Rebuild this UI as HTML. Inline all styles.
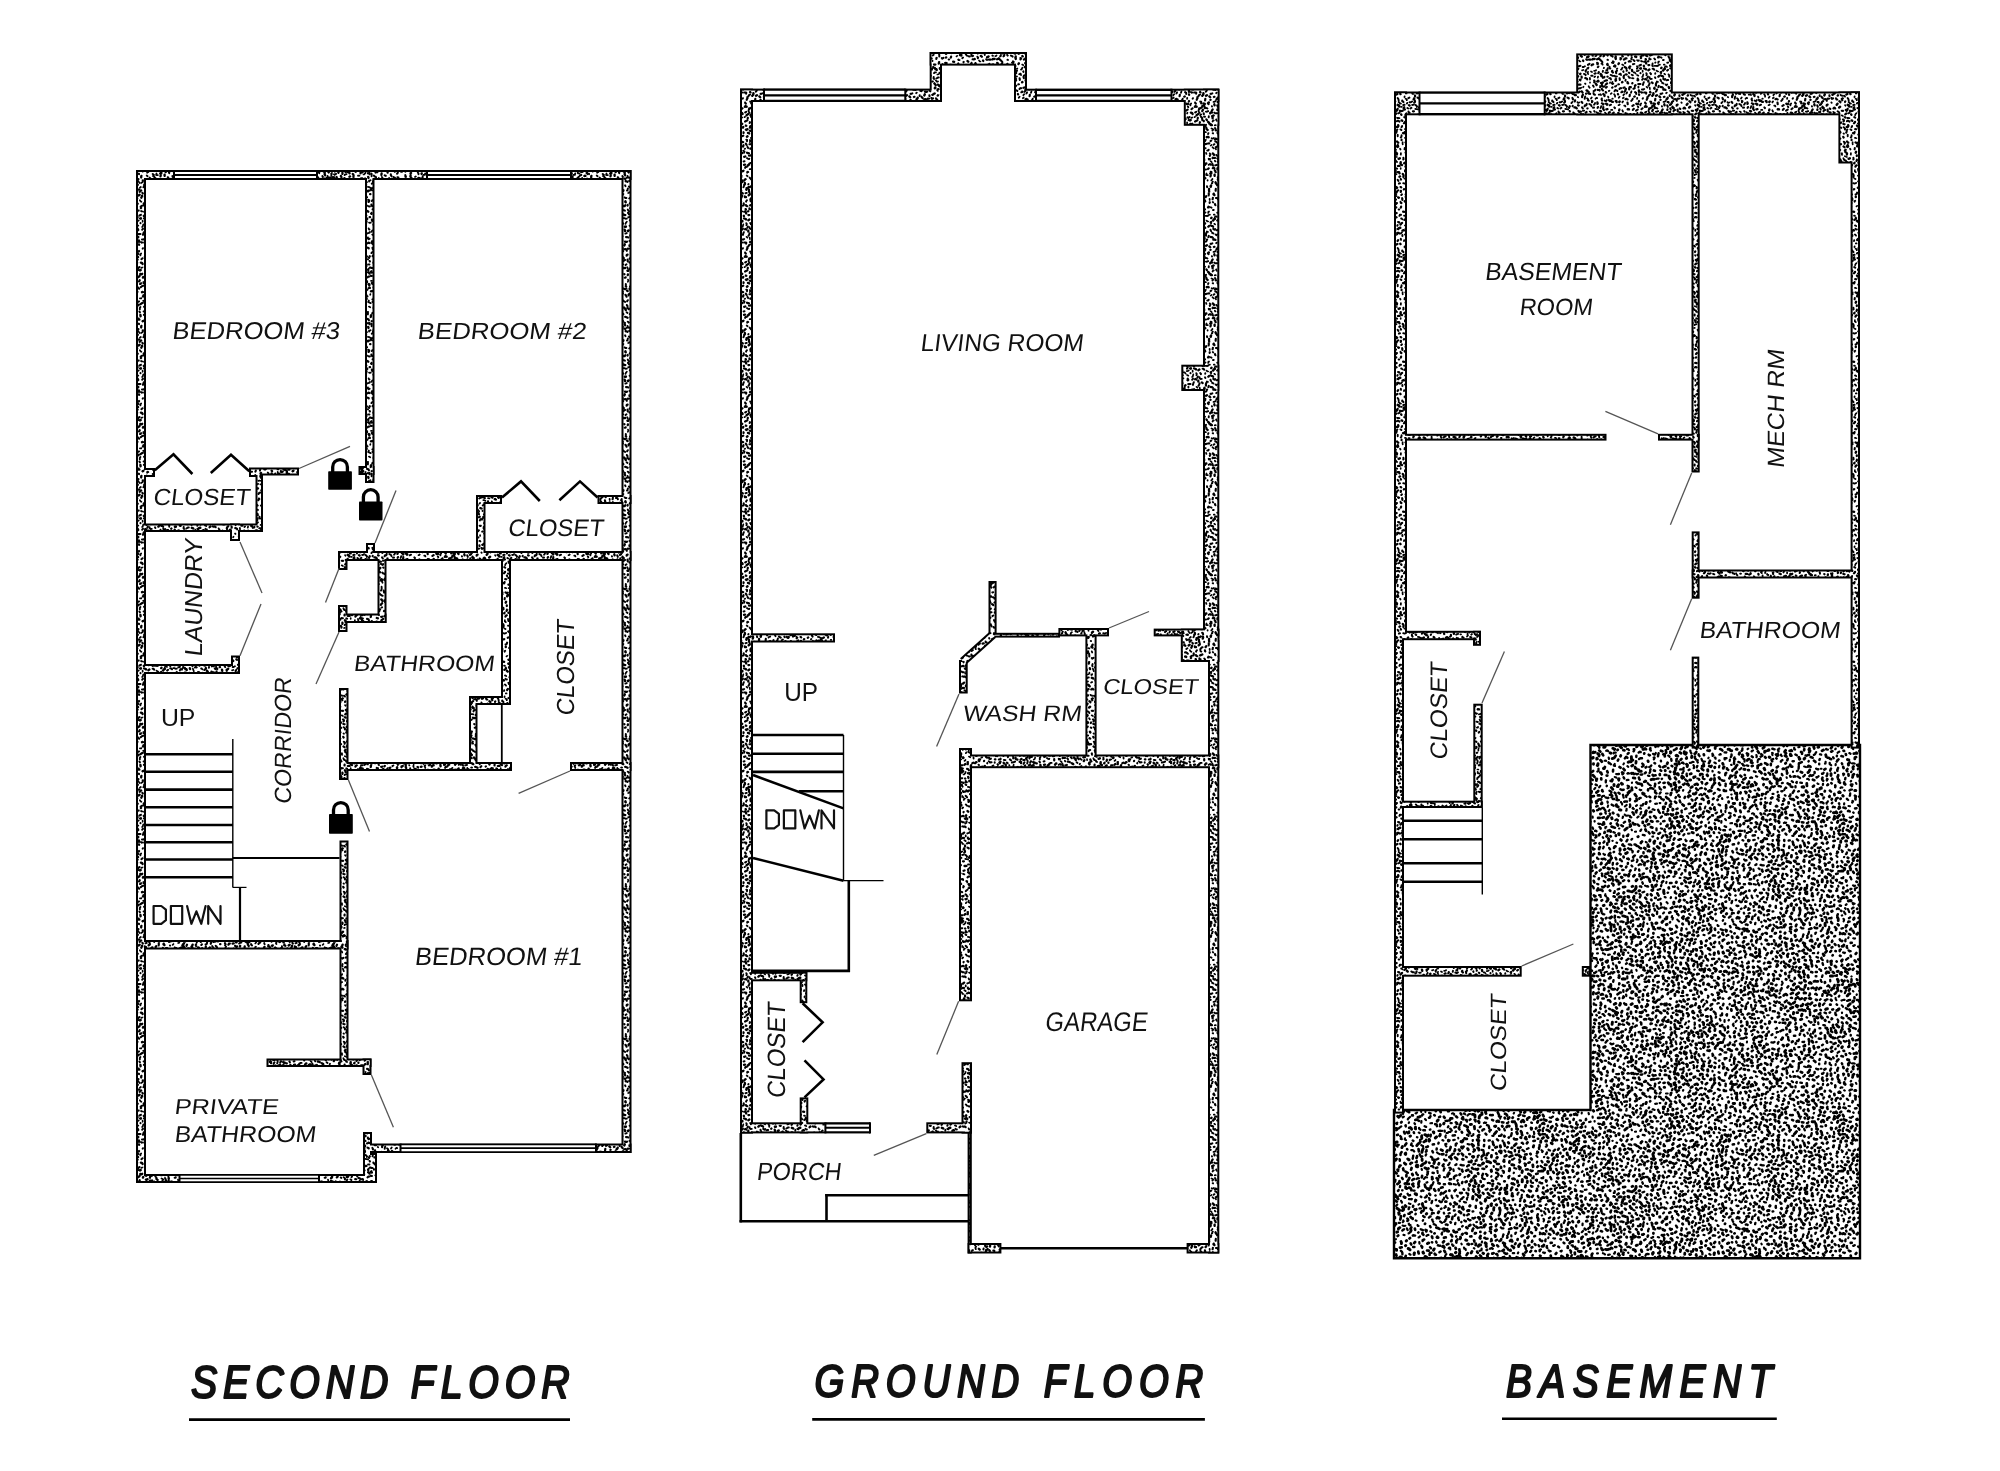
<!DOCTYPE html><html><head><meta charset="utf-8"><style>html,body{margin:0;padding:0;background:#fff;}svg{display:block;}text{font-family:"Liberation Sans",sans-serif;fill:#111;}svg{will-change:transform;}</style></head><body>
<svg width="2000" height="1471" viewBox="0 0 2000 1471">
<defs>
<pattern id="st" width="150" height="150" patternUnits="userSpaceOnUse"><rect width="150" height="150" fill="#fff"/><g stroke="#000" stroke-linecap="round" stroke-linejoin="round" fill="none"><path d="M95.3 56.1l0.8 -0.1l0.4 -0.5M119.8 104.6l-1.0 0.6l-0.3 -0.1M20.3 36.6l-1.2 0.3l-0.6 0.7M70.8 72.6l-1.1 0.4l-0.7 -0.4M77.7 53.0l-0.0 0.7M141.3 -2.0l-0.1 0.5l-1.3 -0.1M141.3 148.0l-0.1 0.5l-1.3 -0.1M87.9 135.5l-0.4 0.1l-0.3 0.1M137.0 74.9l0.4 0.3l0.9 0.4M109.9 83.0l0.2 -0.6M123.4 65.1l-0.9 -0.3l-0.3 -0.3M124.2 105.7l0.9 -0.1l0.3 0.8M112.8 98.8l-0.5 -0.2M110.4 30.8l-0.9 -0.3l-1.1 0.4M18.5 135.1l-0.3 -1.4l-1.1 -0.8M133.7 72.4l0.9 -0.0l1.0 1.1M-0.3 87.6l0.2 1.5M149.7 87.6l0.2 1.5M15.8 125.1l-1.1 0.3M77.4 102.1l0.3 0.1l0.4 0.8l1.2 -0.5M56.5 56.4l0.7 -0.6M52.7 -5.6l-0.1 -0.7l-0.1 -0.7l0.2 -0.8M52.7 144.4l-0.1 -0.7l-0.1 -0.7l0.2 -0.8M6.5 70.6l0.5 0.4l0.5 0.4l0.7 0.1M37.0 9.2l0.1 1.0M63.5 94.0l-1.1 -0.1l-0.1 -0.6l-0.7 -1.2M55.8 22.2l-0.5 -0.5l-0.5 -0.2l0.1 -1.4M90.0 82.7l-0.0 -0.4M77.0 6.0l-0.9 0.2M128.4 0.6l-0.1 -0.7l0.3 -1.4l0.1 -0.3M128.4 150.6l-0.1 -0.7l0.3 -1.4l0.1 -0.3M83.1 87.3l0.4 -0.6M79.0 60.4l0.6 1.0l0.9 0.1M45.0 105.1l0.5 0.7M34.9 21.9l0.2 -0.8l0.2 -1.1M74.1 74.7l-0.9 -0.0M141.2 117.8l0.5 0.0l0.5 -0.3M87.8 29.0l1.2 -0.5l0.1 -0.6M-5.4 -1.1l0.6 -0.3M-5.4 148.9l0.6 -0.3M144.6 -1.1l0.6 -0.3M144.6 148.9l0.6 -0.3M113.8 17.1l-0.5 -0.4l0.1 -1.0l0.3 -1.0M20.8 34.3l-0.1 -0.9l0.9 -1.1l0.3 -0.1M133.8 9.7l1.0 -0.8l0.3 -1.3M71.0 130.8l1.1 -0.0M142.1 76.9l0.5 0.0l0.4 -1.4l0.3 -1.1M125.5 116.7l-0.4 0.1l-0.2 -0.3l-0.1 -0.4M57.9 25.7l0.8 0.0l0.2 0.2l0.6 -0.3M16.9 120.9l-0.9 -1.2l0.2 -0.4M86.7 133.3l-0.4 -0.1l0.0 -0.7l0.8 -1.0M30.1 86.0l-0.0 -0.8M38.6 29.8l-0.2 0.7l0.1 0.3M34.4 137.3l-1.1 1.0l0.1 1.3l0.4 0.5M102.9 116.6l1.1 -0.0l0.6 -0.7M28.0 129.6l0.4 1.1l-0.6 1.1M44.8 6.2l1.0 0.3l0.4 0.2l0.7 0.3M127.4 19.5l1.0 -0.0M50.7 18.8l0.0 -0.7M42.9 68.6l0.1 0.6l0.6 1.4l0.2 0.5M108.0 140.2l-0.2 -1.0l-1.4 -0.2l-1.3 -0.2M138.8 60.2l0.1 0.4l-1.0 0.4l-0.8 -0.8M15.1 74.4l-0.8 -0.6M56.2 138.2l-0.9 -0.4l-0.3 0.1M63.5 24.5l0.6 -0.1l1.0 -1.0l0.6 -1.4M73.1 50.1l-0.9 0.0l-0.4 1.0M56.5 113.1l-0.8 0.8l-0.4 0.6l-0.2 0.7M42.2 95.9l-0.2 -0.5l-1.2 -0.0l-0.3 -0.6M97.2 98.2l-0.1 -0.3l-0.9 -0.0l-0.7 0.9M80.7 39.8l0.6 0.1M124.6 138.4l0.7 0.0l0.3 -0.5M41.7 115.4l0.8 0.1l0.4 0.6M70.2 7.3l-1.3 -0.7M77.7 97.0l0.5 0.3M25.5 73.9l0.5 -1.3l0.8 -0.9M33.5 -0.3l-0.8 -0.4M33.5 149.7l-0.8 -0.4M86.2 93.2l-0.4 0.2l0.2 0.7M4.2 -2.3l1.1 0.7l0.5 -0.3M4.2 147.7l1.1 0.7l0.5 -0.3M154.2 -2.3l1.1 0.7l0.5 -0.3M154.2 147.7l1.1 0.7l0.5 -0.3M128.5 35.1l-0.6 0.2l0.2 0.9l-1.1 0.8M88.1 71.8l-0.6 0.6l0.3 0.8l0.3 0.9M126.5 70.9l0.6 -0.2M71.7 81.8l-0.0 -0.6l0.6 -0.8l0.5 0.1M89.7 111.5l1.0 0.3l0.1 0.5M117.7 -3.8l0.7 -0.0l0.5 0.6l0.8 1.0M117.7 146.2l0.7 -0.0l0.5 0.6l0.8 1.0M55.8 93.4l0.8 -0.0M138.3 31.0l0.7 1.1l0.5 0.9M14.6 64.7l-0.8 -0.1M10.7 -4.4l0.9 -0.7M10.7 145.6l0.9 -0.7M23.5 44.0l-0.8 0.8M11.6 138.2l0.7 0.4l0.5 0.1l1.1 -0.8M38.0 81.4l-0.8 0.4l-0.9 -0.8l-0.6 -0.7M91.0 71.5l1.0 0.6M20.8 83.3l0.1 -1.3M76.7 74.1l1.0 -0.8l-0.1 -0.7M70.4 144.0l-0.2 0.8M-5.5 117.2l0.6 -0.4M144.5 117.2l0.6 -0.4M10.6 57.3l0.3 -0.2l0.8 0.7M17.3 17.8l-0.2 1.2l0.3 0.6l1.3 -0.6M37.4 74.5l1.2 -0.3l0.9 -0.8l-0.1 -0.7M55.5 29.1l-1.2 -0.6M12.7 52.0l0.6 0.5M38.0 48.2l1.5 0.2M51.9 106.8l-1.0 0.0M10.6 11.1l1.1 1.0M105.3 43.4l0.4 -0.4l0.6 -1.0M20.5 119.4l1.0 0.6l0.5 -0.7M14.7 67.7l0.6 -1.4l1.3 -0.0l0.4 0.7M122.3 140.8l-0.9 -0.3l-0.4 -0.7M13.5 101.9l0.6 0.0l0.8 -0.3l0.8 -0.6M142.7 71.8l-0.1 -1.2" stroke-width="1.7"/><path d="M65.4 10.0l-0.2 0.3l-0.6 0.6M22.1 17.6l-0.4 -0.1l-0.6 0.1M101.5 63.7l0.7 -0.2l0.4 1.1M89.6 87.7l-0.6 -0.7l-0.3 -0.7M126.6 142.0l-0.8 -0.7l-0.4 0.2M82.5 132.7l-0.2 -0.4M54.9 84.4l0.7 0.5l0.4 0.7M116.7 132.1l-0.0 -0.9l0.7 -0.9M131.4 91.4l-0.4 1.4M123.0 111.6l-0.6 -1.3M141.0 64.6l-0.3 0.8l-1.1 -0.3l-0.4 0.6M103.8 68.1l0.2 -0.4M32.8 -5.8l0.1 -1.4l0.7 -0.7l-0.5 -0.6M32.8 144.2l0.1 -1.4l0.7 -0.7l-0.5 -0.6M108.5 1.8l-0.9 1.0l0.5 1.2M108.5 151.8l-0.9 1.0l0.5 1.2M65.9 3.1l0.4 -0.7M65.9 153.1l0.4 -0.7M7.6 30.1l-0.0 0.4M6.1 2.9l0.3 1.0M6.1 152.9l0.3 1.0M-1.7 22.1l-0.3 -0.4l-0.8 0.2l-0.1 0.9M148.3 22.1l-0.3 -0.4l-0.8 0.2l-0.1 0.9M6.1 19.5l-1.2 0.2l-0.7 -0.1l-1.0 0.7M113.8 75.9l-1.4 0.0l-0.4 -0.6l-1.4 -0.4M-3.8 73.1l0.7 0.9l-0.5 1.1M146.2 73.1l0.7 0.9l-0.5 1.1M142.5 30.2l0.6 0.9l-0.8 1.2l-1.2 0.7M139.8 37.9l1.0 -0.9M108.1 96.6l0.2 0.4l0.1 0.5M117.0 36.5l0.9 -1.1l-0.4 -1.0l0.1 -1.1M90.7 2.8l-0.1 -0.3l-0.7 -1.2l-0.2 -1.0M90.7 152.8l-0.1 -0.3l-0.7 -1.2l-0.2 -1.0M103.3 30.0l-0.6 -0.7l-0.8 -0.3l-0.4 0.4M34.9 34.2l-0.0 -0.6l-0.5 -0.5l-0.0 -1.0M92.0 40.2l-0.2 -1.1l1.3 -0.4l-0.0 -0.3M12.4 29.0l-0.0 0.3l-1.1 1.0M87.6 139.5l-0.3 0.2M116.7 142.0l-0.0 -0.3M56.2 76.0l-1.2 -0.6M76.1 46.6l-0.6 0.8l-0.1 0.6l0.4 1.1M102.0 134.0l-0.2 0.6M16.0 -0.7l-0.5 -0.8M16.0 149.3l-0.5 -0.8M88.8 100.7l-1.0 -0.4l0.4 -1.1l-1.2 -0.9M30.4 91.4l-0.5 -0.7l-0.4 0.2M104.7 127.3l-0.5 -0.7l-0.3 -0.4M123.4 95.1l0.2 -0.4l0.6 -0.4M86.2 19.6l1.2 -0.7l0.2 -0.7M109.4 15.4l-0.2 -0.3M31.4 102.5l0.3 0.3M59.9 1.6l0.0 0.8M59.9 151.6l0.0 0.8M62.1 104.9l0.7 0.1l1.2 -0.3M94.2 70.8l1.4 -0.2l0.5 -0.5M137.1 98.9l0.1 -1.1M54.6 96.3l-0.1 0.8M43.4 8.2l0.4 0.7l-0.1 0.4l0.7 0.7M73.6 85.5l-0.5 -0.4l-0.8 -0.5M100.7 2.4l0.8 -0.9l1.2 -0.1M100.7 152.4l0.8 -0.9l1.2 -0.1M-0.5 77.1l0.4 1.3l0.6 0.7l1.3 -0.3M149.5 77.1l0.4 1.3l0.6 0.7l1.3 -0.3M37.5 121.9l0.8 0.4l-0.1 0.6l-0.5 0.3M22.6 86.3l-1.1 -0.7M120.3 137.6l0.7 0.1l0.7 -0.6l-0.6 -0.9M74.9 2.7l0.6 1.3l1.0 -0.3M74.9 152.7l0.6 1.3l1.0 -0.3M58.3 82.7l0.6 1.3M47.3 118.0l0.7 0.0l1.4 0.1M83.9 73.9l0.5 0.1l1.3 0.6l-0.1 0.7M29.2 42.2l0.1 0.4l-1.1 0.4M30.9 130.5l0.8 0.4l1.2 0.4M83.8 53.3l1.0 0.4l-0.0 1.4M31.6 9.7l-0.5 -0.3l-0.9 -0.9M44.1 28.0l0.6 -0.2M4.6 65.8l1.3 -0.0l1.4 0.2M154.6 65.8l1.3 -0.0l1.4 0.2M138.6 101.9l0.7 -0.8l-0.3 -0.4M122.5 102.4l-0.2 -0.3l0.7 -0.7M41.1 41.1l-0.4 -0.2M139.9 50.3l0.5 0.8l0.9 0.7M8.2 62.9l0.3 -0.6l-0.2 -0.4l0.7 -0.5M-3.1 8.1l1.1 0.7l1.1 0.3l0.2 -0.4M146.9 8.1l1.1 0.7l1.1 0.3l0.2 -0.4M137.4 24.3l0.5 -0.7l1.2 0.0l0.0 0.7M65.7 54.5l0.5 0.2l0.2 0.5l0.7 0.5M67.2 132.4l-0.0 -1.1l-0.2 -0.3l-0.8 0.1M121.0 75.1l-0.3 -1.3l-0.3 -0.2l-1.2 0.7M56.8 100.2l-0.0 -0.9l-1.2 -0.6M20.3 29.6l0.2 -0.8l0.8 -0.1l0.6 1.2M117.9 119.2l-0.7 -0.4M127.1 92.3l-0.3 0.3l-0.0 0.7l-0.4 0.2M17.4 102.0l1.2 -0.0l0.2 0.9M128.4 76.4l0.7 0.9l0.2 0.6l0.8 -0.1M90.1 123.7l0.5 0.1l0.4 -0.2M15.5 84.5l1.0 0.7l0.7 -0.7M121.0 69.6l0.7 -0.2l0.2 -0.8l0.5 -0.8M126.9 127.6l1.0 -0.1l0.1 -0.7M115.8 26.4l-0.8 0.5M68.1 109.5l-1.1 -0.4l-1.0 0.0l-0.7 -0.2M97.8 77.6l0.2 -0.9M111.6 93.3l-0.8 0.6M39.1 118.2l0.7 1.1M92.3 16.0l0.3 0.2l0.8 -0.8M13.6 -5.1l0.6 -0.7l0.3 -0.1M13.6 144.9l0.6 -0.7l0.3 -0.1M1.3 51.6l-0.9 -0.5l0.0 -0.6M151.3 51.6l-0.9 -0.5l0.0 -0.6M23.4 114.3l-1.0 -0.2l-1.1 -0.0M84.4 0.2l0.4 1.3l0.1 0.7l1.3 0.4M84.4 150.2l0.4 1.3l0.1 0.7l1.3 0.4M105.5 10.1l-0.8 -0.2l-0.9 0.1M35.3 50.8l-1.2 -0.6l-0.4 0.0l-0.3 -0.1M50.8 4.6l0.1 -1.4M50.8 154.6l0.1 -1.4M12.4 130.6l0.8 -1.0l-0.4 -0.6l-1.3 -0.5M9.6 48.8l0.1 1.2M80.5 80.5l-0.8 -0.4l-0.1 -0.4l1.2 -0.3M114.2 94.2l0.8 1.2l0.1 1.4M108.8 91.1l0.6 -0.4M42.2 52.5l-0.4 -1.1M13.5 -1.7l-0.9 -1.1M13.5 148.3l-0.9 -1.1M84.9 66.3l-1.2 0.7l-1.1 -0.0M33.5 3.8l-0.5 -0.5M33.5 153.8l-0.5 -0.5M132.9 75.4l-1.2 -0.7M111.1 104.6l-0.6 0.3l-0.9 0.5M9.9 64.7l-1.2 0.3l-0.4 0.3l-0.1 0.4M58.0 18.8l0.1 1.2l0.4 1.2M128.1 55.5l0.3 -0.3l0.2 -0.2M32.5 61.1l0.0 -0.4M86.3 32.5l1.0 -0.4l0.7 1.1M-0.3 19.2l1.2 -0.0l0.4 -0.3l1.1 -1.0M149.7 19.2l1.2 -0.0l0.4 -0.3l1.1 -1.0M137.4 112.8l-0.3 0.7M91.7 97.5l-0.7 1.0M50.4 -0.5l0.1 -0.3l-0.4 -0.5M50.4 149.5l0.1 -0.3l-0.4 -0.5M70.7 3.1l-1.2 -0.5l-1.2 -0.7l0.5 -1.4M70.7 153.1l-1.2 -0.5l-1.2 -0.7l0.5 -1.4M141.1 103.5l-0.5 0.7l-0.5 0.3l0.3 0.8M23.2 68.2l1.2 -0.1l1.2 0.7l1.3 -0.1M33.3 111.9l0.5 0.5l0.3 0.3l0.7 -0.1M101.0 95.0l-0.5 -0.8l-0.4 0.2l-1.3 0.3M131.8 54.7l-0.4 1.2M58.6 138.2l1.0 -0.1M137.1 122.4l0.0 0.9M99.8 53.0l-0.3 -0.3l-0.2 -1.0M23.6 21.9l-0.3 -0.6l-0.1 -0.3M78.7 28.3l0.1 -0.3M126.4 44.1l-0.4 -0.6l0.2 -1.1l0.6 -0.6M73.5 7.5l0.1 1.1M6.5 23.5l-0.4 1.4l0.8 0.3l0.9 -0.1M60.6 47.5l-1.0 -0.3l-0.6 0.9M130.6 113.9l-0.5 0.1l-1.2 0.3M15.3 11.4l-0.4 -0.6M65.8 86.5l-0.1 -1.2M125.3 18.0l-0.2 -0.8l-0.6 -1.2l0.8 -0.7M70.5 37.9l-1.3 -0.8l-1.3 -0.2M116.4 85.6l-0.5 0.7l-0.9 0.2M111.0 34.3l-0.6 0.1M87.4 125.3l-0.7 -0.6l-0.6 -1.4M-3.4 86.9l0.8 0.7M146.6 86.9l0.8 0.7M-2.4 26.2l-0.9 -0.7M147.6 26.2l-0.9 -0.7M82.8 110.8l1.4 -0.2M81.2 87.7l-1.2 0.8l-0.6 -0.3l-0.6 0.1M52.5 69.3l-0.4 -0.1l-0.3 -0.7l-0.7 -0.0M32.1 81.7l0.5 -0.4l0.4 -0.0M63.8 61.8l-0.5 0.2l0.2 0.5M90.0 79.5l-0.1 -1.5M132.3 28.8l-0.1 -0.9M112.3 109.9l-1.2 -0.0M30.0 13.8l-0.3 0.5M18.1 131.6l0.1 -0.6l0.8 -0.7l-0.3 -0.9M77.7 132.0l1.1 -1.0l-0.4 -0.6l0.3 -1.5M32.7 55.5l1.0 -0.7l-0.1 -0.5M64.9 48.6l-0.7 0.5l-0.4 0.8M105.9 46.8l-0.8 0.5M82.1 70.3l1.2 -0.3M4.1 131.3l0.9 0.9l0.9 -0.0M154.1 131.3l0.9 0.9l0.9 -0.0M129.5 23.6l-0.2 -0.3l-1.5 0.0l-0.1 -1.3M116.1 3.2l0.4 0.6l-1.1 1.0M116.1 153.2l0.4 0.6l-1.1 1.0M121.3 23.4l0.3 -0.3l0.4 0.2l-0.5 1.0M106.6 143.7l0.8 0.1l0.3 -1.0M119.3 127.8l1.1 -0.6l0.7 -1.0l-0.3 -0.7M106.2 113.9l-0.8 -0.8l-0.3 -0.5M-2.5 -3.5l-0.1 0.7l0.7 0.6l-0.0 0.5M-2.5 146.5l-0.1 0.7l0.7 0.6l-0.0 0.5M147.5 -3.5l-0.1 0.7l0.7 0.6l-0.0 0.5M147.5 146.5l-0.1 0.7l0.7 0.6l-0.0 0.5M61.8 -0.9l0.7 0.0l0.3 0.7M61.8 149.1l0.7 0.0l0.3 0.7M-3.0 50.2l-1.0 1.2l0.2 0.3M147.0 50.2l-1.0 1.2l0.2 0.3M5.2 62.8l0.3 -0.4M155.2 62.8l0.3 -0.4M29.0 22.5l-0.4 0.2l-0.4 -0.8l-0.5 -0.2M55.5 78.7l0.4 0.6l1.0 0.2M95.1 76.5l-0.7 0.5M131.4 38.6l-1.1 0.5M119.9 31.5l-0.5 1.0M115.5 121.8l-0.4 0.8l0.0 0.4M61.4 38.9l-0.5 0.3M-1.5 110.5l0.3 1.3l0.8 1.1M148.5 110.5l0.3 1.3l0.8 1.1M27.6 25.9l0.1 0.9l-0.8 1.2l-0.4 -0.2M20.8 109.7l-0.7 -1.3l0.2 -0.2M31.8 32.8l-0.5 0.2l-0.2 0.6M59.6 130.3l0.4 1.4l0.5 1.4l0.8 1.0M43.8 95.8l0.2 -0.2l0.7 0.4l0.3 0.6M44.6 25.1l0.1 -0.4l0.5 -0.1l1.3 -0.4" stroke-width="1.8"/><path d="M10.5 79.6l-0.1 0.4l0.8 1.2M63.1 123.8l1.2 0.5M122.0 28.0l0.7 -0.4l0.0 -1.4M99.9 115.7l-0.4 -0.4l0.4 -0.4l0.6 -1.3M131.9 46.1l0.1 1.3l-1.2 0.8M97.4 -0.9l-0.6 -0.2M97.4 149.1l-0.6 -0.2M18.0 9.3l-0.6 -1.1l-0.3 0.1M35.9 72.4l-1.4 0.1l-0.4 0.6M7.2 0.5l1.1 -0.0l0.3 -0.5l0.1 -0.4M7.2 150.5l1.1 -0.0l0.3 -0.5l0.1 -0.4M18.4 128.6l0.7 -0.4l-0.8 -1.3l0.2 -0.8M125.2 23.5l-0.4 1.4l-1.4 0.0M53.2 33.2l1.3 0.4l1.3 -0.4l0.3 -0.3M98.1 120.8l0.3 -0.3l-0.5 -0.9l-0.1 -0.3M98.9 135.3l0.1 0.8l0.3 1.4M116.9 76.4l-1.2 0.4l-0.5 -0.3l-0.5 -0.7M91.2 75.8l1.4 -0.0M39.1 21.7l-1.0 0.9l0.4 0.4M49.9 83.7l1.0 -0.3l1.0 -1.1M61.1 52.8l-0.7 -1.0l-0.1 -0.3M131.8 59.4l-0.5 -0.2l-0.0 -0.7l0.6 -1.1M71.4 103.1l0.9 -1.1M45.9 85.0l-0.5 0.4M-3.7 139.7l0.8 0.3l-0.1 1.2M146.3 139.7l0.8 0.3l-0.1 1.2M68.4 40.5l-0.4 1.1l-0.9 -0.2l-0.6 -1.2M0.9 74.3l0.1 -0.6l-0.8 -0.6M150.9 74.3l0.1 -0.6l-0.8 -0.6M112.6 126.2l-0.0 -0.7M111.9 62.7l1.3 0.4l0.5 -1.3l-0.8 -0.6M18.6 74.4l0.7 1.2l-0.1 1.1M-0.7 58.3l0.0 1.0l1.4 -0.1M149.3 58.3l0.0 1.0l1.4 -0.1M138.6 29.2l-0.5 -0.2l-1.0 -0.4M132.5 -1.1l-0.1 -1.5M132.5 148.9l-0.1 -1.5M8.8 116.3l-0.1 1.1M46.2 44.1l-0.6 0.8l0.3 1.2l0.6 -0.0M131.4 2.7l1.2 -0.9M131.4 152.7l1.2 -0.9M94.1 104.7l0.6 -0.7l0.1 -0.4l0.3 -0.6M137.6 141.8l-0.9 -0.4M126.4 121.6l1.4 0.4M29.2 48.5l0.7 -0.5l1.4 -0.5l1.1 -0.2M13.1 133.4l-0.4 -0.2M95.6 1.9l-1.2 0.7M95.6 151.9l-1.2 0.7M75.9 40.3l-0.6 0.9M7.4 108.5l-0.6 -0.4l-0.9 -0.2l-1.3 0.4M81.5 7.6l0.6 -0.4M-0.4 27.6l0.8 0.9l0.6 0.9l1.2 -0.1M149.6 27.6l0.8 0.9l0.6 0.9l1.2 -0.1M68.0 114.4l1.1 0.1l0.4 -0.0M139.8 9.4l-0.0 -1.4l0.6 -1.0M62.6 15.3l-1.3 -0.2l-0.3 0.2M101.0 21.8l1.1 -0.0M70.5 30.3l-0.8 0.5l-0.6 0.0l0.0 0.8M12.6 121.5l0.3 -0.7l0.8 -0.4M132.0 78.1l1.4 0.3M117.8 22.6l0.7 0.8l0.0 0.8M37.4 5.8l1.3 -0.1M37.4 155.8l1.3 -0.1M27.5 12.9l-0.9 -0.7M25.1 35.3l0.4 0.9M123.5 72.0l-0.3 -0.4l0.2 -0.3M47.7 136.2l-0.0 -1.4M81.6 136.7l0.1 1.5l-0.1 1.1l-0.6 1.3M38.8 77.5l-0.9 -0.1l-0.9 0.8l-0.7 0.3M1.1 114.4l-0.4 0.1l-0.2 0.3l-0.2 0.5M151.1 114.4l-0.4 0.1l-0.2 0.3l-0.2 0.5M75.2 67.1l-0.1 -0.3l-0.5 -0.6M-1.9 96.3l0.6 -0.3l0.6 -1.3l0.8 -0.1M148.1 96.3l0.6 -0.3l0.6 -1.3l0.8 -0.1M61.2 9.4l-1.2 0.2l-0.4 0.1l0.1 0.6M76.2 81.4l1.5 0.0M47.7 98.1l0.8 1.2l0.2 1.4M95.0 27.7l-1.3 -0.2l-0.2 -0.2l0.1 -0.4M117.1 124.1l0.3 0.7l0.9 0.2M76.0 87.8l0.5 0.0l0.6 0.8l0.8 0.2M86.8 -2.3l0.5 0.8M86.8 147.7l0.5 0.8M59.6 102.3l1.3 -0.0l1.2 -0.8M-1.7 34.4l0.2 -0.3M148.3 34.4l0.2 -0.3M94.7 111.8l-0.5 -0.7M92.4 55.6l0.5 0.2M-0.4 123.1l0.3 -0.4l0.2 -0.5l-0.3 -0.2M149.6 123.1l0.3 -0.4l0.2 -0.5l-0.3 -0.2M65.3 96.6l-0.5 -0.4l0.4 -0.7l-0.3 -0.2M137.4 48.2l-1.1 0.8M43.6 133.4l0.3 0.4M118.2 -0.0l0.8 0.6l0.4 -0.1l0.4 0.9M118.2 150.0l0.8 0.6l0.4 -0.1l0.4 0.9M114.6 44.3l-0.4 -1.2M100.1 86.1l0.3 0.6l-0.3 0.6M27.8 59.6l0.5 1.0l0.8 0.7M101.2 106.3l0.0 0.4l-0.6 1.2M139.5 39.8l-1.4 -0.3l-1.3 0.7l-0.7 -1.1M66.9 107.0l0.2 -0.5l-0.4 -0.5l-1.1 -1.0M40.4 138.7l-0.8 -0.7l-0.3 0.4M11.8 33.4l0.4 0.0l0.2 -1.3l0.4 -0.4M31.7 40.3l1.2 -0.8M26.5 114.3l-0.8 0.5l-0.1 0.4M51.5 127.2l0.5 -0.6l0.1 -0.6M51.4 140.3l0.4 -0.3l-0.2 -0.5M54.2 90.3l0.0 0.4l-0.2 0.3M107.5 0.4l-0.4 -0.5l-0.5 0.4M107.5 150.4l-0.4 -0.5l-0.5 0.4M87.5 120.2l0.4 -0.2l1.1 0.1M1.6 12.9l-1.3 0.1l-1.0 0.5l0.1 1.1M151.6 12.9l-1.3 0.1l-1.0 0.5l0.1 1.1M132.9 64.2l1.5 -0.3M89.1 38.0l0.3 0.6M138.7 70.5l-0.7 0.3l-1.2 0.3M5.9 111.6l1.1 0.1l1.1 -0.6M155.9 111.6l1.1 0.1l1.1 -0.6M142.2 61.4l-0.6 0.0l-0.5 -0.4M42.1 74.1l-0.1 0.5l-0.6 0.3M-0.6 -5.7l1.4 -0.1l0.1 -0.3M-0.6 144.3l1.4 -0.1l0.1 -0.3M149.4 -5.7l1.4 -0.1l0.1 -0.3M149.4 144.3l1.4 -0.1l0.1 -0.3M16.7 92.7l-0.5 0.5M20.2 45.6l-0.3 -0.1M121.9 34.1l-0.6 0.6M118.2 84.4l0.5 -0.2l0.4 0.1M121.6 41.9l0.2 -1.0l1.1 -0.2M69.5 79.5l-0.4 -0.0l-0.4 -1.0M104.6 54.9l-0.8 0.2l0.2 1.1l-0.6 0.2M2.9 66.1l-0.6 -0.4l0.1 -0.8l0.2 -1.4M152.9 66.1l-0.6 -0.4l0.1 -0.8l0.2 -1.4M24.9 60.7l-1.1 -0.6M50.5 51.7l0.2 1.2l0.7 0.4l0.2 -0.3M78.5 114.9l-0.9 0.4M106.2 34.6l1.0 -0.5l1.0 -0.2M50.8 137.4l0.6 -0.6l0.1 -1.0l0.1 -0.7M32.0 69.7l-1.1 -0.8l-0.5 0.4l-0.6 1.2M-3.7 111.8l-1.0 0.7l-0.2 -0.2M146.3 111.8l-1.0 0.7l-0.2 -0.2M14.2 112.6l0.3 0.3l1.3 0.4l1.4 -0.0M64.5 90.3l1.1 0.8M54.6 51.7l-0.1 -0.6l0.7 -0.3M87.2 116.6l-0.8 -0.6l-0.0 -0.7M60.6 114.7l0.4 0.5M85.1 83.6l0.3 0.3M82.8 32.4l-0.4 -0.1l-0.3 -0.4l0.2 -0.9M27.0 40.6l0.6 -0.3l-0.0 -0.7l0.3 -1.2M62.4 28.2l-0.6 -0.1l-0.5 -0.0l-0.5 0.4M5.0 77.3l0.4 0.7M155.0 77.3l0.4 0.7M54.4 39.2l-0.5 -0.2l-0.2 0.6M43.7 127.2l0.9 0.7l0.6 1.0l-0.3 0.5M42.0 82.1l-0.8 0.4M33.2 66.7l0.5 0.7l-1.1 0.9M57.2 102.9l-0.3 0.5M29.1 98.7l-1.3 -0.2l-0.4 0.4M54.9 65.9l-0.8 -0.2M5.7 139.9l-0.6 1.2M155.7 139.9l-0.6 1.2M50.5 129.4l0.9 0.7M29.6 53.5l0.4 -0.5M47.7 75.0l-0.3 0.2l-0.1 0.6M90.6 33.1l-0.6 0.1M45.6 10.4l0.8 1.2l0.1 0.3l0.6 0.0M109.2 78.2l1.4 0.1l0.4 1.2M42.6 64.1l-0.4 1.2l0.3 1.1M26.7 83.1l-1.3 0.5M120.1 37.0l1.4 0.5M84.7 98.8l0.2 -1.3l0.3 -1.0M138.4 86.6l-0.0 0.9M106.8 100.1l-0.8 1.0l-1.3 -0.5M16.3 4.9l0.9 1.0l1.2 0.2M16.3 154.9l0.9 1.0l1.2 0.2M9.8 3.4l0.7 1.3l-0.8 0.9l0.2 0.4M9.8 153.4l0.7 1.3l-0.8 0.9l0.2 0.4M20.3 65.1l-0.4 0.5l0.4 0.6M10.5 14.8l-0.1 -0.6l-0.4 -0.2l-1.3 0.8M112.4 82.1l-0.6 1.2l0.6 0.7l0.9 -0.3M42.8 119.5l0.9 0.0l0.4 1.3l-0.7 0.8M66.8 71.2l-0.5 0.5l0.2 1.0l-1.2 0.7M102.7 71.9l0.1 -0.4l0.2 -0.7M89.3 104.0l0.7 0.4l0.9 0.5l0.7 1.3M7.8 81.9l-0.9 -0.3M97.9 15.1l0.1 -0.7l-0.5 -0.1M71.0 63.6l0.3 0.5l0.5 -0.1l-0.2 -1.3M123.6 97.5l-0.6 0.7M112.9 134.1l0.3 -0.0l0.5 0.0l0.9 -1.1M63.2 47.4l-0.4 -0.5l-0.6 -0.8M93.7 86.8l-0.7 -1.2M129.7 119.6l0.2 0.4l0.3 1.0l0.9 0.1M34.0 24.3l0.7 0.6l1.0 -0.9l0.4 -0.2M143.3 0.7l1.2 0.8l-0.4 1.3M143.3 150.7l1.2 0.8l-0.4 1.3M45.3 79.8l0.0 1.0M133.5 122.4l0.2 -0.5l0.3 -1.0l0.7 -0.8M71.6 26.3l0.0 -0.9l0.1 -1.0l-0.1 -0.8M127.2 13.6l0.2 -1.0l0.3 -0.5l-0.1 -1.3M94.3 -1.3l0.2 -0.8l-1.1 -0.7l-0.7 0.0M94.3 148.7l0.2 -0.8l-1.1 -0.7l-0.7 0.0M125.4 80.7l0.2 -1.0M48.2 113.2l0.3 0.2l0.9 -0.4l0.3 -1.1M11.9 106.2l0.1 0.4M61.3 3.2l0.0 1.4l-0.5 1.0l0.6 1.2M61.3 153.2l0.0 1.4l-0.5 1.0l0.6 1.2M143.4 37.2l0.4 -0.6M107.6 68.3l-0.1 1.1l-0.2 0.8l-1.0 0.1M112.0 121.1l-0.8 0.7l-0.3 0.3l0.9 0.9M97.3 27.2l1.2 0.3M91.6 12.3l-1.5 0.2l-0.7 -0.8l-0.7 -0.5M2.4 2.1l0.3 0.2l-0.1 1.2M2.4 152.1l0.3 0.2l-0.1 1.2M152.4 2.1l0.3 0.2l-0.1 1.2M152.4 152.1l0.3 0.2l-0.1 1.2M112.8 0.7l-1.3 0.4l-0.4 0.6l0.2 0.2M112.8 150.7l-1.3 0.4l-0.4 0.6l0.2 0.2M27.6 118.2l-0.4 -0.9M48.7 102.1l0.8 0.6l0.5 0.7l0.9 0.2M140.9 92.1l0.8 0.6l0.6 -0.2M119.5 96.7l-0.2 0.3l-0.5 0.7M5.2 73.8l0.1 -0.7M155.2 73.8l0.1 -0.7M0.0 140.1l0.3 0.2l0.3 0.7l-0.7 1.0M150.0 140.1l0.3 0.2l0.3 0.7l-0.7 1.0M113.1 6.9l0.2 0.3l-0.1 0.5l-0.1 0.8M82.4 27.6l-0.5 -0.6M-4.5 43.2l1.3 -0.3M145.5 43.2l1.3 -0.3M98.7 113.1l-1.4 -0.1l-0.6 -0.7M80.7 35.0l0.4 -0.7M69.8 40.7l0.6 -0.9l0.7 -0.3l1.0 0.9M18.3 143.9l-1.0 -1.1l-0.9 -1.0l-1.2 -0.3M58.1 108.5l-0.4 -0.5l-0.4 0.1M0.2 91.5l-0.3 0.7l0.8 0.4M150.2 91.5l-0.3 0.7l0.8 0.4" stroke-width="1.9"/><path d="M9.3 75.7l-0.8 1.1l-0.3 -0.2M87.0 59.9l-0.5 -0.3l-0.3 -0.4M88.3 67.7l-0.4 0.7l-0.5 -0.2M18.1 62.6l-0.8 0.2M43.5 57.8l-1.3 0.8l-0.4 -0.6M2.6 68.7l1.0 0.0l0.6 1.0M152.6 68.7l1.0 0.0l0.6 1.0M131.3 11.5l-0.6 -0.2l-0.5 1.4M128.8 41.7l0.9 0.5l0.6 -0.3M22.4 26.0l0.5 0.9M39.1 53.5l0.0 0.5l0.2 1.1l-0.0 1.5M4.2 42.1l-0.0 -0.3M154.2 42.1l-0.0 -0.3M141.4 109.2l0.9 -0.8l0.3 -0.2M19.2 23.2l0.1 -0.6l-0.4 -0.3M27.2 1.1l0.6 -0.9M27.2 151.1l0.6 -0.9M83.4 49.5l0.2 -1.1M83.2 117.5l0.3 0.3M72.4 -0.6l1.0 -0.2l0.1 -0.3l0.4 -1.4M72.4 149.4l1.0 -0.2l0.1 -0.3l0.4 -1.4M36.0 16.3l-0.4 0.3M76.1 27.9l-0.3 -1.2l-1.1 -0.1l-0.8 -1.0M30.8 75.7l-0.1 0.3l-1.1 -0.3M103.1 104.7l-0.2 -0.3l0.1 -0.8l-1.2 -0.3M94.9 94.8l-0.5 -0.2l-0.7 -0.5l-0.2 -1.1M19.7 122.3l0.2 0.8l0.1 0.6M143.5 133.2l0.2 -0.8l-0.3 -0.3M93.6 137.4l0.9 -0.7l0.2 -0.3l0.9 0.2M109.5 66.8l-0.1 0.3l-0.1 1.1l1.0 0.3M97.9 44.3l-0.2 -1.0l-1.1 -0.9l-1.2 -0.8M-3.5 38.0l0.1 0.3l-0.5 1.2l0.2 0.5M146.5 38.0l0.1 0.3l-0.5 1.2l0.2 0.5M69.9 82.0l-0.3 0.5l-0.8 0.4l-1.4 0.5M20.8 7.3l0.4 0.3l0.6 0.6M133.7 4.5l0.8 -0.1l0.8 0.1M133.7 154.5l0.8 -0.1l0.8 0.1M120.9 113.9l-0.2 0.9l1.0 0.8l1.1 0.6M37.7 111.3l1.2 0.7l0.4 1.0M46.8 42.4l-0.1 -0.5l0.9 -1.2l0.7 -0.4M114.5 91.2l0.8 -1.2l1.2 0.4l0.8 0.5M49.2 59.4l-0.5 0.1M38.7 89.1l-1.1 0.1l-0.3 1.0l0.4 0.6M136.2 94.1l-0.0 -1.2l-1.1 -0.8M77.9 58.3l0.2 -0.7l-0.6 -0.5l-0.1 -0.4M6.0 124.8l-0.9 0.5l0.3 1.3M116.9 68.9l0.3 -0.3M9.6 53.0l0.0 -0.7l0.3 -0.1M1.6 4.5l-0.5 0.8l-1.2 0.4l-1.0 -0.1M1.6 154.5l-0.5 0.8l-1.2 0.4l-1.0 -0.1M151.6 4.5l-0.5 0.8l-1.2 0.4l-1.0 -0.1M151.6 154.5l-0.5 0.8l-1.2 0.4l-1.0 -0.1M65.8 141.2l0.6 -0.7l1.0 -0.7M111.1 10.4l-0.3 -0.3l-0.9 -0.7M107.1 54.9l0.6 0.7M113.8 112.6l-0.0 0.3l-1.2 0.3M53.3 9.4l0.3 -0.2l-0.2 -1.5M120.4 59.5l0.8 -0.9l-0.3 -0.7l-0.7 0.2M142.9 98.2l-0.2 0.4M116.1 31.1l-1.0 0.7l-0.1 0.3M62.3 58.2l0.7 -0.6M143.4 135.7l-1.2 0.3l-0.9 0.9l-0.5 0.3M59.0 66.9l-0.1 0.8M102.0 45.6l-0.0 -0.3l-0.8 -0.5l-0.2 -0.7M54.8 -2.0l-0.2 1.3M54.8 148.0l-0.2 1.3M51.0 64.8l-1.1 -0.1l-0.1 0.6l-0.3 0.5M87.3 13.0l-0.1 0.4M78.6 14.7l0.4 0.4M26.4 47.9l-1.0 0.0l-0.6 -0.5M95.3 89.7l-0.6 1.0l-1.1 0.5M16.9 14.9l-0.3 0.2l-1.1 0.2l-0.3 -0.1M8.1 134.0l0.3 -0.8M16.4 80.2l1.3 -0.2l0.5 -0.0M137.7 109.6l-0.5 0.3l-1.1 0.7M7.0 36.2l0.2 1.0M59.6 112.7l-0.5 0.2l-0.5 -0.9l-0.1 -0.5M17.9 49.2l-0.6 -1.1l-1.4 0.0M1.0 138.0l0.5 -0.1M151.0 138.0l0.5 -0.1M7.2 89.5l-0.3 -0.0l-0.2 1.1l-0.8 1.1M120.2 4.7l-0.1 1.0l-0.2 0.3M120.2 154.7l-0.1 1.0l-0.2 0.3M26.8 140.7l0.8 -0.1l0.2 0.6M73.3 133.5l-1.2 -0.9l-0.4 0.5l0.6 0.8M15.7 -2.8l1.2 -0.4l0.8 -1.0l0.1 -0.8M15.7 147.2l1.2 -0.4l0.8 -1.0l0.1 -0.8M103.4 5.4l0.1 0.6M103.4 155.4l0.1 0.6M107.9 59.9l-0.4 -0.1M4.3 58.5l0.7 0.9M154.3 58.5l0.7 0.9M68.5 138.2l0.3 -0.3l1.3 0.1M119.5 89.0l0.3 -0.6l0.9 -0.3l0.5 0.1M51.0 89.8l-0.2 -0.3l-0.0 -0.7M10.5 93.8l0.6 0.2l1.2 -0.7M23.5 111.4l0.3 -1.1l1.4 -0.3M5.0 116.7l-0.9 0.0M155.0 116.7l-0.9 0.0M82.2 122.6l1.0 0.9l0.5 -0.1l0.8 0.5M113.6 37.8l-1.3 -0.4l0.1 -0.7M79.8 127.4l-0.9 -0.1M63.9 72.3l-1.4 -0.1l-0.8 -0.6l-0.4 -0.1M140.5 84.0l-1.1 -0.0l-0.1 0.3l-1.1 -0.2M-3.7 17.1l-0.4 -0.1l-0.5 0.1l-0.3 0.8M146.3 17.1l-0.4 -0.1l-0.5 0.1l-0.3 0.8M110.0 20.7l0.2 -1.3l-0.0 -1.2M50.4 36.9l0.6 0.1l0.3 0.5M46.2 132.6l0.5 -0.8l-0.0 -1.5l0.6 -0.8M131.3 100.9l0.9 -1.0l0.5 -1.1M-0.6 65.0l-1.0 0.3l-0.1 -0.3M149.4 65.0l-1.0 0.3l-0.1 -0.3M19.7 95.2l-0.1 0.8M107.7 76.5l-0.3 0.2M94.3 117.6l-1.1 -0.8l-0.3 -0.5l0.2 -0.6M106.9 86.9l-0.9 0.9M19.7 59.0l-0.2 -1.4l-0.5 -0.0l-0.5 -1.1M100.1 56.2l0.5 0.1l0.3 -1.4M46.3 18.4l0.8 0.3M73.9 119.1l0.1 0.6M112.6 56.6l-0.2 -0.5l-0.4 -0.1l-1.1 -0.4M140.5 73.3l0.0 -0.4M72.9 99.4l0.2 -0.3l-0.4 -0.5l-0.3 -0.7M134.4 -4.8l0.5 0.1l1.2 -0.2l0.1 0.8M134.4 145.2l0.5 0.1l1.2 -0.2l0.1 0.8M37.1 28.0l-0.8 -0.7l0.3 -0.4M60.4 108.5l0.4 -0.3l0.6 -0.3M114.4 107.4l0.6 0.5l-0.1 0.3M141.9 142.6l-0.1 -0.5l0.5 -0.4l1.0 0.4M73.0 31.7l0.4 0.8l-0.4 0.5l-1.1 0.7M60.6 129.3l-0.2 -0.6l-1.2 -0.6l-0.9 -0.1M58.4 98.1l1.0 -0.5M46.5 36.9l0.8 0.8l-0.7 0.7M67.9 87.5l-0.1 0.8l0.7 1.0l1.1 -0.6M81.4 102.0l0.3 -0.2l0.7 1.2M97.8 22.0l0.0 0.7l-0.3 0.8l-0.4 0.2M92.8 120.8l0.3 0.3l0.5 0.2M128.9 26.7l-0.6 0.5l-0.9 0.8l-0.2 1.1M94.7 12.2l-0.0 0.5M125.4 113.1l0.7 0.4l0.5 0.2l0.3 -0.2M2.8 24.0l1.1 0.9l-0.8 1.1M152.8 24.0l1.1 0.9l-0.8 1.1M48.0 72.0l1.2 0.3l0.0 0.5M109.3 137.2l0.3 -0.2l0.4 -1.0l0.1 -1.0M107.8 6.3l0.3 0.2l-0.2 0.7M85.6 41.5l0.2 0.9l0.9 0.2M13.7 59.9l-0.6 0.1M-3.9 93.7l0.2 -0.9l-0.8 -0.3l-1.4 0.1M146.1 93.7l0.2 -0.9l-0.8 -0.3l-1.4 0.1M16.3 130.5l-0.8 -0.3l0.1 -1.2l-0.6 -1.0M91.3 134.5l-0.7 0.9l0.2 0.9l0.5 1.4M142.9 84.9l0.4 -1.4l0.5 -1.3M139.9 134.1l0.7 -0.0l0.5 -1.0M34.0 78.9l-0.4 -0.5l0.1 -1.3M34.8 41.6l0.4 0.1l0.2 -0.3l0.2 -0.3M37.3 99.4l-0.9 0.1l-0.4 -1.2M98.9 42.4l0.8 -0.6l0.7 -0.9M25.8 134.0l0.1 1.1l-0.2 1.3l0.6 0.3M137.1 66.3l0.6 0.8l-0.1 0.6l-0.6 0.9M78.3 66.3l0.8 -0.1l1.3 -0.5M54.3 117.1l0.9 0.6M12.2 82.8l0.8 0.4l0.4 0.3M97.2 139.1l0.5 0.6l0.6 0.9M34.5 121.0l0.4 -0.2l0.3 0.2M47.7 29.9l0.7 1.0M118.8 138.8l-0.8 -0.0l-0.5 0.3M92.3 142.4l0.9 -0.2M58.0 123.6l1.2 0.1l0.6 -0.0l0.8 -0.4M78.2 36.9l-0.2 0.8M69.9 56.5l-0.3 -0.1l-1.2 -0.2M72.7 105.7l-0.1 0.6M125.9 -1.7l0.8 -1.2l-0.5 -0.4M125.9 148.3l0.8 -1.2l-0.5 -0.4M-0.4 83.4l-0.5 1.3l-0.6 1.1M149.6 83.4l-0.5 1.3l-0.6 1.1M93.0 107.7l1.0 -0.1M49.5 121.7l-1.0 -0.9l-1.3 -0.1l-0.2 0.6M139.0 1.4l-1.0 0.6M139.0 151.4l-1.0 0.6M27.7 54.9l0.1 0.3l-0.2 0.5M19.9 52.7l0.4 0.6l-0.6 0.8M10.0 23.4l1.5 -0.0l0.0 -1.4l-0.9 -0.3M2.6 47.2l-1.0 0.3l-0.8 1.2l-0.5 0.5M152.6 47.2l-1.0 0.3l-0.8 1.2l-0.5 0.5M111.5 40.1l-0.3 0.2M17.8 106.9l-0.4 -1.3l-0.2 -0.3M85.8 71.7l-0.3 -0.9l0.8 -0.9M25.2 2.0l-1.1 -0.8l-0.8 -0.1l-0.4 -0.8M25.2 152.0l-1.1 -0.8l-0.8 -0.1l-0.4 -0.8M133.7 60.1l0.8 0.9M115.0 11.6l-1.1 0.6l-0.8 0.1l-1.2 0.2M126.8 74.6l-0.4 -0.3l-1.0 0.1M107.1 104.9l0.4 -0.5l-1.0 -0.8l-1.2 0.2M8.8 85.9l-0.5 1.2M72.0 126.0l-1.1 -0.1l-0.1 -0.3M124.6 33.6l0.5 0.7l1.0 0.8l1.0 -1.0M139.4 11.5l0.3 0.4l0.2 0.5M102.5 131.3l0.6 -0.2l0.5 0.2l1.2 -0.0M137.9 106.6l0.3 0.5M55.8 67.6l0.3 1.0l-1.2 0.8l-0.6 0.6M123.1 9.9l1.5 0.2M90.5 116.2l-0.4 0.1M125.1 63.1l0.3 -0.4M81.0 16.7l0.9 0.3l0.6 -0.5M36.0 2.0l-0.3 -0.3l-0.3 -0.3M36.0 152.0l-0.3 -0.3l-0.3 -0.3M137.5 117.3l0.9 0.7l1.1 -1.0M52.4 85.1l-0.0 0.3l-0.0 0.5M37.5 18.8l1.2 0.3l1.3 0.7l0.4 -0.1" stroke-width="2.0"/><path d="M10.0 9.1l-0.9 0.3l-0.3 -0.5M85.2 78.1l1.1 0.2l0.8 0.6l0.1 0.5M110.3 42.5l-1.1 0.4l-0.7 1.0M100.5 8.7l0.2 0.3l-0.7 0.5l-1.2 0.0M52.9 133.1l1.3 0.4l0.4 -1.4M40.2 0.0l-1.1 0.2l-0.5 0.9M40.2 150.0l-1.1 0.2l-0.5 0.9M31.4 23.6l0.3 0.2l-0.4 1.3M15.0 54.0l0.0 0.6l0.4 0.5M116.1 78.9l-0.7 0.4l0.7 1.2l-0.6 0.3M49.0 33.6l0.9 -0.3M29.2 30.9l0.5 -0.5M118.7 49.5l-0.7 0.7M-3.3 99.8l0.2 -0.6l0.7 -1.3l-0.3 -0.6M146.7 99.8l0.2 -0.6l0.7 -1.3l-0.3 -0.6M124.5 31.3l-1.2 0.7M137.8 53.7l-0.9 -0.8l-1.2 -0.7l-0.6 0.3M130.9 141.6l1.2 -0.0l-0.0 -0.5M84.2 142.6l-0.3 -0.9l-0.2 -1.2M15.8 38.9l-0.2 1.4l0.1 0.5M116.8 40.3l0.1 0.5M63.4 136.2l0.4 0.3l-0.5 0.8M86.7 103.9l-0.3 1.2l-1.4 0.3l-0.4 0.8M10.5 141.1l0.7 -0.6M103.7 -2.5l-0.4 -0.8l-0.5 0.1l-0.1 0.4M103.7 147.5l-0.4 -0.8l-0.5 0.1l-0.1 0.4M75.9 125.1l-0.4 0.3M123.4 87.8l1.2 -0.4M82.8 108.5l-0.7 -1.1M51.3 45.0l0.3 -0.3l0.3 -0.4M5.3 51.3l-0.3 -0.2l-0.1 -0.9M155.3 51.3l-0.3 -0.2l-0.1 -0.9M44.6 143.8l0.3 -1.0l-1.0 -1.0M123.3 122.4l-0.5 0.4l0.4 1.3M12.3 13.7l-0.2 1.0l0.5 0.7l0.4 -0.2M29.0 36.5l0.5 0.5l1.2 0.7M130.3 66.5l-0.5 -0.2l-0.7 1.1l0.6 1.0M61.8 129.3l1.0 -0.2l0.3 0.9M46.7 63.1l-1.3 -0.2l-0.3 0.1M117.4 17.0l0.4 -0.1l0.3 0.8M58.6 119.0l-0.6 0.6l0.3 0.9l1.4 -0.2M98.2 2.1l-0.8 0.7l0.0 0.7l0.3 1.1M98.2 152.1l-0.8 0.7l0.0 0.7l0.3 1.1M131.2 117.7l-1.1 -0.8M69.7 111.0l0.2 0.5M111.8 49.2l0.3 -0.2M31.3 16.2l-0.7 0.6l-0.1 0.5M104.4 81.1l1.0 -0.5l1.3 -0.2l0.3 -0.1M125.8 39.7l-0.4 -1.0l-0.3 -0.3l-1.3 0.1M52.4 50.0l-0.2 -0.8l0.2 -0.4l-0.3 -0.7M127.7 99.4l-1.0 -0.3l-0.3 -0.3l-1.0 0.4M133.2 36.1l-0.9 -0.9M29.4 95.2l0.1 0.9M66.9 93.4l1.4 -0.4l0.2 -0.5l1.2 0.6M20.1 116.9l-0.4 -0.2l-0.8 0.1l-0.1 -0.6M135.5 118.5l0.2 0.6M143.7 11.4l0.8 -0.2M93.3 50.6l0.8 0.0l0.3 0.3M43.3 123.9l1.3 0.4M26.9 5.1l0.3 0.8l0.4 0.2M26.9 155.1l0.3 0.8l0.4 0.2M128.9 72.7l0.4 0.4M41.3 127.8l-0.4 -0.3M40.9 18.5l0.6 -0.4l1.4 0.1M39.3 101.2l1.2 0.6l-0.1 0.6M123.9 78.1l-0.4 -1.2l0.5 -1.3M36.7 57.9l-0.3 0.1l-0.1 1.0M67.0 18.9l1.5 0.3l0.4 1.1M102.1 100.6l-0.5 -1.2l0.2 -0.9M108.1 38.4l-0.8 0.3l-0.5 -0.8M62.8 76.4l0.6 0.3l1.3 -0.3l1.0 0.7M82.6 -4.3l-0.4 0.0l-0.9 -0.6M82.6 145.7l-0.4 0.0l-0.9 -0.6M26.8 100.8l-0.3 -1.0l-0.9 -0.7l-1.5 0.1M67.4 -3.5l-0.4 -0.2l-0.6 -1.3l-0.8 -0.6M67.4 146.5l-0.4 -0.2l-0.6 -1.3l-0.8 -0.6M100.6 123.1l0.2 0.5l-1.0 0.8l-0.7 0.3M12.9 47.8l-0.3 1.5M78.6 84.7l0.6 -0.2l1.3 0.1M28.3 67.2l0.9 0.0l0.5 -0.2l0.1 -0.3M83.8 43.4l-1.3 0.2M71.4 54.5l0.1 0.8l0.8 0.9l0.7 -0.4M99.6 90.6l-0.0 -0.6l-0.9 0.0l-1.1 -0.1M103.0 90.4l-1.0 -1.0l-0.1 -0.5M97.1 81.6l1.1 -1.0l0.3 0.2l0.2 0.7M91.9 100.9l0.5 0.4l-0.2 0.3l-0.2 0.7M68.0 12.0l-0.5 0.2l0.4 1.2l-0.1 0.9M21.9 103.0l-0.3 -0.2l0.5 -1.0l1.0 -0.7M99.6 49.8l0.6 -0.2l-0.0 -0.5M107.8 72.3l-1.1 0.7l-1.3 -0.4M22.0 51.2l-0.9 -0.9l0.6 -1.1M17.2 70.6l0.4 -0.4l0.5 -0.4M109.9 112.1l-0.7 0.1l-0.3 0.4l-0.2 0.4M30.1 136.4l0.4 0.3l0.3 -0.2l0.3 -0.3M54.5 104.8l-1.1 0.3M94.8 21.7l-0.6 -1.3l-0.2 -0.3M120.2 -5.8l0.8 -0.1M120.2 144.2l0.8 -0.1M115.5 1.3l-0.3 -0.6M115.5 151.3l-0.3 -0.6M24.2 124.0l0.3 0.3M100.7 119.4l0.2 1.1M57.3 126.4l-0.4 -0.9M31.3 98.0l0.3 0.1l0.5 0.8l1.0 -0.5M87.3 108.5l0.3 -0.1M85.1 29.5l-0.4 -0.1M55.6 44.4l0.7 -0.3l0.4 -0.3l0.4 -1.1M35.2 117.4l-0.3 0.5M6.4 143.9l-0.7 -0.0l-1.1 0.6l-1.3 0.2M7.9 57.5l0.8 -0.0l0.3 -0.6l-0.6 -0.3M65.4 -1.0l0.5 0.5l0.9 -0.6M65.4 149.0l0.5 0.5l0.9 -0.6M55.2 129.1l1.1 0.1M26.6 -3.3l-0.6 -1.2l-0.6 -0.7M26.6 146.7l-0.6 -1.2l-0.6 -0.7M72.6 59.3l1.2 0.2l0.7 -0.6l0.4 0.3M41.7 110.8l1.3 0.1M21.7 -0.6l-1.4 0.4l-0.9 -0.7M21.7 149.4l-1.4 0.4l-0.9 -0.7M73.4 112.6l0.2 0.7l0.8 0.0l0.4 1.1M32.4 123.3l-0.2 0.9l-0.6 0.2l-0.5 -0.9M88.0 64.8l0.8 -0.4l0.6 -0.6M56.4 11.0l0.5 -0.4l0.0 -1.1M66.2 35.0l-0.6 -0.6M-5.9 89.0l-0.7 0.5l-1.4 -0.0M144.1 89.0l-0.7 0.5l-1.4 -0.0M26.0 87.1l1.4 -0.0l1.0 0.4M124.5 91.8l1.0 -1.0l-0.3 -0.7l0.8 -1.2M105.3 25.1l0.2 0.4l-0.1 1.3l0.5 0.1M71.6 21.2l0.3 -0.1M129.2 131.9l-0.4 0.7M133.8 42.3l-0.5 0.1M67.5 127.3l0.9 -0.7l1.1 -0.1M67.0 47.4l-0.5 -1.0l-0.5 -0.2l-0.3 -0.4M45.3 101.3l-0.3 0.2l0.0 0.6M89.0 7.6l0.4 1.2l0.5 0.2l1.0 -0.3M116.9 70.8l-1.0 0.9l0.2 0.7l0.1 0.8M62.5 36.6l-0.6 -1.1l-0.0 -0.8M105.8 20.7l-0.4 0.9M130.8 136.4l0.4 -0.4M126.7 2.9l0.5 -0.2M126.7 152.9l0.5 -0.2M35.0 132.1l0.8 -0.7l0.7 0.8M24.7 127.7l0.9 0.0l0.1 -0.4M8.6 45.4l0.2 -0.9l0.1 -0.4l-0.2 -0.8M20.3 68.3l0.9 0.2l0.8 0.7M106.8 12.6l0.8 0.6M120.2 53.1l-0.6 -0.0l-0.7 0.7l-0.8 -0.5M119.8 80.0l0.0 -0.5l-0.2 -1.3M41.8 3.4l0.2 0.9l0.1 0.4M41.8 153.4l0.2 0.9l0.1 0.4M13.3 78.8l1.1 0.8l0.3 0.1l0.5 -0.7M3.8 114.3l-0.1 -1.0M153.8 114.3l-0.1 -1.0M131.1 129.8l-0.4 -1.4M137.9 34.8l-0.2 -0.3l-1.3 0.2M29.7 139.5l-0.2 -0.9l0.4 -0.4l1.0 1.0M134.4 131.0l-0.7 -0.6M90.8 24.4l0.0 0.5l0.2 0.3l0.6 1.2M123.6 13.9l0.3 -0.7l0.1 -0.3l0.4 -0.5M118.4 134.6l-0.0 -0.8l0.7 -0.4l1.1 -0.1M80.9 113.8l0.8 0.5l1.0 0.6l0.5 -0.7M75.1 45.2l0.5 -1.0l-0.7 -1.1M133.1 31.6l-1.0 0.4l0.4 1.2l1.1 -0.1M30.3 109.0l-0.6 -0.6M2.4 120.2l-0.2 -1.1l-0.2 -1.4l-1.0 -0.9M152.4 120.2l-0.2 -1.1l-0.2 -1.4l-1.0 -0.9M10.3 99.9l0.4 -0.1M97.8 67.1l0.4 -0.3l0.2 -0.2M31.1 27.1l-0.8 0.8l-1.0 -0.3l-0.7 -0.0M89.2 43.5l1.0 -0.8l1.1 -0.2l-0.1 -1.4M123.4 5.6l0.7 -0.6l0.9 0.7M123.4 155.6l0.7 -0.6l0.9 0.7M100.0 59.7l1.1 0.9l0.9 1.1l0.3 0.4M122.2 50.1l-1.0 -0.9M37.4 116.0l0.4 -0.7l-0.6 -0.3M32.2 21.6l-0.7 -0.3M64.6 120.4l-1.1 0.4M87.5 22.5l0.2 0.2M19.9 12.2l-1.0 -0.5l-0.6 -0.2l-0.6 0.1M28.8 9.2l-0.5 -1.0l-1.1 -0.1M97.4 123.9l-0.4 -0.1l-0.5 0.1l-0.9 0.0M34.4 36.7l0.3 0.4M2.1 134.7l0.7 0.6l0.4 -0.2l0.3 0.1M152.1 134.7l0.7 0.6l0.4 -0.2l0.3 0.1M129.5 8.4l0.0 -1.3l1.1 -0.3l1.3 0.1M95.7 83.9l0.4 0.0l0.7 1.0l-0.3 0.2M84.7 25.4l1.0 0.4M-3.6 125.8l-0.4 0.1l-0.2 -0.5M146.4 125.8l-0.4 0.1l-0.2 -0.5M61.9 66.3l1.4 -0.5l0.5 0.5M11.0 73.1l-0.4 -0.7l0.7 -0.6M134.9 86.3l-0.0 -0.8l0.7 -0.3M97.6 107.9l0.4 -0.9M28.0 62.9l0.6 0.2l0.4 1.2M133.6 114.3l0.6 -0.3M40.8 123.1l0.3 -0.7M5.4 28.3l-0.5 -0.2l-0.3 -0.8l-0.4 -0.5M155.4 28.3l-0.5 -0.2l-0.3 -0.8l-0.4 -0.5M68.8 118.6l-0.8 1.1l0.2 0.3l0.1 0.8M-3.6 79.6l-0.6 -0.7l-0.8 0.4M146.4 79.6l-0.6 -0.7l-0.8 0.4" stroke-width="2.1"/><path d="M7.7 130.0l-1.2 -0.8l-0.1 -0.7l-0.1 -1.0M23.1 73.5l-0.5 -0.3M102.8 77.8l1.3 -0.4l0.3 -0.5M58.4 59.7l0.4 0.3l0.6 -0.0M142.3 79.6l0.6 -0.7M81.3 20.4l1.0 -0.8l0.5 -0.4l0.6 -0.4M83.6 37.0l0.5 0.3l0.3 0.3M72.5 141.1l-0.4 -0.1l-1.2 0.4M23.0 64.4l0.6 0.0l0.7 0.7l1.1 -0.0M51.0 29.6l-0.2 -0.5M-2.3 118.5l0.1 -0.6M147.7 118.5l0.1 -0.6M121.0 13.2l0.2 -1.2l-1.1 -0.3l-0.5 0.2M45.2 114.3l1.1 -0.8M123.9 59.5l1.2 -0.6l0.2 -0.5l1.2 0.0M126.3 130.9l-0.3 -0.5M67.9 23.2l0.4 0.2l1.2 -0.4l0.3 1.1M46.9 53.0l-0.9 1.0M68.1 122.3l0.8 0.5l0.7 0.9M133.6 105.1l-1.2 0.8M62.8 41.1l0.8 0.9l0.8 -0.2l1.3 -0.4M24.9 23.0l-0.4 1.2l0.6 0.8l0.1 0.4M136.7 -0.1l-0.3 -0.1l-1.3 -0.7M136.7 149.9l-0.3 -0.1l-1.3 -0.7M130.9 33.0l-1.1 -0.3l-0.7 -0.6l-1.0 -0.4M45.3 2.0l0.9 0.5l0.9 1.0l-0.2 1.1M45.3 152.0l0.9 0.5l0.9 1.0l-0.2 1.1M-5.2 46.3l0.1 0.8l1.2 0.1M144.8 46.3l0.1 0.8l1.2 0.1M58.3 31.4l0.4 0.3l0.9 0.8M58.4 134.6l1.2 0.3M90.1 93.8l-1.0 -0.1l-0.9 -0.4l0.5 -1.2M1.8 82.4l0.9 0.7M151.8 82.4l0.9 0.7M136.2 13.4l0.6 -0.1M6.0 85.6l-0.1 -1.3l0.4 -1.3M12.7 109.4l-0.8 1.2M57.8 142.7l-0.9 0.4l-1.4 -0.6M93.2 64.4l-1.4 0.4l-0.2 0.5M36.6 135.5l1.4 -0.0M95.4 -5.0l0.5 -0.4l1.2 -0.1M95.4 145.0l0.5 -0.4l1.2 -0.1M136.6 22.9l0.4 -0.2l-0.2 -1.2l-0.1 -1.1M93.3 5.0l-1.2 -0.8M93.3 155.0l-1.2 -0.8M117.9 94.0l0.2 0.4M22.2 90.3l-1.1 0.8l-0.7 -0.3M101.1 139.4l0.4 0.3M-1.0 109.3l0.2 -0.9l1.4 -0.2l1.2 -0.9M149.0 109.3l0.2 -0.9l1.4 -0.2l1.2 -0.9M36.5 45.9l0.5 -1.2M15.7 22.2l-0.3 -0.4l-0.2 -1.1l-0.4 -0.2M78.4 110.8l0.8 1.2l1.0 -0.4l0.7 0.2M62.6 83.7l0.7 -0.1l0.9 -1.0M1.2 103.4l-0.1 -1.5l-0.8 -0.2M151.2 103.4l-0.1 -1.5l-0.8 -0.2M90.0 46.7l-0.1 -0.7l0.4 -0.1M62.7 88.0l0.3 0.1l1.0 -0.2M90.4 59.7l-1.4 -0.1M23.5 40.2l-0.3 1.0M44.5 -2.7l-1.0 -0.9M44.5 147.3l-1.0 -0.9M127.7 6.8l-0.7 0.7l-1.0 0.9l0.6 0.9M142.8 43.5l-0.4 -0.7M61.1 42.8l-0.3 0.3l0.0 0.7M82.6 92.6l-0.7 -1.0l-0.1 -0.3M52.3 100.6l0.1 0.6l1.0 0.8M70.0 117.5l0.4 -0.0l1.1 0.5l1.0 -0.0M78.2 76.2l-1.0 1.1l-0.4 0.9l0.2 0.9M-0.8 133.6l-0.3 -0.7l-1.0 -0.1M149.2 133.6l-0.3 -0.7l-1.0 -0.1M121.5 8.8l-1.0 1.0M122.9 51.9l0.3 0.1l1.0 0.8l0.7 0.5M5.1 100.3l0.2 -1.4M155.1 100.3l0.2 -1.4M37.7 126.6l-0.9 0.8M54.2 61.9l-1.1 -0.2M100.1 36.6l0.8 -0.5l0.0 -1.3M65.1 28.3l0.2 0.3M38.8 37.0l-0.7 1.0l-0.5 -0.2l-0.9 -1.0M42.8 98.3l-1.1 0.6l0.6 1.3M-3.5 -5.2l-0.6 -1.1M-3.5 144.8l-0.6 -1.1M146.5 -5.2l-0.6 -1.1M146.5 144.8l-0.6 -1.1M130.0 25.5l1.2 -0.5M51.0 114.3l0.3 0.0l0.1 0.5M109.7 142.5l1.5 -0.1l0.2 -0.5M133.5 88.7l1.0 -0.5l0.2 -0.2M131.5 51.5l-0.3 -0.6M28.8 80.3l-0.8 0.8l-0.3 -0.3M108.3 50.1l0.8 -1.2l-0.1 -0.3M50.8 57.7l0.2 -0.5l0.1 -0.5M114.6 115.1l1.0 -0.2l0.3 0.8l0.2 0.2M63.1 8.2l0.5 -0.5l-0.5 -0.5M64.2 102.7l0.6 -0.6l0.2 -0.5l-0.1 -0.7M143.7 53.4l0.0 1.3l-0.2 0.7M87.1 7.6l-0.2 -0.2l-0.8 -0.4l-0.1 -0.7M137.7 78.7l0.6 1.2l-0.5 0.4l-0.3 -0.2M75.4 63.1l-0.2 0.5l0.0 0.3l0.7 0.2M97.8 30.0l-0.7 0.3l-0.3 0.6l0.4 1.3M-4.2 103.7l-0.5 -0.7l-0.1 -0.4M145.8 103.7l-0.5 -0.7l-0.1 -0.4M112.2 87.7l0.3 -0.4M99.7 129.4l-0.3 -0.1l-0.6 -0.6M10.5 86.9l0.4 0.2l1.3 0.0l0.7 0.8M41.4 11.4l-0.6 -0.7l-0.5 -1.2M-1.0 3.3l-0.7 -0.1l-0.9 -0.0l-0.4 -0.6M-1.0 153.3l-0.7 -0.1l-0.9 -0.0l-0.4 -0.6M149.0 3.3l-0.7 -0.1l-0.9 -0.0l-0.4 -0.6M149.0 153.3l-0.7 -0.1l-0.9 -0.0l-0.4 -0.6M50.4 74.6l0.6 -0.5l0.4 -0.9l0.7 -0.3M118.4 45.0l-0.2 1.5l1.4 0.1l0.4 1.3M73.9 37.5l-1.0 0.5l-1.0 0.4l-0.6 -0.1M8.7 18.3l-0.7 0.7M83.0 60.5l0.3 0.2l-0.0 0.4M97.4 64.2l0.5 -0.3l-0.2 -0.9l-0.6 -0.1M129.6 96.1l0.2 -1.2M107.5 109.1l-1.2 0.2M17.3 110.0l0.1 -0.6M69.8 106.1l-0.6 1.1l-0.1 0.4l0.0 0.3M51.5 120.3l0.8 0.5M129.5 123.6l1.1 0.2l0.2 0.4M99.2 58.5l-0.3 -0.3l-0.7 0.7l-1.1 0.4M62.1 142.2l-0.3 -0.4M34.9 68.0l0.5 1.3l1.1 -0.1l0.3 0.8M36.5 -1.9l0.3 -0.2l-0.1 -0.7l-0.6 -0.9M36.5 148.1l0.3 -0.2l-0.1 -0.7l-0.6 -0.9M44.5 15.5l0.1 -0.8M127.5 102.7l0.2 1.4M29.9 143.8l-0.6 0.2l-0.8 0.6l0.1 0.9M78.5 143.6l0.9 -0.3l0.8 1.1M33.3 7.2l0.3 0.3l1.4 -0.4M89.4 17.8l0.5 0.1l0.5 -0.2M82.0 53.2l-0.5 -0.3l-0.6 -0.1M12.8 18.2l0.7 -0.8l0.7 0.6l0.2 0.4M14.5 96.8l-0.6 0.2M76.9 32.5l0.6 -1.1l0.5 0.1M97.7 116.2l-0.4 0.4l-0.5 0.3M-2.7 120.4l-0.7 0.4l-0.5 0.2l-1.0 0.5M147.3 120.4l-0.7 0.4l-0.5 0.2l-1.0 0.5M79.8 43.6l-0.4 -0.1l-0.5 0.1l-0.5 1.1M98.8 72.0l-0.0 0.5l-0.5 0.6M105.8 84.5l0.7 -0.6l0.6 -0.5M4.2 10.5l-0.0 -1.5M154.2 10.5l-0.0 -1.5M3.8 120.8l0.0 0.5M153.8 120.8l0.0 0.5M41.0 35.0l-0.5 0.2M12.0 125.2l-0.8 -0.0l-0.8 -0.5l0.3 -0.6M41.4 27.6l0.1 -0.5l-0.4 -1.0l-0.3 -0.1M129.4 -3.6l0.3 -0.3l-0.9 -1.1l-0.5 -1.4M129.4 146.4l0.3 -0.3l-0.9 -1.1l-0.5 -1.4M70.1 67.2l-0.5 -0.0M57.9 88.9l-0.8 1.1M134.3 26.0l0.6 -0.4l0.7 0.3M134.4 44.4l-0.2 1.1l1.2 0.3M42.3 23.9l0.3 -0.6l-0.2 -0.8M38.1 142.9l-0.6 -1.0l-0.6 -1.0l0.2 -1.0M26.3 138.6l-1.2 0.6l-1.2 -0.5l-1.1 -0.2M118.4 115.0l-0.3 -0.3l0.8 -1.2l-0.7 -0.5M77.4 135.4l0.1 -0.9l1.2 -0.3M95.9 130.6l1.3 0.4l-0.4 1.3l0.6 0.4M68.7 98.3l-1.1 -0.7M115.7 101.1l0.8 -0.1l0.2 1.2M81.6 76.7l0.1 0.9M50.0 110.7l1.1 0.4l0.9 -0.1l0.8 -0.3M78.7 92.3l1.0 -0.7M111.0 115.7l-0.4 -0.5M129.2 89.4l0.0 -1.1l0.4 -1.3l1.2 0.2M58.2 63.4l0.3 0.7M22.6 98.1l-0.3 -0.4l-0.9 -1.1M139.1 138.6l-0.3 -0.2l-0.5 -0.8M139.7 125.5l-0.4 1.1l-1.0 0.5l-0.6 0.3M20.0 59.8l-0.1 0.9l0.5 0.4l0.6 0.4M22.7 141.7l-0.5 1.2l0.7 0.6M-4.0 55.1l0.4 0.8l0.9 0.3M146.0 55.1l0.4 0.8l0.9 0.3M49.0 47.6l-0.3 0.2l-0.6 -0.5M69.3 135.7l0.2 -1.2l-0.5 -0.5l-0.5 0.3M115.6 53.2l-0.4 0.5l-0.7 -0.2M133.8 108.8l-0.9 1.1M141.2 40.4l-1.0 0.9l-0.6 0.5M130.8 61.5l-0.5 0.0l-0.3 -0.4l-1.2 0.4M84.5 16.3l0.4 -0.5M108.0 128.6l1.3 0.3l0.3 -0.0l0.3 -0.0M27.4 31.9l-0.4 -0.5l-1.0 0.0l-0.4 -0.4M143.5 20.7l-0.6 0.7l-0.4 -0.2M101.9 84.7l0.1 1.5l1.3 0.5l1.3 -0.3M140.9 58.1l0.3 -0.3l-0.5 -1.2l1.1 -0.7M122.2 91.6l0.1 0.4l-0.9 0.2M46.6 67.4l-0.5 -0.4l-0.6 0.1l-0.5 0.3M65.8 31.1l0.1 1.1l0.9 -0.0M12.6 8.2l0.2 -0.5l0.9 0.3l1.3 -0.1M48.3 142.7l-0.5 -0.1l-0.8 -1.2M-3.9 69.5l-0.2 -0.5l-1.4 -0.4l-0.4 -0.2M146.1 69.5l-0.2 -0.5l-1.4 -0.4l-0.4 -0.2M134.2 96.7l0.6 -0.3M2.3 32.8l0.5 0.4l0.3 1.0M152.3 32.8l0.5 0.4l0.3 1.0M64.4 14.9l0.8 -1.0l0.5 0.3M114.4 129.0l1.3 0.2l0.4 -0.6M-2.2 76.6l-0.1 0.8l-0.3 0.3M147.8 76.6l-0.1 0.8l-0.3 0.3M27.1 91.6l-0.5 0.3l-0.7 -0.0l-1.0 -0.3M72.3 13.2l1.0 -0.5M126.5 68.9l-0.3 -1.0l-0.3 -0.1l-1.2 -0.8M27.6 17.8l-1.1 -0.5l-1.4 -0.5M44.9 117.1l0.6 0.5M61.2 32.2l1.4 0.4l0.5 0.1l0.6 0.2M20.2 111.9l-1.1 0.2M6.9 120.1l-0.5 -0.8M-3.8 63.5l-0.3 -0.7l-0.4 -1.4l-1.3 0.3M146.2 63.5l-0.3 -0.7l-0.4 -1.4l-1.3 0.3M134.6 12.4l-0.3 0.4l-0.3 0.2l-0.9 -1.0M113.9 47.4l0.7 -0.5M123.9 2.9l-0.7 -0.6l0.7 -0.8l-0.2 -0.4M123.9 152.9l-0.7 -0.6l0.7 -0.8l-0.2 -0.4M97.2 6.0l-1.0 -0.5l-0.3 0.5M84.1 10.9l-0.1 0.3M140.8 120.0l-0.9 0.6l-1.2 -0.5M143.1 -3.3l-0.2 -0.3l0.4 -0.4l0.2 -0.8M143.1 146.7l-0.2 -0.3l0.4 -0.4l0.2 -0.8M98.7 46.3l0.0 -0.7l-0.9 -0.8M20.3 -5.4l-1.1 -0.2M20.3 144.6l-1.1 -0.2M114.0 139.9l-0.8 1.2M60.5 23.5l0.1 -1.4l0.8 -0.1l0.8 0.4M95.6 73.3l-1.0 0.4M130.9 21.2l0.1 0.7l1.0 0.1l0.7 -0.4M49.6 16.0l-0.8 -0.1l-1.0 0.1M72.7 1.8l0.5 -0.1l0.3 -0.2M72.7 151.8l0.5 -0.1l0.3 -0.2M103.9 110.0l-0.8 -1.2l0.2 -1.4l-0.0 -0.3M-2.0 61.4l0.3 -0.2M148.0 61.4l0.3 -0.2M10.7 75.4l1.0 0.6l1.0 0.1l0.4 0.7M9.2 143.3l-1.2 0.2M58.4 13.0l0.0 -0.4M27.8 111.4l-0.2 -1.4l-0.0 -0.4M46.3 57.4l-0.3 0.0l-0.1 0.3M-4.9 14.6l-1.1 0.3M145.1 14.6l-1.1 0.3M112.6 29.8l0.4 0.4M4.7 107.4l-0.4 -1.4l-1.0 -0.5l-1.0 0.5M154.7 107.4l-0.4 -1.4l-1.0 -0.5l-1.0 0.5M91.2 133.1l-1.3 0.0l-0.5 -0.5" stroke-width="2.2"/><path d="M32.3 94.8l0.5 0.0l0.7 -0.7l1.2 -0.7M94.9 9.3l0.4 0.1M37.5 52.8l0.4 -0.1l0.0 -0.7l0.1 -0.7M80.8 4.8l0.4 -0.6l0.9 -1.0M80.8 154.8l0.4 -0.6l0.9 -1.0M104.0 142.8l0.0 0.4l0.2 0.8l-0.3 0.1M134.1 126.3l0.5 0.1l0.6 -0.4l0.8 -0.1M112.2 70.9l-0.2 0.6l0.9 1.0M38.8 63.6l0.3 -1.5M11.1 35.4l-0.1 0.6l-0.4 0.1l0.2 0.7M23.8 108.1l-0.9 -0.1l-0.6 -0.6l0.3 -0.7M21.8 131.7l-0.7 -0.2l-0.2 0.2l0.3 1.4M37.9 -5.6l1.1 -0.3l0.7 0.4l1.3 -0.3M37.9 144.4l1.1 -0.3l0.7 0.4l1.3 -0.3M121.6 20.7l0.5 0.4M9.2 41.7l-0.2 -1.4l0.1 -1.4M78.2 68.8l-0.9 0.7l-0.6 0.1l-0.0 1.2M21.4 78.5l-0.2 0.2M45.7 22.1l-0.3 -0.4l0.2 -1.2l-0.7 -0.3M46.7 127.0l1.3 -0.1l0.4 -1.0l-0.2 -0.8M143.3 127.0l-0.3 0.2l-0.1 0.5M37.9 95.3l-0.2 0.3M140.6 4.2l0.8 -0.7l0.9 -0.5M140.6 154.2l0.8 -0.7l0.9 -0.5M57.8 37.7l0.4 -0.2M74.9 34.0l1.2 0.8l0.2 0.4l1.0 0.2M17.9 29.7l0.7 -1.2l-0.5 -0.4l-0.2 -0.8M29.6 118.6l1.0 1.0l0.6 0.1l0.1 0.3M82.9 94.8l-0.6 1.1l-0.2 1.1M-5.5 30.2l0.3 -0.5l0.8 -0.6M144.5 30.2l0.3 -0.5l0.8 -0.6M25.2 118.0l-1.5 0.1l-0.8 -0.4M63.6 99.4l0.5 -0.1l0.3 -0.4l-0.3 -0.6M71.1 15.1l-0.3 0.8l0.1 0.8l-0.1 0.3M114.1 66.2l0.7 -0.8l0.5 0.3l-0.1 0.8M20.6 140.0l-0.1 0.5l-0.7 0.4M-0.1 127.7l0.4 -1.4l0.7 -0.4l1.0 -0.3M149.9 127.7l0.4 -1.4l0.7 -0.4l1.0 -0.3M16.8 139.1l-1.4 -0.4l-0.3 0.9M21.7 5.3l0.2 -0.5l-0.8 -0.3l-0.3 -1.1M21.7 155.3l0.2 -0.5l-0.8 -0.3l-0.3 -1.1M55.0 121.9l-0.1 0.4l-0.4 0.4l-0.5 0.5M66.5 115.9l-1.1 0.1l-0.9 0.0M115.3 -3.3l-1.1 -0.0l-0.2 0.3l-0.6 -0.2M115.3 146.7l-1.1 -0.0l-0.2 0.3l-0.6 -0.2M119.1 110.5l0.3 -1.0M30.3 58.1l1.3 0.4M75.9 95.2l-0.9 0.0l-0.7 -0.7M85.7 112.8l0.8 -0.8M33.5 108.3l0.8 -0.6l0.8 0.7M81.6 23.4l-0.2 1.4M70.4 44.2l-0.3 -0.0M132.3 83.4l0.1 -0.3M129.0 109.4l-1.2 -0.3l-0.1 0.3M47.6 108.9l-0.4 1.4l-0.5 0.5l-0.9 -0.8M90.8 -3.7l0.2 0.5M90.8 146.3l0.2 0.5M122.3 129.0l-0.6 0.9l0.2 1.0l-0.8 0.3M112.4 119.4l0.6 -1.3M26.7 105.6l0.1 -0.6l0.3 -0.3l0.5 0.0M55.5 16.6l0.4 -0.8l0.5 -0.5l0.4 -0.0M27.9 124.3l-0.1 0.8M23.7 56.0l0.9 0.1l0.8 -0.8M76.8 18.0l1.1 0.3M14.6 105.3l-0.3 -1.0M78.1 105.3l0.6 0.2M79.2 11.1l-0.5 -0.8l0.3 -0.8l1.1 0.0M97.1 18.8l-0.2 -1.4l0.3 -0.1M17.2 35.2l-0.5 -0.9l-0.7 -0.8l-0.5 -1.2M110.5 23.3l0.6 -0.3M74.5 -5.4l0.4 -0.4M74.5 144.6l0.4 -0.4M52.8 24.0l0.5 0.6l0.3 1.0l-0.2 1.3M-6.0 66.2l-0.2 -0.5M144.0 66.2l-0.2 -0.5M5.6 47.0l0.6 -0.8M155.6 47.0l0.6 -0.8M2.9 -0.9l-1.5 -0.1l-0.5 -0.5l-0.6 0.1M2.9 149.1l-1.5 -0.1l-0.5 -0.5l-0.6 0.1M152.9 -0.9l-1.5 -0.1l-0.5 -0.5l-0.6 0.1M152.9 149.1l-1.5 -0.1l-0.5 -0.5l-0.6 0.1M117.4 9.6l-1.3 -0.4l-0.8 -0.9l0.2 -0.7M90.7 130.4l-0.4 -1.1l-0.3 -0.5M10.2 97.2l-0.8 -0.8M94.2 34.0l-0.2 -0.7M14.6 24.7l-0.1 0.5l0.2 0.7M108.1 132.1l-1.0 -0.3l-0.4 0.6M35.4 64.6l-0.4 0.0l-0.5 0.1l-0.4 -0.2M63.5 -4.1l-0.9 0.6l-0.4 -0.4M63.5 145.9l-0.9 0.6l-0.4 -0.4M80.0 122.4l-0.1 -0.3l-1.1 -0.5l-0.6 -0.0M100.0 110.9l1.1 0.4M140.3 123.9l1.3 0.4l0.6 -0.5M121.6 16.6l-0.8 0.3M60.5 76.5l-0.9 0.7M21.2 137.4l-0.7 -0.9l0.9 -1.1M5.0 14.7l0.9 -1.2l0.5 -0.0M155.0 14.7l0.9 -1.2l0.5 -0.0M54.8 109.5l-1.1 -0.9l0.0 -0.5l0.5 -0.8M6.7 137.2l1.3 -0.4l0.7 0.4M68.5 51.8l0.4 -0.1l0.3 -1.2l-0.9 -0.6M33.8 11.1l0.6 -0.9M107.4 63.8l-0.2 0.8l0.6 0.4M44.7 49.1l0.3 -0.2l0.6 0.6l0.3 0.1M123.1 -2.5l-0.1 0.4l0.7 0.6l-0.4 1.1M123.1 147.5l-0.1 0.4l0.7 0.6l-0.4 1.1M-1.7 80.6l-0.0 1.1M148.3 80.6l-0.0 1.1M17.7 97.6l-0.1 0.3l-0.1 0.5l-1.0 1.0M72.8 93.8l-0.8 -0.7l-0.3 -0.6l0.5 -1.2M77.3 22.1l-0.8 -0.5l-0.9 0.9M89.9 50.9l-0.7 -0.8M74.5 107.4l0.5 -0.1l0.9 0.3l0.8 0.8M97.4 103.8l0.3 -0.1l-0.3 -1.3M-0.6 69.5l-1.1 0.7M149.4 69.5l-1.1 0.7M80.8 55.9l1.0 0.8M124.0 133.8l-0.3 1.0M10.2 113.3l0.1 -0.5l1.3 -0.7l0.3 0.5M100.5 11.8l-1.1 0.6l0.4 0.9M110.8 100.5l-0.9 0.6l-0.9 -1.1M76.4 -2.5l0.0 0.7l1.1 1.0M76.4 147.5l0.0 0.7l1.1 1.0M25.4 28.9l-1.1 -0.2M111.1 -1.4l-0.4 -0.3l-0.5 -0.5l0.0 -1.0M111.1 148.6l-0.4 -0.3l-0.5 -0.5l0.0 -1.0M94.7 46.5l-0.1 0.8M10.7 25.2l-0.2 1.2M102.8 15.9l-0.4 0.3l-0.9 0.2l-0.0 0.9M122.5 118.8l0.2 0.8l-1.1 0.5M41.3 89.4l1.1 -0.6l1.0 0.6M111.7 28.3l-0.7 -0.7l-0.6 -1.2l0.2 -1.2M44.9 0.6l0.2 -0.5l0.3 -0.0l0.3 -0.3M44.9 150.6l0.2 -0.5l0.3 -0.0l0.3 -0.3M75.0 13.2l0.5 -0.6l1.0 -0.5M56.8 6.0l0.0 -0.5M108.4 124.0l0.1 0.5M139.1 94.8l-0.1 -0.4M85.2 45.9l0.1 0.3l1.0 0.6l0.8 -0.3M141.2 27.5l-0.0 -0.9l0.2 -0.7M118.9 63.3l-0.3 0.3l-0.1 0.5M139.1 131.4l0.6 -1.2M141.0 68.3l-0.2 0.4l-0.7 -0.3M94.7 58.9l-0.8 0.2l-0.9 -0.3l-0.8 0.7M40.1 69.0l-0.3 -0.4l0.0 -0.4M0.2 55.4l0.6 -0.3l0.7 -0.3l0.8 -0.3M150.2 55.4l0.6 -0.3l0.7 -0.3l0.8 -0.3M112.1 101.8l0.5 -0.1l0.3 0.2M108.8 118.4l0.6 0.4l-0.3 1.3M57.1 -3.6l0.4 -1.4l1.1 -0.0l0.7 0.6M57.1 146.4l0.4 -1.4l1.1 -0.0l0.7 0.6M62.7 18.4l-1.1 0.9l0.6 1.2l1.1 0.8M49.4 26.7l0.7 -0.3M-5.8 35.0l0.8 -1.0l-0.1 -0.8l-0.1 -0.4M144.2 35.0l0.8 -1.0l-0.1 -0.8l-0.1 -0.4M20.9 104.3l-0.9 0.6M107.4 -4.4l-1.0 0.5l-1.1 0.8M107.4 145.6l-1.0 0.5l-1.1 0.8M43.6 137.5l-0.3 -0.6M74.8 29.4l-1.3 0.6l0.2 0.7M142.1 45.7l-0.5 1.3l-0.3 0.7M122.7 56.4l-0.4 -0.4M98.9 38.8l-0.9 -1.0l-1.2 -0.7l-0.9 0.6M18.7 87.0l0.5 0.6l-0.1 0.5M78.8 48.7l0.9 0.9M94.9 131.8l-1.4 0.3l-0.3 0.5l-1.2 0.5M81.2 129.2l-0.1 1.5l0.9 0.2l0.6 -1.3M93.9 128.1l1.3 -0.5l-0.3 -1.0M48.1 90.2l-0.5 0.7M63.0 111.3l0.9 -0.0M71.9 122.6l-0.7 -0.3l-0.4 -0.5l0.6 -0.5M105.5 137.3l-1.1 -0.2l-0.3 -0.3l-0.6 0.3M50.9 40.8l-0.1 1.0M124.3 126.3l-0.3 1.4M54.6 12.8l-0.4 0.5M-1.6 114.0l-1.0 0.5l-0.9 0.9M148.4 114.0l-1.0 0.5l-0.9 0.9M-1.1 39.7l-0.0 1.2l0.5 1.4M148.9 39.7l-0.0 1.2l0.5 1.4M80.4 117.9l-0.8 0.3l-0.5 0.8l0.2 0.4M35.7 85.2l-0.7 -1.0l-0.7 -0.9M24.7 79.7l0.1 0.3l0.3 1.1M106.0 30.3l0.3 -0.3M106.2 18.0l-0.4 -0.5l-0.1 -1.4l0.1 -1.4M-2.6 16.4l0.4 -1.0l1.0 -0.8M147.4 16.4l0.4 -1.0l1.0 -0.8M55.8 46.3l0.0 0.9M4.7 88.7l-0.5 -0.2l0.3 -0.7M154.7 88.7l-0.5 -0.2l0.3 -0.7M60.7 17.3l-0.3 0.8l-0.4 -0.0l-0.0 0.5M59.0 105.1l0.6 0.4M61.4 88.4l-1.0 0.5l-0.7 0.4M2.3 111.1l0.6 -1.3M152.3 111.1l0.6 -1.3M106.1 92.6l-0.3 -0.5M-5.8 6.8l1.1 -0.3M144.2 6.8l1.1 -0.3M33.9 113.7l-0.5 1.2l-0.8 0.4l-0.7 0.9" stroke-width="2.3"/><path d="M47.7 22.1l1.4 0.1l0.4 1.1M-2.5 129.3l-0.8 0.1l-0.2 0.5l-0.6 -0.2M147.5 129.3l-0.8 0.1l-0.2 0.5l-0.6 -0.2M-4.3 59.1l0.1 0.5M145.7 59.1l0.1 0.5M44.8 35.7l-0.7 -0.4l-1.2 0.5l0.2 0.6M114.3 136.2l-0.5 0.7l-0.2 0.3l0.1 0.3M8.8 102.4l-0.8 0.7l0.5 0.9M2.8 38.6l0.3 -1.3l-0.3 -0.8M152.8 38.6l0.3 -1.3l-0.3 -0.8M57.7 71.6l-0.9 -0.9M39.5 14.5l-0.5 -1.0l0.4 -0.9l0.4 -0.1M35.2 87.5l0.2 0.3l-0.1 0.3l-0.5 0.1M138.6 18.6l-0.1 0.9l0.5 0.1l0.4 0.0M51.9 15.1l-1.1 -0.7l-0.3 -0.9l0.2 -1.2M37.7 84.7l0.9 0.2l0.4 0.8l0.7 0.5M99.7 143.5l0.5 -1.2l-0.3 -1.2M111.0 4.6l1.3 0.0l0.6 0.3M111.0 154.6l1.3 0.0l0.6 0.3M42.4 47.5l-0.9 -0.6l0.6 -1.1l0.5 -1.1M43.3 78.5l-0.7 -0.4l-0.8 -0.3M133.6 19.6l1.0 -0.0l0.5 0.4M104.5 96.0l-0.1 -1.1l-1.0 -0.8M42.0 32.8l0.1 -0.4l0.9 -0.7M50.3 77.8l-1.2 0.1l-0.8 1.1l-0.7 -0.1M47.4 94.0l-1.0 0.5M29.6 112.4l0.9 0.2M135.7 136.8l0.1 -1.2l-0.7 -0.9M32.9 27.3l1.3 0.2M122.7 45.4l-0.2 0.4l-0.5 -0.1M115.8 58.9l-0.4 -1.3l0.3 -0.3l-0.0 -0.8M19.1 41.8l0.9 -0.7l0.6 0.2M102.6 51.6l0.2 0.8l-0.4 0.6l0.3 0.2M105.6 120.6l-0.3 0.5M122.4 82.1l-0.3 0.2M56.1 1.8l-0.4 0.9M56.1 151.8l-0.4 0.9M0.0 130.7l1.4 0.3l0.7 -0.4M150.0 130.7l1.4 0.3l0.7 -0.4M14.1 4.9l-0.5 -0.6l-0.7 -0.8M14.1 154.9l-0.5 -0.6l-0.7 -0.8M-0.2 44.1l-0.4 0.7l-0.7 0.5M149.8 44.1l-0.4 0.7l-0.7 0.5M75.2 138.3l-0.6 -0.5l-0.3 0.1l-0.5 -0.5M46.9 -3.8l0.5 0.7l0.7 -0.3l-0.3 -1.4M46.9 146.2l0.5 0.7l0.7 -0.3l-0.3 -1.4M94.3 80.7l0.3 1.2l-0.2 0.4M-5.1 106.8l0.4 -0.6l1.3 0.5M144.9 106.8l0.4 -0.6l1.3 0.5M14.9 68.9l-1.0 0.5l-0.8 1.0M126.3 49.8l0.4 -1.0l-0.5 -0.3l-1.0 -0.9M24.8 94.3l-0.5 1.1M88.5 56.4l-0.5 0.5l-0.6 0.4l-0.3 -0.0M4.9 103.9l-0.3 -0.2l-1.0 0.0l-0.2 -0.3M154.9 103.9l-0.3 -0.2l-1.0 0.0l-0.2 -0.3M68.2 61.7l-0.7 -0.7M114.4 19.3l1.0 -0.1l0.3 -0.2M-2.5 136.3l-0.3 0.2l-0.3 0.2M147.5 136.3l-0.3 0.2l-0.3 0.2M119.7 101.4l-0.4 0.6M40.3 132.4l-0.4 -0.7M76.8 140.3l0.1 0.3M25.9 76.5l-0.2 0.3l-0.3 -0.1l-0.5 0.1M36.7 104.8l0.8 -1.0M66.0 65.9l0.2 -0.6M129.0 15.3l1.0 -0.5M11.5 67.7l-0.3 0.4M84.8 130.1l-0.2 -0.3l0.6 -1.2M140.6 16.2l-0.2 -1.2M72.0 69.7l0.2 1.1M138.6 45.4l1.0 -0.7M6.0 95.7l0.9 -0.5M156.0 95.7l0.9 -0.5M138.9 90.5l0.1 0.3l-0.0 1.0M13.4 89.6l0.6 -0.2l1.4 0.4M13.7 43.7l-0.2 0.5l0.3 0.4l0.6 0.4M112.1 131.0l0.3 -0.3M50.5 94.1l-0.2 -0.3M32.5 30.8l0.3 -0.1l0.7 -0.1M23.2 14.2l-0.3 -0.3l-1.1 -0.6M80.4 73.7l-0.2 0.3M103.2 38.6l0.4 0.6M128.1 83.3l-0.4 -0.1l-0.2 -1.1M49.3 106.5l-0.4 -1.2l-0.6 0.1l-0.6 -0.6M40.1 106.8l-0.9 0.7M133.6 15.3l-1.1 0.1l-0.7 1.2M68.5 27.9l-0.3 -1.0M54.0 80.4l-0.3 -0.3l-1.2 0.5M28.2 120.9l-0.1 -0.6l-0.4 0.1l-0.2 0.3M87.5 90.9l-0.9 -0.5M9.4 123.7l-0.2 -0.7l-0.5 -0.6l-0.5 -0.5M132.2 71.1l-0.2 -1.1M81.3 -0.6l0.7 0.8l0.6 0.9M81.3 149.4l0.7 0.8l0.6 0.9M118.0 29.1l0.4 -1.1l1.3 0.1M49.8 8.3l-1.2 0.5M32.0 125.3l0.1 1.4l-0.2 0.8l-0.8 0.7M142.6 114.0l-0.4 -0.8l-1.3 -0.5M2.9 6.1l1.2 -0.1M152.9 6.1l1.2 -0.1M24.0 7.5l0.5 0.7l0.7 0.5l0.6 1.3M25.7 52.3l-0.4 -0.5l0.2 -0.5M136.4 103.7l0.9 0.5l0.9 -0.3M88.2 143.6l0.2 -0.5l0.1 -0.3M101.1 82.9l0.6 0.4l1.1 -0.7M60.8 86.7l-0.3 -0.2l0.5 -1.4l-0.2 -0.9M12.6 118.3l-0.0 -1.0l-0.4 -1.2l1.4 -0.6M3.4 93.2l0.1 0.3l-0.3 1.2l-0.9 1.1M153.4 93.2l0.1 0.3l-0.3 1.2l-0.9 1.1M136.2 56.9l-0.5 -0.3l-0.5 -0.1M32.4 45.7l0.5 -1.2l0.8 -0.7l0.3 -0.6M103.9 33.8l-0.0 -0.3l-0.1 -0.8M48.7 82.9l-1.4 0.1l-0.0 1.0M60.0 55.1l0.5 -0.6l0.9 0.6l-0.1 0.4M137.7 5.4l1.1 -0.7M137.7 155.4l1.1 -0.7M129.0 51.1l-0.8 0.7l-0.9 0.2M67.2 68.8l-0.8 -0.8l-1.0 0.9l-0.4 -0.4M0.7 36.4l-0.9 0.7l-1.4 0.1l-0.7 1.3M150.7 36.4l-0.9 0.7l-1.4 0.1l-0.7 1.3M85.9 51.1l0.3 -1.1l0.6 -0.2l0.8 -0.7M100.6 74.1l0.9 0.6l-0.2 1.3l0.7 0.2M74.8 101.3l0.2 -0.8M100.4 -3.6l-0.1 -0.5l-0.7 -0.1M100.4 146.4l-0.1 -0.5l-0.7 -0.1M34.7 48.1l-0.6 -0.6l-0.4 -1.2M104.2 13.6l-0.5 -0.8" stroke-width="2.4"/></g></pattern>
<pattern id="sd" width="300" height="300" patternUnits="userSpaceOnUse"><rect width="300" height="300" fill="#fff"/><g stroke="#000" stroke-linecap="round" stroke-linejoin="round" fill="none"><path d="M-0.9 -0.7l-0.5 -0.7l0.2 -0.2l0.6 -0.3M-0.9 299.3l-0.5 -0.7l0.2 -0.2l0.6 -0.3M299.1 -0.7l-0.5 -0.7l0.2 -0.2l0.6 -0.3M299.1 299.3l-0.5 -0.7l0.2 -0.2l0.6 -0.3M63.6 80.7l0.4 0.4M221.2 212.0l-0.1 -0.9l-0.0 -0.9M147.6 183.0l1.1 1.3l0.6 0.5l1.5 0.8M106.6 186.3l0.4 -0.5l-0.3 -0.3M272.1 95.4l-1.4 0.4l-1.2 -0.9l-0.0 -0.8M157.8 37.1l1.3 0.4M108.1 205.4l-0.4 1.5M208.6 157.6l-0.3 0.6M85.5 227.2l0.0 -1.0M83.7 164.1l-0.0 0.6M166.0 193.5l1.7 0.0M51.4 76.6l0.2 -0.2M266.1 138.4l-0.3 0.8M215.3 80.8l-1.6 -0.4M30.5 211.6l0.3 -0.2M136.0 231.6l-1.0 0.1M36.4 100.2l-0.9 -1.4l0.1 -0.4l0.0 -0.6M119.7 17.4l-1.1 -0.3l-0.7 0.0M56.2 108.1l-1.8 -0.2l-0.6 -1.6M44.2 190.3l0.6 0.3M106.1 160.9l-0.2 -0.3l-1.3 0.1M202.6 25.6l1.3 0.4l1.5 -0.3M245.8 235.4l-0.5 1.2l0.4 1.0M9.2 130.4l0.4 -1.7M292.3 249.9l0.7 0.2M136.3 69.8l0.3 1.0M53.0 216.5l-1.1 0.7l-0.6 0.7l-1.7 -0.4M192.8 290.4l-0.9 1.3M127.4 166.2l0.9 0.7M205.0 238.2l-0.3 1.1l1.3 0.9M103.2 237.9l-0.5 -0.7M257.6 162.1l0.2 -1.8l0.7 -1.3l1.3 0.1M14.1 212.8l-0.4 0.7M66.3 260.4l0.6 -0.5l-0.6 -0.8M105.4 228.3l-0.1 -1.0l1.0 -0.4M105.4 -5.8l-0.4 1.3l1.1 0.7l0.2 0.5M105.4 294.2l-0.4 1.3l1.1 0.7l0.2 0.5M205.4 206.6l-0.5 1.4l-0.1 0.4M257.7 -3.4l0.1 -0.7l-0.7 -0.2l-0.4 -0.1M257.7 296.6l0.1 -0.7l-0.7 -0.2l-0.4 -0.1M254.8 239.8l-1.6 0.3M29.1 26.9l0.3 1.8M137.7 139.9l-1.5 0.2l0.1 0.7M137.0 205.1l-1.0 0.9M123.4 164.4l0.5 -1.0M266.0 2.5l-0.3 -0.3l-0.9 0.2l-0.9 -0.6M266.0 302.5l-0.3 -0.3l-0.9 0.2l-0.9 -0.6M286.1 222.6l-0.5 0.4l-1.0 -0.6l-0.7 0.7M69.7 184.8l1.2 0.7l0.4 -0.0M53.4 91.4l-0.5 -0.5M116.4 276.1l-0.2 0.4l-0.2 0.3M252.0 135.2l0.5 -0.7l0.2 -0.4M170.6 127.3l0.3 1.1l0.3 0.9l-0.8 0.3M105.0 54.4l-0.5 -0.5l-1.6 -0.7M265.8 50.1l-0.3 -1.3l-1.1 0.0l-0.4 -1.2M231.6 194.6l-0.4 -0.1M224.5 138.2l-0.1 0.3l-0.6 1.1l-0.7 1.7M160.9 4.8l0.3 -0.8l-0.5 -0.9M160.9 304.8l0.3 -0.8l-0.5 -0.9M293.7 204.6l0.9 1.2M98.5 25.4l-0.4 0.7l0.8 0.5M194.3 69.7l0.4 -0.2M55.9 182.9l0.5 1.0M287.7 283.1l0.6 -0.2l1.2 0.1l0.9 0.5M189.8 162.9l1.6 -0.2l1.2 -0.9l1.0 0.2M245.4 57.4l-0.5 -0.8l0.5 -1.3l1.0 -1.3M131.9 182.9l0.1 -0.4M273.0 240.0l-0.4 0.2l0.1 0.7M233.7 190.2l0.7 1.1M282.0 81.6l0.7 1.4l-0.1 0.5l-0.9 1.4M58.3 135.5l-1.1 -0.2M112.9 63.2l0.5 1.2M200.0 119.3l0.3 0.2l-0.6 1.2l-0.9 -0.4M211.9 -1.1l-0.2 0.5l-1.7 -0.4l-1.1 0.1M211.9 298.9l-0.2 0.5l-1.7 -0.4l-1.1 0.1M39.1 9.2l-1.3 -1.0l-1.1 0.9M249.2 267.8l1.3 0.1l0.7 1.1l-1.3 1.2M217.3 103.7l0.8 -0.7l0.8 0.2M121.0 201.9l-0.1 0.4l1.2 1.1l-0.0 1.2M8.8 121.2l0.6 0.2l1.2 1.3l1.0 -0.5M136.8 262.1l0.8 -1.6l-0.4 -1.0M277.7 257.5l-0.0 -1.6l1.1 -0.6M7.4 13.2l0.6 -0.8l1.6 0.3l0.2 0.9M246.9 142.4l0.1 -0.8M240.7 85.9l0.7 -0.4M103.4 253.8l1.0 1.1l0.6 -0.2M67.7 84.2l0.6 0.4l1.3 -0.3l0.7 -0.7M258.2 237.9l0.1 0.5M261.4 43.6l0.3 0.7M6.0 167.1l-0.9 -0.4l-1.0 -0.2M188.6 126.7l-0.5 1.6l-1.4 -0.4M142.8 75.5l-1.5 -0.4l-0.2 0.5l0.8 0.4M232.1 223.1l-1.7 0.2M186.9 216.0l1.1 0.7l0.4 1.3M163.2 266.6l0.4 0.6M286.4 187.9l-0.7 -0.5l-0.8 1.1l-0.7 1.6M5.0 236.1l-0.5 0.8l-0.7 -0.3l0.3 -1.1M305.0 236.1l-0.5 0.8l-0.7 -0.3l0.3 -1.1M289.6 31.3l1.4 0.3l0.1 1.7M219.4 4.0l-0.9 0.6M219.4 304.0l-0.9 0.6M222.5 66.9l-0.3 -0.1l0.0 -0.5l-1.0 -0.7M43.6 21.4l0.4 -1.1l0.1 -1.0l-0.7 -0.5M221.5 239.3l-1.5 0.5l-0.1 1.5l0.8 0.4M167.6 3.3l-0.2 -0.4l-0.4 -0.4l-0.4 -0.3M167.6 303.3l-0.2 -0.4l-0.4 -0.4l-0.4 -0.3M172.1 16.0l-0.4 1.4l1.2 0.6l-0.4 1.5M19.3 250.7l-0.4 0.2l-0.0 1.5M116.4 177.6l-0.3 -0.2l-1.4 -0.4M119.4 228.5l-0.4 -0.0M36.4 255.7l0.2 0.4l0.9 0.9M86.6 51.2l-0.5 -0.2l-0.5 1.3M140.3 214.5l0.5 -1.2l-0.1 -0.5l0.6 -0.9M107.9 120.3l-0.8 -0.0M147.4 23.9l-0.2 -0.3M180.5 278.0l-0.9 -0.1M77.7 206.6l-1.7 -0.3l-0.2 -0.5M40.5 187.9l0.6 -0.6l1.3 0.3M286.8 177.9l-0.2 -0.6M21.3 -1.9l0.6 -0.6l-0.4 -1.3l0.4 -1.5M21.3 298.1l0.6 -0.6l-0.4 -1.3l0.4 -1.5M267.5 244.0l0.9 0.3l0.3 0.1l1.0 0.1M-1.7 147.2l0.3 0.1l1.0 -0.3M298.3 147.2l0.3 0.1l1.0 -0.3M253.7 284.1l0.9 0.1l1.3 0.5M43.0 106.8l-0.2 -0.6l-0.8 -0.7l-0.2 -0.2M131.6 229.6l0.3 0.6M244.0 277.0l1.3 0.4M58.8 168.5l-0.6 -0.2l-0.4 0.3l-0.0 0.9M239.6 254.1l-1.4 -0.8l-1.2 -0.9M83.0 105.1l1.2 -1.0l-0.3 -0.5M185.3 143.1l-0.0 -1.1l-1.3 -0.3M95.0 124.1l-0.1 -0.8l-0.6 -0.4l-0.3 0.2M176.1 134.8l0.6 1.3l-0.3 1.1M267.1 115.2l1.6 -0.0M19.8 99.9l0.2 -0.2l0.2 -0.2l0.5 -0.4M72.1 16.4l-0.2 0.3M0.2 218.7l0.1 -1.4l0.8 -0.7M300.2 218.7l0.1 -1.4l0.8 -0.7M81.8 212.5l-0.1 0.9M108.0 74.2l1.1 -0.7l1.5 0.1l0.6 -1.5M132.8 116.7l0.4 1.4l-0.3 0.3M135.0 270.1l0.8 -1.4l-0.4 -0.3M215.5 262.2l1.1 0.2l0.3 -0.2l-0.1 -1.4M267.6 -2.6l-0.7 0.9l0.1 1.3M267.6 297.4l-0.7 0.9l0.1 1.3M157.3 271.6l-0.1 0.5l0.3 0.3l1.6 -0.4M272.5 155.1l-0.3 -0.8l0.6 -1.1l-0.7 -0.4M48.5 37.3l-0.3 0.9M293.0 171.6l0.0 0.4M126.9 149.1l0.4 0.2l0.8 -0.3l0.9 1.2M44.0 257.1l0.2 -0.3M173.4 276.8l1.2 -0.6M210.5 3.9l-1.6 -0.5M210.5 303.9l-1.6 -0.5M252.0 213.6l0.8 -0.4l1.3 0.7l0.1 0.9M225.4 212.1l0.0 -1.3M73.5 180.9l1.7 0.0M82.2 200.9l0.3 0.8M48.5 206.0l1.5 0.2M18.6 292.7l-0.6 0.2l-0.6 1.2l0.2 0.6M282.0 27.6l-0.7 -0.5l-1.5 0.5M235.6 121.9l1.1 -1.3M200.3 148.4l0.6 0.4M160.9 228.3l1.0 0.6l0.4 -0.1M240.5 130.8l0.3 -0.2l-0.4 -1.1M78.9 13.2l1.0 0.7l0.2 0.5M223.9 279.0l0.9 -1.0l0.6 -0.9l1.7 0.4M203.2 20.4l0.5 0.8l-1.0 1.0M112.5 277.2l-1.4 -0.8l-1.1 -0.4l-1.0 -0.4M267.5 215.6l1.2 -1.3l1.4 -0.3M182.2 173.4l0.7 -0.4l-0.1 -0.5l1.0 -1.5M223.2 247.0l-0.1 -0.9l-0.7 -0.2l-1.1 -0.8M180.9 265.5l0.1 -0.5M134.7 10.5l-1.4 -0.4M86.6 289.6l-0.6 0.1l-1.2 0.2M166.2 283.1l0.3 -1.2M203.0 106.6l0.7 -1.5l0.4 -0.1l0.8 -1.4M45.6 9.1l-0.0 -0.5l-0.6 -0.5M97.1 283.8l1.0 0.7l0.3 -0.3M44.1 11.6l0.3 1.3l0.8 0.3l0.2 1.1M199.1 179.8l0.3 -0.2l-0.5 -0.9l-1.6 -0.2M253.3 5.9l0.6 0.2l-0.3 1.0M253.3 305.9l0.6 0.2l-0.3 1.0M97.7 28.8l-0.3 1.5l-0.8 0.9l-0.7 0.4M248.0 9.9l1.5 -0.4l0.2 -0.7l-1.3 -0.7M146.8 196.8l-0.8 -0.6l-0.9 -0.4M292.5 66.3l1.0 0.6l-0.6 1.2l-1.2 1.0M138.3 97.6l1.4 -0.3M180.2 75.4l0.3 0.4l1.3 1.2l-0.1 0.6M124.8 214.5l0.4 0.7l1.3 0.6l1.7 -0.3M21.5 168.8l-0.7 -0.1M52.0 163.3l0.5 0.2l1.3 -0.3l0.9 0.4" stroke-width="2.1"/><path d="M189.5 233.5l-1.4 0.1M31.6 17.7l-0.0 0.6l-1.8 -0.1l-0.8 0.1M215.7 20.5l0.8 0.3M17.9 53.3l0.4 -0.9M11.2 5.7l-0.4 -0.2l-1.1 -0.5M11.2 305.7l-0.4 -0.2l-1.1 -0.5M115.3 220.1l1.2 -0.8l1.4 0.6l-0.1 1.0M132.5 252.5l0.3 -1.1l-0.9 -0.9M237.8 272.9l-0.1 -0.4l-0.3 -1.7M136.5 187.9l-0.9 -0.5M253.4 269.4l0.3 1.6M241.3 168.1l-1.1 1.1l-0.7 0.3M128.8 244.3l0.8 0.4l1.1 -0.3l0.7 0.8M219.9 36.3l-0.8 1.2l-0.5 -0.1M37.5 119.3l0.8 1.2l-0.2 1.8M-2.3 276.6l-1.0 0.4l-1.0 1.4l0.8 1.0M297.7 276.6l-1.0 0.4l-1.0 1.4l0.8 1.0M87.5 3.8l0.7 1.2l1.1 0.7l0.7 -1.1M87.5 303.8l0.7 1.2l1.1 0.7l0.7 -1.1M157.2 281.5l-0.3 -0.7M160.6 -1.3l-0.2 0.5l-0.9 0.2l-1.6 0.5M160.6 298.7l-0.2 0.5l-0.9 0.2l-1.6 0.5M11.1 19.5l0.6 -1.0l0.1 -0.8l0.8 -0.6M275.6 128.8l1.3 -0.4l-0.1 -0.6M74.8 66.3l-0.5 -0.6l-1.8 0.3M4.2 141.7l-0.3 0.5l-1.5 -0.3M304.2 141.7l-0.3 0.5l-1.5 -0.3M47.0 46.0l-0.4 0.3l0.0 1.2l0.8 0.7M162.5 89.2l-0.5 0.0l-0.6 0.5M43.0 28.1l-1.6 0.5M252.1 177.8l-1.1 -0.5l-0.9 0.6M4.8 100.2l-0.7 -1.4l1.2 -0.8l1.1 0.4M304.8 100.2l-0.7 -1.4l1.2 -0.8l1.1 0.4M152.4 236.6l0.4 0.1l0.3 -0.2M197.4 94.0l-0.4 -1.6l0.4 -0.2l0.2 -1.6M192.3 11.3l0.4 0.0M251.1 104.9l0.1 1.5l0.3 1.2M51.0 264.8l1.4 -1.1l-0.2 -0.6M61.1 190.0l-0.4 0.1l-0.5 -0.6M71.4 200.0l-0.8 -0.1l-0.7 -1.1M54.8 45.2l-0.3 0.2l-1.3 0.5M186.7 157.1l0.3 1.4l-0.7 0.4l-0.4 -0.7M64.1 140.0l0.5 0.7M148.0 175.6l0.7 0.3l0.7 0.1M122.4 124.4l1.7 0.5M248.1 265.1l0.8 -0.7l0.8 -1.6M160.3 70.8l-0.1 0.6M97.1 53.3l0.8 0.1M238.7 116.9l0.6 1.5M51.9 8.6l0.5 -0.3l0.2 -0.4l1.0 -0.3M106.1 130.2l-0.9 -0.6l-0.8 -0.7l-0.3 -0.7M195.5 279.9l-0.3 1.8l-1.3 1.0M231.1 164.8l0.4 0.1M55.0 38.4l-0.5 0.2l-1.2 -0.3M85.9 255.5l0.8 0.7l-0.7 0.9M75.9 126.1l-0.9 0.1M246.4 254.9l-0.5 0.4M218.8 232.6l0.8 0.4M46.5 244.4l0.6 1.2l-0.9 1.1l-0.4 -0.0M169.2 276.1l-0.4 0.0l-1.1 0.5l-0.8 0.8M18.3 200.2l0.3 -0.5M150.2 58.4l0.1 0.6l-1.1 1.2M228.6 120.4l0.3 -0.4M293.5 235.7l-0.5 0.3l-0.7 -0.2M-2.2 170.6l-0.5 -0.1l-0.4 0.6M297.8 170.6l-0.5 -0.1l-0.4 0.6M63.1 211.3l0.1 -0.6l0.4 0.1M-3.5 66.6l-0.8 0.8M296.5 66.6l-0.8 0.8M74.4 87.6l0.5 0.0M289.5 72.6l0.5 -1.0l0.3 0.0l1.2 -0.4M48.0 9.1l0.6 1.5l0.6 1.5M207.8 219.4l0.1 -0.4l1.2 -1.2l0.9 -0.8M248.2 148.7l-0.6 0.4M291.7 181.1l1.3 1.1M280.8 63.2l0.7 -1.3M106.9 71.8l-0.8 0.2l-1.1 0.3l-0.4 0.5M9.5 22.6l0.1 0.7l0.4 1.7M217.4 237.3l-0.5 -0.1M56.6 94.9l0.2 -0.5M8.9 144.5l-0.0 -0.7M158.8 8.8l-1.2 -0.9l-0.1 -0.9l-1.0 -1.3M82.5 25.1l0.1 -1.6M73.6 236.7l-0.8 0.1l-0.6 -1.3l-0.3 -0.2M268.6 88.3l0.1 -1.6M252.5 -2.0l-0.6 -0.9l-0.3 -1.6M252.5 298.0l-0.6 -0.9l-0.3 -1.6M115.6 21.9l-0.3 -1.7M183.5 96.0l-1.3 0.1l-1.4 -0.1M214.7 157.6l0.7 -0.0l0.2 1.1M160.3 17.4l-0.8 0.0l-0.2 -0.9l0.9 -0.2M209.3 125.4l-1.1 -0.6l-0.6 -0.4l-0.5 0.3M35.7 280.0l1.0 -0.4l0.3 0.3l-0.2 1.2M264.6 117.6l-0.5 -1.3M264.6 277.4l0.4 -0.5M25.0 125.4l-0.3 0.2l-0.4 -0.5l-1.1 0.0M224.5 82.9l-1.1 0.5l0.3 0.8l0.0 0.9M26.6 203.6l-0.1 -0.7l1.1 -0.9l0.2 -0.6M145.2 86.8l1.0 0.6l1.1 -1.3M33.7 276.3l-0.1 0.7l-0.0 1.1l-1.4 0.1M81.9 175.6l0.2 1.3M25.6 161.8l-0.1 1.7l-0.5 0.1M44.1 204.4l0.1 -1.1M156.0 179.0l1.3 -0.4l1.4 -0.0M156.8 221.3l0.7 -0.1l0.3 0.3l0.5 -0.2M101.9 197.1l0.5 -1.1l1.7 -0.2M61.6 177.8l-0.7 1.1M16.1 32.7l-0.7 0.1l-0.1 1.0M291.1 24.2l-0.2 -0.3l-1.0 0.1M278.4 186.1l1.2 -0.0l1.3 0.5M160.8 62.8l-0.1 0.4l0.0 1.6l1.3 0.1M95.8 44.8l0.8 -0.5l1.2 -0.0M142.4 174.3l-0.5 0.5l-0.9 -0.4l-0.5 0.3M123.0 216.6l-0.4 1.4M94.2 99.6l0.7 -0.1M133.2 123.7l-0.2 -0.2M245.5 6.1l0.3 0.9l-0.3 0.1l-1.1 0.7M109.0 158.9l-0.3 -1.3M115.0 165.9l-1.2 -0.3l0.1 -0.5l0.9 -1.1M227.4 197.4l0.6 -0.2M221.3 222.7l0.1 -1.7M210.6 264.2l-0.5 -0.3l0.9 -1.4l1.2 0.3M87.0 115.4l0.3 -0.3l0.9 -1.6M244.5 161.7l0.1 -1.6l-0.1 -0.6l-1.2 -0.9M215.6 213.3l0.4 0.1l1.0 -0.9M274.4 48.5l-0.5 -0.4M204.5 35.1l-0.7 -0.1l-0.3 -0.1M281.6 48.5l-0.0 1.4l-1.0 0.5l-1.0 0.4M62.4 202.1l-0.3 -1.5M235.5 90.2l0.8 -0.4l0.7 -0.9M198.7 228.5l0.9 -0.9l0.7 -0.6l1.0 -0.7M80.0 91.3l-1.0 0.7l-1.3 0.2M163.9 133.1l-0.9 -0.0M201.1 0.8l0.2 0.8l0.5 0.2l0.1 0.9M201.1 300.8l0.2 0.8l0.5 0.2l0.1 0.9M249.8 13.1l-1.2 0.5M214.2 251.5l-0.8 -1.0l-0.7 -0.4l-1.4 0.1M181.2 133.7l0.3 -0.4l0.4 -0.3M64.2 166.7l0.7 -0.1l1.2 -0.6M277.8 230.3l0.5 0.7l0.8 0.9M265.2 214.4l-0.8 -1.0l-0.6 0.2M225.0 219.1l0.9 1.0M120.3 265.8l1.1 0.7l0.5 -0.5M17.5 183.5l0.6 0.5l0.4 0.0M37.0 75.1l-0.2 0.8l-1.7 -0.4l-0.1 0.3M2.8 36.8l0.3 -1.5l0.5 -0.6l-0.2 -0.4M302.8 36.8l0.3 -1.5l0.5 -0.6l-0.2 -0.4M18.1 57.6l-1.6 -0.6M259.0 95.6l0.6 1.0l0.7 1.6M42.2 15.4l-0.4 0.1M105.3 282.0l-0.3 -0.2l-1.3 -0.9M44.2 174.1l-0.6 -0.5l-0.5 0.2l0.4 1.5M127.3 109.4l1.2 -0.1l0.2 -1.8M92.7 33.5l0.5 -1.0M257.2 176.7l-1.2 -0.5M224.6 120.2l-0.1 1.3l0.1 0.3M43.0 84.0l-0.9 0.5l0.1 0.4l0.5 -0.1M10.8 134.0l-0.7 1.3l1.1 1.4l1.1 0.8M283.1 209.4l-0.5 -0.4l-0.8 -1.0l-0.5 -0.2M65.0 186.2l-1.2 -1.0M23.9 291.5l-0.9 -1.0l-1.7 -0.4M106.2 150.8l1.1 -0.5l0.8 0.8M138.5 216.6l-0.4 0.2l-0.8 0.7M269.8 271.7l0.4 -0.0l0.9 -0.3l0.5 1.6M265.4 197.7l-0.2 0.8M246.8 165.4l1.5 0.5M185.9 261.5l-1.4 -0.7l-0.8 -0.2l-1.3 0.4M59.0 211.9l-0.3 1.0l0.8 0.7M242.3 32.4l-0.5 1.1l-0.3 0.4l0.4 0.6M102.2 276.2l-0.3 -0.6l0.4 -1.7l-0.6 -0.5M291.2 276.7l0.3 -0.5M163.1 13.3l0.3 -0.2l0.6 -0.6M7.2 179.0l0.8 -0.2l1.0 0.9M276.3 22.2l0.6 -0.2M152.6 209.4l0.4 -0.2l1.6 0.7M269.9 190.2l-0.2 -1.3l0.8 -0.2l0.4 -1.4M133.1 98.7l-1.4 0.0l-0.3 -0.2l-1.4 -0.8M242.3 230.8l-1.5 0.0l-0.6 -0.1l-1.8 0.1M41.5 100.5l1.5 -0.5l1.1 -0.3l0.5 0.2M197.6 67.3l0.1 -1.6l0.1 -1.1l-0.2 -0.7M150.4 76.6l-1.6 -0.1M78.8 80.7l1.5 -0.8l0.1 -0.9l0.5 -0.0M129.8 200.7l0.5 -1.4l-0.1 -0.4l-0.4 -0.1M94.3 189.2l1.0 -1.3M5.4 251.8l-0.0 -0.6l-0.9 -0.8M305.4 251.8l-0.0 -0.6l-0.9 -0.8M262.8 25.9l-0.8 0.7M155.8 153.0l-0.7 1.5l-0.6 0.2l-1.5 -0.9M92.7 217.7l-0.1 -1.1M293.8 266.9l-0.1 -0.7M158.7 183.1l1.3 -1.0M91.8 202.4l-0.3 -1.6l-0.7 -0.6M173.7 112.7l-0.9 0.2M6.9 223.2l0.5 -0.4l0.7 0.0l0.3 -0.7M109.8 54.5l-1.6 0.4M189.3 213.6l0.9 -0.3l0.7 -0.4M232.4 284.7l0.7 -1.5l0.1 -0.6l0.3 -0.5M259.9 1.3l-0.1 -0.4l-0.3 -0.0M259.9 301.3l-0.1 -0.4l-0.3 -0.0M100.3 185.9l-1.1 1.4M17.0 23.5l-0.2 1.0l-0.4 0.2M93.5 28.2l0.2 -0.4M209.0 222.4l-0.2 0.6M16.3 268.7l-0.6 -0.2l-1.4 -0.5M77.2 116.1l1.5 0.0l0.6 -0.0l0.5 0.5M20.3 -1.3l0.1 0.3l0.1 1.6l-0.5 0.5M20.3 298.7l0.1 0.3l0.1 1.6l-0.5 0.5M43.8 227.6l-1.0 1.5l-0.1 1.8l0.2 0.4M117.2 90.0l0.6 -0.8l0.8 -1.2M80.6 291.2l1.1 0.4l1.0 -0.0M219.5 43.6l-0.2 -1.5M263.8 131.9l-0.2 0.3l-1.2 0.1M74.3 258.0l-0.1 0.4M248.7 48.3l0.8 -0.8l0.6 0.3l0.2 1.5M165.1 272.7l-0.4 -1.1M112.4 240.8l0.3 -0.0M18.7 276.0l0.9 -0.1l0.1 -0.3M281.8 173.9l0.1 1.0l0.7 0.4M11.7 228.8l-0.0 0.8l-0.0 0.4M23.2 243.9l-0.7 -1.2l-0.8 0.2M35.7 164.2l-0.1 0.9M39.9 34.2l0.6 -1.2l-0.6 -0.5M219.4 165.8l-0.2 1.0l-0.2 0.3l0.0 0.3M256.2 199.9l-1.3 0.5l-0.3 1.2l-0.3 0.5M203.8 140.8l-0.2 -1.3M101.3 73.1l-0.5 -1.5l-0.4 -1.5l-1.6 0.4M163.5 56.7l1.0 0.5l0.3 0.9M50.3 289.5l0.1 -0.7l1.1 0.1M160.6 224.0l0.2 -0.5M214.6 290.6l-1.4 0.1M246.3 246.4l-0.8 -1.1l-0.2 -1.2l1.1 -0.2M53.7 212.8l-0.5 -0.4M188.4 251.2l0.4 0.9l0.6 1.3l0.4 -0.2M226.5 282.6l0.4 -0.1l0.5 -0.3M207.0 136.8l0.2 -0.5l0.8 -0.7l-0.3 -0.4M51.1 172.1l0.4 -0.6M148.7 54.1l-1.3 -0.2l-1.4 0.4l-0.6 1.5M13.7 273.2l0.2 -0.5M22.9 105.1l0.2 -0.4l0.8 -0.8l0.6 -0.6M50.7 181.3l0.4 -0.3M207.0 58.9l0.2 0.9l0.9 -0.1l0.1 1.0M233.2 21.9l-0.8 -1.4l0.1 -0.9l-0.5 -0.1M194.6 127.3l0.4 0.8l-0.5 0.4M97.0 20.7l-0.3 -0.3M220.7 154.5l-0.1 -0.3l-0.5 -0.0l-0.7 0.4M89.6 32.1l-1.0 -0.3M59.9 172.2l0.9 1.4M276.7 132.8l0.0 -0.6l1.6 -0.2M234.8 141.9l1.5 -1.0M219.0 278.3l-1.2 -0.1l-0.6 0.2l-0.5 0.6M148.1 286.7l-0.4 -0.6l-1.1 0.3l-1.5 -0.8M94.1 137.7l0.8 -0.4l0.9 -1.1l-0.3 -1.3M43.3 277.0l-0.1 1.1l-1.1 -0.0l-0.7 0.1M78.7 278.7l-0.8 1.1l0.2 0.6l-0.9 0.8M258.0 118.2l0.9 -0.0M196.9 167.3l0.2 -1.2l0.4 -0.2M118.8 133.2l-1.1 -0.2l-0.6 0.7M214.9 192.8l-1.3 0.8l0.0 0.5M273.4 234.0l-0.1 1.0l-1.3 0.7l-0.5 0.2M207.0 102.6l0.2 -0.4l-0.8 -1.3M170.7 -2.0l0.3 -0.8M170.7 298.0l0.3 -0.8M66.2 286.4l-1.3 0.2M130.1 13.3l-1.2 -0.1M202.0 195.3l-1.1 -1.2l-1.5 0.8M20.8 31.2l0.8 -1.0l0.9 -1.3l0.4 -1.4M198.8 244.8l-1.6 -0.2l-0.3 1.5l0.7 0.5M41.6 250.2l1.2 1.1l-0.6 0.7M-5.4 20.5l1.4 -1.0M294.6 20.5l1.4 -1.0M273.0 173.8l0.4 1.7l1.1 0.7M72.7 194.4l0.3 0.2M4.5 266.7l-0.0 -0.4l-0.2 -0.3M304.5 266.7l-0.0 -0.4l-0.2 -0.3M37.4 138.4l0.9 -1.4l1.8 -0.3M131.4 43.8l0.3 -0.9l0.4 -1.4M88.6 213.0l0.3 1.2M125.9 69.1l0.5 -0.2l1.2 0.5M185.0 209.3l0.7 -0.7l0.4 -0.4l0.4 0.4M138.2 173.7l-1.5 0.7l-1.0 -0.7M235.4 68.9l-1.0 -0.8l-1.2 0.0l-0.4 0.4M168.1 43.0l0.3 -0.7l1.2 -0.4l0.4 0.7M139.2 84.6l0.1 -0.3M233.5 84.6l0.0 -1.0l0.2 -1.7M186.4 74.2l-0.5 -0.5l-0.6 -0.9M247.6 -1.8l-0.7 -0.8l-1.0 -0.9l0.3 -0.9M247.6 298.2l-0.7 -0.8l-1.0 -0.9l0.3 -0.9M207.9 95.7l0.6 0.8l-0.6 1.2M275.3 137.6l0.6 -0.3M57.8 292.6l1.4 0.0l1.4 0.3l0.3 0.1M256.4 155.0l0.4 1.7l-0.3 0.4M277.0 101.3l-0.7 1.6l-0.9 -0.3l-1.2 -1.2M98.3 223.6l0.6 0.3l1.2 0.0M122.2 68.1l-0.3 -0.5M193.4 165.1l0.8 1.5l-0.1 1.4l-0.5 0.2M105.8 213.7l-0.5 -1.2l0.5 -0.9M121.4 32.8l-0.4 -1.2l0.7 -1.0M242.0 163.8l1.0 0.5l0.0 1.0l1.6 0.3M186.6 240.9l-0.6 0.2l-0.6 -1.4M169.6 156.9l-0.2 -0.7l-1.2 -0.6M126.2 210.7l0.3 -0.2l0.1 -1.7M210.5 54.7l-1.2 -0.7M286.0 168.1l0.9 -0.6l1.4 -0.1l0.1 -0.5M4.0 76.5l0.2 0.8M304.0 76.5l0.2 0.8M258.6 268.3l1.0 0.7M146.7 242.4l-0.9 -0.4M132.0 72.4l-0.7 -0.4l-0.1 -0.4l0.3 -1.2M246.5 233.0l1.2 -0.1l1.0 -0.9l1.7 -0.2M73.2 207.8l0.0 0.4M195.9 39.2l-0.8 0.3M86.6 207.9l-0.7 -0.8l-0.9 -0.4M27.2 86.3l1.1 -1.1l0.9 0.9l0.5 1.3M16.4 177.2l0.4 0.5l1.4 -1.0l0.4 -0.6M147.1 100.1l0.4 1.0l1.3 -0.3M135.6 56.2l0.4 0.5l-0.2 0.4M177.9 37.7l-0.9 -0.4M202.9 176.6l-0.2 0.5l0.2 1.6l1.7 0.4M132.2 238.8l-0.8 0.8M175.8 63.1l-0.7 -0.8l0.2 -0.3l0.7 -0.7M90.2 267.5l1.1 1.2l1.0 -1.0l0.1 -1.7M129.3 132.5l0.6 -0.6l0.0 -1.5l1.1 -0.5M272.5 193.9l1.0 -0.0M56.9 287.6l-0.5 0.3l-1.5 0.7l0.1 1.7M241.5 114.5l0.6 -0.5l0.9 0.5l0.1 0.3M195.3 200.0l0.4 -0.6l0.5 -0.6l0.9 -0.9M257.6 136.6l-0.7 1.0l-1.6 0.5l-0.4 -1.2M30.8 280.4l0.0 1.4l0.9 0.9l1.3 0.2M186.0 122.6l-0.7 1.5l-0.3 0.2M186.9 229.3l-0.1 0.5M255.4 190.5l-0.8 -0.2M188.5 290.4l-0.6 1.3M263.5 73.8l-0.1 -0.6M141.3 190.0l-0.9 0.2l-0.7 -0.5M12.8 53.1l1.4 0.1M141.4 264.5l-0.4 0.1l-1.1 -0.5l-1.3 1.1M267.1 202.6l-1.0 0.7l-0.8 -0.4l-0.1 -0.7M137.2 14.8l-1.2 -0.9l-0.4 -0.3l0.2 -0.8M236.0 128.4l-0.1 -0.3M273.5 24.6l1.0 1.2M47.0 285.7l0.2 -0.3M229.7 160.9l0.2 -1.3M236.0 25.4l-1.4 -1.0l-1.0 -0.3M98.8 138.2l0.4 -0.5l1.0 -1.4l1.1 -0.6M73.9 277.2l0.9 -0.9M107.1 8.8l-0.6 -0.1M220.5 120.5l-0.7 -1.5M234.2 175.3l1.4 0.4l0.4 1.4l-0.7 0.6M109.6 215.5l0.7 -1.7l-0.6 -0.4M201.5 158.9l0.6 1.6l1.1 1.3l1.7 -0.3M283.3 105.9l-0.5 -1.0l-1.7 -0.4M167.4 265.2l0.6 0.3M254.6 99.5l-0.2 1.4l0.7 1.3l1.2 0.3M176.5 110.1l-0.7 0.5l0.5 0.8l0.9 -0.1M33.9 231.9l0.4 1.6l-0.2 0.5M289.9 240.4l-1.0 -0.1l-0.3 0.3M83.0 31.0l-1.2 1.2M133.8 208.8l-0.7 -0.1l-0.5 -0.3l0.3 -0.6M34.2 0.1l0.5 -0.3M34.2 300.1l0.5 -0.3M73.3 203.0l-0.2 0.9l-1.0 0.2M195.0 25.6l0.8 -1.3l0.5 -0.2l-0.3 -1.1M74.8 291.0l1.4 0.1l0.0 -1.0l-1.4 -0.9M165.4 117.0l-1.1 0.8M160.2 288.9l-1.3 0.6l-1.2 0.4M26.0 93.2l1.6 0.1l0.4 1.2l-1.0 1.3M240.8 9.0l0.8 -0.5M38.2 285.7l0.2 0.9M73.0 46.7l-0.2 -1.3l-1.2 -0.0M135.3 132.8l-0.2 1.0l-0.2 1.6M89.9 271.7l1.7 -0.3l0.9 -0.5l0.3 -0.3M120.2 124.4l-0.4 -0.5l-0.8 -0.2l-0.4 1.5M177.3 19.6l1.1 1.3l0.6 0.4M115.7 122.0l0.7 -0.1M124.9 206.4l0.8 -0.6l0.9 -0.8M242.8 -0.2l1.0 -0.8l0.3 -1.3M242.8 299.8l1.0 -0.8l0.3 -1.3M35.7 148.5l-0.1 0.6l-0.4 0.1M281.8 156.0l-0.9 -0.7l0.1 -0.8M172.9 286.7l1.6 0.3l0.4 -0.6M89.7 64.5l-1.2 -0.1l0.1 -0.7l1.6 -0.6M85.2 122.5l-0.7 -1.3l-0.3 -0.1M196.1 5.8l0.3 -0.2l0.9 -1.1M196.1 305.8l0.3 -0.2l0.9 -1.1M7.8 133.7l-0.4 -1.0M163.9 199.5l-0.4 0.9M142.4 16.1l-1.0 0.3l-1.3 -0.9M229.5 0.0l-0.0 -1.4l-0.6 -0.8M229.5 300.0l-0.0 -1.4l-0.6 -0.8M176.3 144.1l-0.2 -1.2l-0.4 -0.5l-0.1 -1.1M103.0 248.4l0.8 -1.5l-0.2 -0.3M277.5 -4.9l-1.4 -0.4l-0.7 -0.4l0.1 -0.4M277.5 295.1l-1.4 -0.4l-0.7 -0.4l0.1 -0.4M254.6 15.9l1.0 -1.4M191.3 263.5l1.1 -0.7l0.6 -0.9l0.9 -0.5M279.8 93.1l-0.3 0.4M271.4 44.1l0.7 -0.2l0.4 0.1M140.9 208.7l-0.5 -0.5l-0.4 0.2M209.9 32.4l-0.9 0.9l-0.4 0.1M282.0 41.5l-0.2 1.0M-3.3 183.0l-0.5 -0.5l0.6 -0.6M296.7 183.0l-0.5 -0.5l0.6 -0.6M197.5 115.1l-0.0 0.6l0.8 0.9M109.5 210.0l-0.6 1.0l-0.3 -0.0M89.4 258.2l0.5 -1.2l0.6 -0.3M171.4 236.0l-1.1 0.5l0.0 0.5l0.0 0.9M133.2 139.3l-0.9 0.4M153.3 40.3l0.6 -0.0l1.2 0.8l-0.3 1.0M248.4 186.7l-0.7 1.1l-0.8 -0.3" stroke-width="2.2"/><path d="M24.8 100.2l0.6 0.5l1.2 -1.3l0.9 -0.0M228.3 35.0l-0.9 0.2l-0.9 0.7M98.8 89.3l-0.2 -0.8M27.3 173.3l0.1 1.3l-0.9 1.3l0.2 0.4M84.1 275.8l-0.0 -1.1M268.0 -4.6l0.2 -1.7l-1.5 -0.4l-0.2 -0.4M268.0 295.4l0.2 -1.7l-1.5 -0.4l-0.2 -0.4M273.8 105.2l0.4 0.2l0.5 -0.0l0.5 0.5M226.2 8.0l-0.9 -0.1l-1.4 0.4l-0.0 1.6M268.3 98.7l-0.6 -0.4l-0.9 -0.9M212.6 171.4l-0.1 -0.4M136.1 7.4l0.8 0.1M52.7 2.9l0.3 1.1l0.3 0.3l1.2 -0.7M52.7 302.9l0.3 1.1l0.3 0.3l1.2 -0.7M292.5 161.1l0.4 0.3l1.0 -0.3M165.3 231.7l-1.1 -1.2l0.4 -1.1l0.2 -0.2M186.2 277.8l-1.7 -0.4M190.2 190.5l-0.6 1.4l-1.0 0.7M217.9 78.6l0.9 0.3l0.6 -0.8l-1.4 -1.1M155.4 128.9l-1.7 0.3M153.5 6.0l-0.2 -1.8l0.8 -0.9M153.5 306.0l-0.2 -1.8l0.8 -0.9M-1.1 191.2l-0.8 0.3M298.9 191.2l-0.8 0.3M144.2 291.7l-1.3 0.6l-0.5 -0.0M268.5 235.7l-0.8 -1.1l-0.6 0.3M227.4 57.4l-1.0 -0.7l-1.4 -0.5l-0.3 0.2M127.6 188.3l0.9 -0.4l0.4 -1.6l-1.3 -0.6M110.4 143.4l0.8 0.7l0.9 0.2l1.3 -0.6M127.3 76.5l0.0 1.2l-0.0 0.7M239.9 162.5l-1.6 -0.6M256.1 91.6l1.5 0.1l0.2 -0.2l0.5 -0.9M118.9 200.1l-1.1 -0.2l-0.5 0.4l-0.9 -0.4M270.6 219.3l-1.1 0.7M224.7 90.9l0.5 0.3l1.3 0.7M278.7 200.8l-0.2 -0.8l-0.6 -0.4l-0.6 -0.3M18.2 122.4l0.2 1.6M64.1 291.3l0.2 -0.3l0.6 0.1l0.8 -0.1M65.4 104.5l-0.3 -0.2l-0.8 0.1l-0.5 -0.5M257.9 61.5l0.3 0.3l0.5 -0.2l1.0 -0.3M188.6 170.1l1.0 -0.6M129.1 116.4l-1.0 0.6l-0.2 0.8l-0.5 1.3M115.1 98.1l-0.3 0.7M6.6 117.3l0.6 0.3M4.9 174.9l-0.7 1.0l-0.9 0.6M304.9 174.9l-0.7 1.0l-0.9 0.6M163.6 144.3l-0.3 0.6l-1.0 0.9l-0.4 -0.2M91.6 239.7l0.8 0.8l1.6 0.2M43.2 52.5l1.2 0.5l0.5 -0.4M281.8 259.5l-0.2 -0.3M161.0 286.2l0.3 -1.0M265.8 256.7l1.0 0.5M199.7 126.6l0.2 -0.7l-0.2 -0.6l-0.2 -0.2M182.7 291.0l-0.8 0.8l-1.2 -0.5M49.8 195.8l0.2 -0.5l0.2 -1.8M282.3 268.7l1.3 0.3l0.2 -0.3l0.6 0.1M151.4 37.8l0.9 -0.2l0.8 -0.6M150.4 271.9l-0.2 -1.4M89.2 222.0l0.9 -0.2l0.4 -0.2M177.7 287.5l0.6 1.4M36.9 262.6l0.2 -1.0M168.0 292.6l-0.4 0.2M137.2 145.2l0.4 0.6l-0.4 1.1l-0.9 0.1M215.9 86.3l-0.7 0.3l0.0 1.7M158.8 196.7l1.8 0.4l0.4 1.2l1.0 0.9M257.7 280.2l-0.3 0.5M144.7 235.4l-0.7 -0.3l-1.2 -0.2M154.8 77.2l0.9 -1.3l1.4 -0.3l1.7 0.2M123.8 -2.7l1.0 -0.6M123.8 297.3l1.0 -0.6M93.1 228.9l-0.3 -0.7l-0.3 -0.7M256.4 264.1l0.0 0.5l-1.1 0.4M129.8 207.0l0.5 -0.9l-0.3 -1.8M230.6 16.6l-0.4 -0.2l-1.3 1.2M20.8 79.8l-0.0 1.0l0.9 1.1M16.6 142.0l-0.4 0.1M68.3 231.5l-1.0 -0.7M272.4 18.0l1.2 0.7l0.9 -0.8l0.8 -0.2M180.6 137.8l1.0 1.4l1.3 -0.7M89.8 207.8l0.6 -0.5M93.0 262.2l0.3 -0.5l0.4 -0.4M97.4 140.7l-0.6 0.3l-0.7 -1.1M280.3 12.6l0.6 1.1M199.9 188.5l1.4 -0.5l0.5 0.1M9.7 56.0l0.2 0.4l0.5 1.3M84.7 88.3l0.6 0.3l0.3 -0.5l0.3 -0.7M126.3 96.1l0.0 -1.0l-0.2 -0.5M202.5 290.4l-0.3 -0.1M86.4 136.1l0.4 0.0l0.9 1.2M145.6 39.2l-1.5 1.0M41.8 163.3l0.4 0.2l0.0 0.9M190.1 266.2l1.5 0.0l0.8 1.1l0.5 1.7M237.5 180.6l0.3 0.6M274.5 142.0l-1.3 0.6l-1.8 -0.2M97.4 171.5l1.1 -0.5l-0.0 -1.0l0.0 -1.4M115.0 52.1l-0.5 1.5l-0.5 0.0M4.8 230.4l-0.6 -1.6M304.8 230.4l-0.6 -1.6M68.1 19.2l0.2 -0.5M201.3 101.7l0.2 -0.7l0.7 -0.7l1.0 -0.5M253.8 253.6l-1.4 0.2l-0.1 0.9l-1.4 0.9M170.2 22.0l-0.4 0.6M18.1 219.5l-0.1 -0.3l0.6 -0.2M109.5 190.7l1.5 0.9l0.5 0.6l-0.3 0.7M207.6 30.0l-0.7 -1.6M187.6 287.3l-0.4 -0.7l-1.6 -0.6M46.5 4.3l-0.7 0.6M46.5 304.3l-0.7 0.6M131.5 265.5l0.8 0.9M25.2 68.6l0.9 -0.5M-5.0 149.5l-0.8 -0.4l0.1 -0.5l-0.1 -0.8M295.0 149.5l-0.8 -0.4l0.1 -0.5l-0.1 -0.8M49.4 153.1l1.1 0.6M71.9 292.2l-0.4 -0.1l-1.1 1.3l-0.0 0.5M16.9 94.8l-0.2 -0.3l-0.9 -0.8l-0.6 0.5M39.3 151.7l-0.4 0.1l-1.2 0.9M231.5 3.0l0.4 -0.6l-0.0 -0.8l0.3 -0.6M231.5 303.0l0.4 -0.6l-0.0 -0.8l0.3 -0.6M180.7 142.4l0.2 0.3l-0.6 1.1l-0.1 0.3M24.1 197.4l-0.5 0.2l-0.2 0.9M55.0 285.7l-0.8 0.4l-1.1 -0.7M12.8 193.6l-1.0 0.2M75.3 285.4l0.3 0.1M114.8 232.7l-1.4 -0.6M27.2 232.9l0.3 0.5M130.1 88.5l0.2 -1.5l-1.0 -0.4l0.0 -1.7M26.1 17.4l-1.5 -0.3M53.6 251.0l1.3 -1.1l0.1 -0.3M222.3 198.9l-0.3 -0.6M265.4 58.3l-0.5 -0.1M130.7 47.6l-0.4 -0.0l-1.5 -1.0l-1.5 0.4M190.6 196.0l-1.4 -0.8l-1.3 1.1l0.6 1.0M279.8 227.3l0.9 -0.9M156.9 203.7l-1.7 0.1M212.8 246.1l-0.9 -0.8l-0.9 -0.3l0.6 -1.6M270.8 202.4l-0.5 0.7l-0.4 0.4l0.4 0.4M266.4 143.7l-0.2 0.7l0.3 0.4l1.4 -0.3M68.0 40.1l-1.1 -0.5l-0.5 -1.6M2.6 270.7l1.2 0.5l0.1 1.4l-0.4 0.2M302.6 270.7l1.2 0.5l0.1 1.4l-0.4 0.2M167.2 34.1l1.0 1.2M279.3 122.8l0.6 -0.2M110.1 249.3l-1.0 -1.3M238.6 58.7l1.2 -0.7l0.8 -0.1l0.8 -0.2M251.1 131.3l1.1 -0.6l1.1 -0.7l1.2 0.0M163.8 40.7l0.3 -1.2l0.4 -1.1l-0.6 -0.6M7.2 204.4l1.5 0.6l1.1 -0.3M193.1 216.1l0.5 -0.1l0.4 -0.8M71.4 56.7l-0.2 -0.5l0.6 -1.1M39.2 46.4l-0.7 -1.3M244.1 13.5l-0.3 -0.7M22.3 226.6l-1.5 -0.2M153.5 274.2l0.1 0.4l0.6 1.5l1.0 -0.3M78.5 40.9l0.1 1.2M137.9 251.8l0.6 -0.9M210.5 105.6l0.7 -1.3l0.6 0.3l0.6 -0.6M102.5 114.2l0.9 0.0l0.6 1.0l0.7 0.6M197.7 160.1l-0.3 0.2l-0.1 1.2l0.5 1.0M60.5 51.2l0.8 0.2l0.4 -0.6M244.3 137.9l-1.3 0.8l-1.3 -0.3l-1.2 0.2M121.7 5.9l-0.3 -1.2M121.7 305.9l-0.3 -1.2M230.3 137.3l-0.7 -1.3M62.8 246.8l-0.7 -1.4l-0.3 -0.7M61.3 24.5l-0.0 1.3l0.4 1.3M30.2 80.0l0.1 1.3M181.8 210.5l-0.4 0.2l0.4 1.7M235.7 -4.6l-0.4 0.2M235.7 295.4l-0.4 0.2M253.0 79.0l-0.9 0.9l-1.0 -0.8M42.6 125.9l-0.2 1.1l-0.4 1.2l0.7 1.2M198.7 22.9l1.3 -0.1M13.8 154.9l1.2 -0.7l0.8 -1.5l0.4 -0.6M229.6 104.4l0.2 -0.4M269.6 210.9l0.7 -0.8M46.1 90.3l-0.7 1.4l-0.5 1.4M210.7 86.8l1.7 -0.0M128.3 52.9l-0.1 -0.3M195.3 147.6l0.4 0.1l1.0 1.3M117.4 214.6l0.9 -0.0l0.4 1.4M34.8 207.2l-0.7 -0.2l-1.0 -0.4l-0.3 0.7M253.9 86.1l-0.2 -0.3l-1.4 -0.3l-0.0 -0.6M123.7 222.7l1.4 -0.9M23.0 144.6l-1.0 0.6M125.9 129.3l-0.5 0.6M-0.1 284.2l-1.2 -0.7l-0.8 -0.1M299.9 284.2l-1.2 -0.7l-0.8 -0.1M197.0 224.1l-0.8 -0.7l0.2 -0.3l0.9 -0.4M59.3 17.3l-0.9 0.7M54.5 123.1l1.3 -0.2l0.4 0.8M48.3 58.0l-0.3 0.3l-1.1 0.7l-0.8 0.7M-2.2 176.5l1.3 0.9l1.0 0.6M297.8 176.5l1.3 0.9l1.0 0.6M11.4 36.4l-0.1 -0.9M284.9 195.2l0.6 0.4M107.7 202.8l0.0 -0.5l-0.2 -0.7M12.1 259.6l1.0 -0.3l1.2 -0.9M155.7 124.7l0.6 0.4l0.1 0.4M116.2 174.1l1.1 0.0l1.7 -0.1M16.9 67.1l-0.9 -1.5M28.5 248.3l-1.6 0.7M155.5 43.8l-0.8 1.5l0.5 1.3l0.5 0.2M33.7 158.2l-0.6 -0.9M291.3 -4.1l0.8 0.4l1.0 -0.0M291.3 295.9l0.8 0.4l1.0 -0.0M127.3 82.7l1.3 -0.6M248.4 226.2l-0.5 1.1M119.1 83.1l0.5 0.4l-0.5 0.9M87.3 159.1l-1.0 -0.8l0.5 -0.7l0.2 -0.4M212.4 204.8l0.3 -0.5M30.4 2.9l0.6 -0.9M30.4 302.9l0.6 -0.9M290.9 230.0l-1.1 0.2l-0.5 0.7l0.3 0.8M216.1 272.5l0.6 1.6l1.2 0.9M45.6 39.4l-0.4 1.4l0.2 0.5M172.4 77.2l1.2 0.5l1.1 -0.7l-0.3 -0.6M50.1 17.3l-0.9 0.8l-0.3 0.1M83.7 185.4l-1.3 -0.2M76.2 26.7l-0.2 -0.6l0.2 -0.7M9.5 275.9l-1.2 1.0l0.6 0.7l-0.3 0.5M223.0 30.2l-1.4 -0.5l-0.8 -0.5M153.1 85.2l0.6 0.2l0.8 -0.3l0.6 0.2M277.7 191.9l-0.1 0.3M222.1 215.5l0.3 -1.1l0.9 -0.0M104.7 136.3l-1.2 -1.3M96.8 49.1l0.8 -0.3M30.5 142.0l1.1 0.4M149.1 207.5l-0.4 0.6M142.3 282.2l0.6 1.5M272.4 134.1l-0.1 0.6l-0.9 0.4M27.5 61.9l-0.1 -1.2M284.7 279.1l-1.4 -0.2l-1.2 -1.2M148.1 31.4l-0.0 -1.1l0.7 -1.6M80.8 61.9l-0.5 0.1l-1.6 -0.4l-0.1 -1.6M102.1 64.9l0.5 -0.9l-0.4 -0.6l0.3 -0.4M135.1 126.7l0.3 -0.5l0.4 -0.5l1.0 -0.2M175.0 56.6l0.0 1.2l1.2 0.2l0.7 -0.3M203.3 128.2l1.2 -0.7l1.1 -0.3M49.5 190.5l1.1 -0.9l1.4 -0.0M215.0 224.0l-0.5 -0.7M237.6 65.7l-0.2 -1.5l-1.6 -0.8l-0.2 0.4M193.1 117.2l0.2 0.5l0.6 1.0l1.1 -0.3M233.4 123.8l-0.5 0.9l0.7 0.9l-0.0 0.4M209.7 142.9l-1.6 0.7l-0.3 -0.4M221.9 269.8l-0.2 -0.7M80.9 220.6l-1.1 -0.3M95.3 66.8l1.0 -0.9l0.2 -0.5M38.8 96.6l0.5 -0.8M22.0 76.9l0.2 -0.4l0.3 -1.2M190.3 150.7l0.3 1.0l0.2 0.5l0.6 1.3M3.4 28.4l-1.4 0.0l-1.2 -1.0M303.4 28.4l-1.4 0.0l-1.2 -1.0M251.7 230.6l-0.7 -1.2l-0.8 -0.8M108.3 44.8l-0.5 0.7l-0.4 0.1M19.9 154.3l0.9 0.0l0.4 0.4M27.9 117.3l-0.7 -0.5M52.3 236.4l0.3 -0.3l0.6 -0.3l-0.7 -1.4M96.4 267.7l-0.9 -0.2l-0.2 -1.4l0.2 -1.1M69.7 281.2l0.7 0.4l0.5 0.8l-0.2 0.3M18.9 61.6l-0.4 -0.7l-1.3 0.4l-0.1 0.5M160.5 40.9l1.3 0.9l-0.9 1.5l-0.6 0.4M181.2 274.6l0.9 -1.3M144.0 131.8l-0.6 -0.6l-0.4 -0.0l-0.4 0.4M122.9 194.8l0.4 1.0l0.1 0.7l0.2 1.0M132.6 77.7l0.4 -1.5l-0.8 -0.3M120.1 259.1l-0.2 0.7l1.6 0.8l0.4 0.7M275.6 260.9l1.0 -0.2l0.0 -1.0M116.0 29.0l-0.9 1.4l-0.8 0.7M103.7 85.4l-0.8 -1.1M-0.5 206.9l1.1 0.3l-0.1 1.2M299.5 206.9l1.1 0.3l-0.1 1.2M73.4 74.4l0.7 -0.8l-0.2 -1.7l0.9 -0.4M76.4 222.2l-0.3 1.7l1.1 0.9l0.7 -0.1M143.3 203.9l-0.8 1.5l-1.7 0.2M164.8 -3.1l0.8 0.5M164.8 296.9l0.8 0.5M146.1 111.2l-0.9 -1.4l-0.8 0.3M240.2 21.5l0.5 0.2l0.7 0.8l0.6 0.3M183.2 190.1l-0.1 0.5M198.6 97.2l0.4 -0.9M24.4 251.4l-1.2 -0.9l-0.8 -0.5M149.5 173.0l0.7 -1.2l0.0 -1.8l0.4 -0.8M46.7 141.0l-1.6 0.7l-1.3 -0.7M91.8 184.1l-0.9 -0.1l-0.0 -0.4M51.2 28.4l-1.2 1.3M182.6 81.9l-0.7 -0.4M99.1 -4.8l1.4 -0.1l0.0 1.6l0.3 0.3M99.1 295.2l1.4 -0.1l0.0 1.6l0.3 0.3M96.5 159.4l0.1 -1.3l0.5 -0.1l0.6 1.0M260.9 -0.8l1.2 -0.6l0.1 -0.4l1.3 -1.1M260.9 299.2l1.2 -0.6l0.1 -0.4l1.3 -1.1M218.4 25.9l-0.5 -0.1l-0.3 -0.7M194.7 122.6l0.2 1.5l-0.3 0.7M8.4 66.5l-0.2 1.0l0.2 1.7l0.6 0.4M235.3 158.9l-0.4 0.3l-1.0 -0.6l0.6 -1.2M270.6 20.2l-0.8 0.2l-1.0 -0.8l-0.8 -0.6M191.6 199.5l1.0 0.7l-0.1 0.5M123.6 269.8l-1.3 0.2M186.9 176.2l0.1 -0.7l-0.5 -0.6l0.2 -1.3M261.6 198.9l-0.9 0.4M177.5 6.4l-0.6 0.2l-0.3 0.2l-1.5 -0.2M269.3 102.9l0.4 0.7l0.6 0.0M183.4 235.3l0.9 -1.1M140.4 230.9l0.8 -1.3M235.7 96.5l0.2 -0.9l1.5 -0.1l1.1 0.4M16.1 168.7l1.6 0.6l0.5 0.1l0.2 -0.3M255.1 24.1l0.3 -1.2M78.6 253.6l0.8 0.5l0.9 -1.0M102.6 20.5l0.3 -1.4l-1.3 -0.4l-0.4 -0.6M9.2 155.0l-1.5 0.0l-0.8 0.8l-1.4 -0.4M158.9 129.1l0.9 0.7l0.4 0.9M215.8 163.3l-0.7 -0.3l-0.2 -0.4l-0.5 0.0M243.7 270.5l0.4 -1.7l0.4 -0.4M88.9 154.6l-0.0 -0.4M195.3 79.9l-0.8 -0.8l-1.3 -0.8M242.3 62.6l-0.3 -0.7M94.6 221.5l-0.0 -0.4M29.7 162.8l0.1 1.3l1.3 1.1M50.2 100.0l-1.8 0.1l-0.0 0.6l-1.3 0.1M287.5 288.8l-0.9 0.8l-1.0 -0.0M42.9 123.7l-0.6 -1.3l-0.5 0.1M99.9 243.0l-0.6 0.5l0.3 0.4M290.3 80.3l0.9 0.7l1.1 0.1M101.9 13.2l1.0 0.5l-0.0 0.5l1.4 0.2M206.5 65.5l0.8 0.2M219.1 228.0l-0.0 0.7l1.3 1.0M279.3 97.6l1.3 -0.4M194.4 94.6l-1.4 0.3M2.7 241.1l-0.1 -0.5M302.7 241.1l-0.1 -0.5M70.9 166.3l-0.9 1.0l0.8 0.9M69.6 140.3l-1.4 -0.8M224.6 226.2l1.5 0.7M159.4 187.2l0.4 1.6l1.3 0.8M108.4 197.8l-0.7 0.4l-0.6 -0.3l-1.6 -0.5M244.1 22.0l1.3 -1.2l-0.1 -0.8l1.1 -1.2M-1.1 139.3l-0.2 0.8l-0.4 0.9l-1.4 0.0M298.9 139.3l-0.2 0.8l-0.4 0.9l-1.4 0.0M153.7 157.6l0.8 -0.1l0.1 0.3l-0.7 1.6M171.1 227.1l-0.5 1.1l-0.7 0.2l-0.9 -0.1M222.8 20.7l0.3 -0.6M154.9 57.0l0.2 0.9l-0.5 0.6l-1.4 0.1M160.7 217.7l0.6 -0.5l0.2 -0.7l0.4 -0.1M170.0 48.2l-0.4 -0.8l0.2 -0.5M116.1 145.9l0.5 -0.3l1.0 0.1l0.4 -0.3M293.3 292.7l0.5 0.4l0.5 -0.3M145.9 276.9l0.7 0.3l0.4 -0.3l0.7 0.2M42.0 112.7l0.0 0.4M115.3 3.9l1.4 -0.2M115.3 303.9l1.4 -0.2M218.1 287.4l0.6 -1.0l0.4 -0.3M282.6 191.2l-0.8 0.2l-0.5 -0.2M168.0 209.0l0.3 1.5l-0.3 0.2l-0.5 0.5M242.6 199.2l-0.2 -1.1M42.2 267.1l-0.7 -0.5l-0.9 -0.7M82.6 271.3l-0.7 0.7M26.6 19.2l-0.3 1.7l0.8 1.4M226.2 254.3l-0.5 1.0l-0.0 0.3M206.8 232.0l1.0 1.3l1.3 -0.4l-0.0 -1.4M48.6 249.7l0.4 0.5l1.0 0.3M256.3 36.8l-0.2 -0.5M203.8 216.6l-1.0 0.7M160.3 203.1l-0.6 0.0M202.2 183.5l-0.1 -1.3l-0.7 -0.2M140.7 197.8l-1.3 0.3l-0.2 0.8M233.8 13.2l-1.7 -0.3l-0.3 1.0l-0.1 0.3M7.1 247.5l0.7 -0.5M59.6 59.9l-0.3 -0.3l-0.7 0.3l-0.6 -0.6M240.0 224.3l0.7 0.9l-0.7 1.0M49.7 21.6l-1.3 -0.2l-0.4 1.0M250.6 223.2l1.1 0.0M55.7 265.2l1.4 -1.0M214.2 175.5l0.3 -0.2l-0.1 -0.4M268.7 290.2l-0.3 -1.7M127.8 194.5l-0.4 0.4l-1.3 0.7l0.2 1.4M161.8 237.7l0.9 -1.3l0.5 -0.5l-0.2 -0.4M2.3 57.7l0.5 -0.6l1.1 0.4l0.4 -0.8M302.3 57.7l0.5 -0.6l1.1 0.4l0.4 -0.8M149.2 167.1l1.3 -0.6l0.8 -1.0M119.3 98.8l-0.0 -0.9M22.9 184.9l0.1 -0.9M258.3 70.7l-0.9 0.9l-1.1 -0.1M83.7 231.2l0.7 -0.2l0.6 0.0M205.8 225.2l-0.4 0.3l0.4 1.0M74.8 263.9l0.3 -1.6M232.2 198.9l-0.4 -1.0M124.3 49.8l0.3 -0.2l1.2 0.7M113.8 268.7l-1.3 -0.7M159.8 134.9l0.7 -0.5M35.1 172.9l-0.3 -0.1M117.6 23.4l0.4 1.2M7.2 35.8l0.4 1.4l-0.6 0.7M185.2 179.4l1.1 1.2l1.2 0.4l-0.0 0.6M22.7 60.1l-1.2 -1.2l-0.4 -0.5l0.4 -0.7M179.4 43.9l-0.3 0.9l1.0 0.5M117.0 198.1l-0.5 -0.4l0.2 -1.3l-0.9 -1.5M24.4 12.7l-0.3 0.9l-0.6 0.3M81.8 196.0l-0.8 -0.8l-1.2 1.0M91.7 179.2l0.1 0.3l1.0 0.3l-0.1 0.4M97.8 62.0l0.1 1.1M143.8 22.3l-0.5 1.3l-0.0 1.4l-0.3 1.7M290.8 176.8l-0.4 -0.1l-0.4 -0.9M104.5 276.0l0.4 0.6l0.9 0.9M98.8 128.5l0.6 -1.3l-0.6 -0.5" stroke-width="2.3"/><path d="M138.7 152.5l1.2 -0.8l0.8 0.4M57.2 73.7l0.9 -0.8l0.2 -0.6l-1.4 -0.8M139.7 132.0l-1.0 0.2M288.5 253.1l-1.3 0.5l-0.2 1.5l-0.6 0.3M164.5 221.0l-1.4 0.3M238.2 258.6l-0.7 0.4l-1.3 0.6M203.4 60.6l0.0 0.4M236.5 5.7l1.0 0.3l0.8 -0.1M236.5 305.7l1.0 0.3l0.8 -0.1M240.6 51.5l-1.2 0.8M236.6 42.7l-0.5 -1.1M74.4 58.9l0.2 -0.4l0.5 0.2l0.8 1.2M4.4 209.5l-0.9 0.7l-0.2 0.2l0.3 0.7M304.4 209.5l-0.9 0.7l-0.2 0.2l0.3 0.7M189.0 121.3l-0.3 0.2M232.7 244.5l1.4 -0.2M229.9 229.7l0.2 -0.2l0.3 0.0M283.0 201.1l0.5 -0.1l1.0 -1.2l-0.7 -1.1M197.1 170.6l0.4 0.0l1.3 0.5M12.3 278.7l0.4 0.4l0.9 -0.7l1.3 1.1M109.8 194.9l1.5 -0.4l1.1 1.4l-0.9 1.3M28.3 262.8l0.9 -0.3l0.6 -0.2M23.0 64.8l-0.4 -1.6M109.0 108.7l1.4 0.6M156.5 228.5l-0.0 1.8M247.7 199.6l0.3 0.8M213.4 240.9l-0.7 -0.4M190.9 -2.0l0.3 -0.1M190.9 298.0l0.3 -0.1M245.8 24.6l0.6 -0.2l0.4 0.1l0.8 0.4M139.9 286.4l1.2 0.0l0.2 0.5M247.1 63.3l1.7 -0.4l-0.2 -1.2M123.6 22.0l-0.8 0.1l-0.8 -0.6l-1.6 0.1M150.9 41.5l-0.4 0.4l0.3 1.1l-1.4 0.4M-4.6 154.4l1.4 0.9M295.4 154.4l1.4 0.9M139.8 37.3l-1.8 -0.1M167.9 168.0l0.6 0.2M220.6 115.5l1.4 -0.3l0.1 -1.7M240.5 65.9l1.7 -0.6l0.5 0.6l-0.1 1.2M212.1 59.0l1.7 -0.3l0.4 0.1M139.2 225.8l-0.4 -0.2l-1.0 -1.1M278.5 151.5l-0.1 -0.9l-0.5 -1.0l1.2 -1.0M149.9 9.6l-0.3 0.2l-0.7 0.9l0.4 1.0M110.5 101.9l-0.8 -1.5l-0.5 -0.1l-1.3 -0.0M230.9 157.1l0.7 -1.5l-0.1 -1.2M45.1 179.4l0.3 -1.5M200.1 285.9l-0.2 1.2M273.3 11.4l-0.7 0.1M16.4 76.2l-0.7 -0.0M215.1 35.6l-1.7 -0.3l-0.6 0.2M86.0 218.8l0.2 0.8l-0.5 0.4M85.0 116.6l0.2 1.8M-0.9 61.8l-0.3 -0.4l-0.7 -1.5l1.0 -0.5M299.1 61.8l-0.3 -0.4l-0.7 -1.5l1.0 -0.5M154.9 10.5l0.1 -0.4l-0.7 -1.3M220.8 -3.4l0.5 0.4M220.8 296.6l0.5 0.4M160.1 259.9l0.4 0.6l0.4 -0.2l0.7 -0.9M282.7 182.9l-0.7 0.2M59.2 -0.1l-0.1 -1.4l-0.2 -0.6l-0.3 -0.8M59.2 299.9l-0.1 -1.4l-0.2 -0.6l-0.3 -0.8M224.3 180.7l-1.4 -0.0l-1.2 -0.5M193.8 211.3l1.5 -0.0l0.9 -0.6l-0.0 -1.2M21.1 138.7l-1.2 0.1l-1.1 -0.3M8.2 34.2l0.4 -1.1l0.3 -1.1M13.3 124.9l1.0 -0.1M224.7 146.8l0.1 -0.6l0.3 -0.7M150.0 155.2l-0.6 0.3l-0.8 -0.9M113.3 134.2l0.1 0.3M31.9 222.8l-0.6 -0.2M155.7 117.5l0.1 -0.5l0.5 -1.3M182.9 184.4l0.6 0.5l1.2 -1.0l-0.0 -0.4M235.2 102.5l-0.6 -1.2l-0.1 -0.8l-0.4 -0.0M60.5 263.8l1.0 -1.0l1.4 0.3M172.0 190.2l0.6 -1.2M26.2 148.9l0.0 0.5l1.6 0.2M132.5 26.4l0.6 -0.5l0.0 -1.5M252.9 150.5l-1.0 0.5l-0.2 0.3M242.5 240.2l0.8 0.3M-4.5 187.3l-0.0 -0.7l0.0 -0.3M295.5 187.3l-0.0 -0.7l0.0 -0.3M5.8 47.0l1.1 0.9l0.8 0.6l0.2 1.1M305.8 47.0l1.1 0.9l0.8 0.6l0.2 1.1M20.4 15.4l1.1 0.4M32.4 286.5l-0.4 0.1l-0.5 0.1l-0.6 -1.0M123.3 90.3l0.1 1.6M247.5 114.5l0.8 -1.1l1.3 0.2M142.0 158.3l-1.0 -0.1l-0.6 -0.0l-1.3 0.9M63.8 23.0l0.4 -0.8l0.6 -1.6M49.2 143.7l0.3 -1.5l-0.4 -0.8l-0.1 -0.9M172.1 267.7l1.2 -0.4l0.3 0.1l0.4 -1.1M183.5 57.4l-0.9 0.7l-0.9 -0.1l-1.2 -0.5M248.0 102.5l-0.2 0.7l-1.2 1.0M283.7 252.7l-0.2 -1.7l-0.2 -0.8l-1.7 -0.3M95.8 109.7l-0.1 1.0l-1.5 0.7M105.6 142.6l0.4 -0.5l0.9 -1.2l0.6 -0.5M113.5 80.2l-0.3 1.5M225.6 183.7l0.2 0.6l-0.4 1.5l0.2 0.3M113.3 285.5l0.4 -0.6l-0.7 -1.2l-1.0 -0.2M244.7 231.5l-0.1 -0.9M153.1 80.0l0.1 1.2M21.1 88.0l-0.3 -0.2l-1.1 0.1l-0.7 1.4M273.4 251.7l1.3 -1.1l0.2 -0.8l-1.0 -0.6M131.7 15.6l-0.1 0.7l1.3 1.1M190.4 14.9l-1.2 -1.0M75.7 194.7l1.6 0.3l1.0 -0.0l0.4 -1.6M245.9 81.9l0.1 0.4l-0.8 1.1M53.1 148.9l-0.5 -0.7M126.8 235.8l0.8 0.3l0.3 -0.2l0.4 -1.5M21.1 70.8l-0.2 -0.7l-1.5 -0.9M100.6 108.9l-0.4 -0.8M189.4 45.5l-0.2 -0.8l0.8 -1.6M93.7 288.4l-0.1 -0.6l-0.5 -1.0l-0.8 -0.7M290.1 115.5l0.3 0.9l0.6 0.7M226.5 249.9l-0.1 0.6l0.3 0.5l-0.9 0.8M89.8 248.2l-1.4 -0.7l0.4 -0.9l-0.3 -0.5M4.0 134.8l0.7 1.2M304.0 134.8l0.7 1.2M81.0 188.5l-0.5 -0.8l-1.5 -0.3M68.7 277.2l1.2 0.0l0.4 0.1M27.9 184.3l0.3 0.1l-0.1 0.4l-0.9 0.4M160.4 244.0l-0.4 -0.7l0.2 -0.4l0.3 -0.4M280.4 90.7l0.3 -1.3l0.6 -0.1l0.4 -1.2M99.5 132.3l-0.5 -1.3l1.1 -0.4M30.5 270.3l1.2 0.9l1.0 -0.5M31.5 95.9l-1.2 -1.1l-0.4 -0.1M114.7 291.3l-0.2 1.6l-0.6 -0.0M7.9 106.7l-0.7 1.6l1.0 0.6l1.5 0.6M176.4 209.1l1.2 -0.5M87.1 68.6l0.6 -0.8M221.4 62.0l0.7 -1.1l0.9 -0.1l0.5 1.0M178.6 15.2l-0.6 -0.4l-0.0 -0.6l-1.0 -0.3M161.0 161.3l-0.1 -0.7M19.4 160.0l0.3 -0.8l0.2 -0.3M-5.2 77.6l0.1 0.8l-0.4 0.1l-0.0 0.5M294.8 77.6l0.1 0.8l-0.4 0.1l-0.0 0.5M171.2 159.0l0.3 1.7M154.9 198.2l0.3 -1.7l0.8 0.1M218.7 196.7l0.0 -0.4l1.4 -0.4l0.2 -0.7M87.5 56.7l-1.5 -0.4M234.8 53.6l-0.3 0.2l0.3 0.7l1.2 0.2M124.3 33.6l-0.1 0.5l-0.1 0.5M232.4 259.7l0.2 -0.7l-0.6 -1.6l-1.1 -0.7M58.5 235.3l-0.9 -0.3l-0.2 -0.4l-0.9 -0.1M35.8 143.1l-0.6 -0.2l-0.4 0.6l-1.4 0.5M110.7 96.5l0.2 -0.3l-0.1 -1.7l-0.8 -0.7M116.6 242.7l0.4 0.1M76.3 -4.1l0.4 -0.2l0.2 -1.1M76.3 295.9l0.4 -0.2l0.2 -1.1M273.0 58.8l-0.2 0.5M29.0 121.9l0.4 0.2M38.6 -2.5l-0.7 -1.4M38.6 297.5l-0.7 -1.4M38.6 1.0l0.6 0.5l1.1 -0.1M38.6 301.0l0.6 0.5l1.1 -0.1M112.7 264.7l0.2 -1.8M179.5 268.8l-0.9 0.8M24.0 7.7l-0.0 0.9l-1.3 0.5l0.3 1.3M84.5 95.5l-0.6 -1.1l-1.3 -0.5l-0.5 -1.7M239.2 81.5l-1.3 1.1M248.9 211.3l-0.4 -0.3l-0.5 0.5M82.8 286.4l0.0 -0.4l-0.8 -0.4M210.6 116.2l0.4 0.9l0.4 1.2l0.0 1.2M175.5 197.9l0.5 -0.9M114.3 72.3l-1.0 -0.1l-0.5 1.2M230.5 8.5l0.2 0.7l0.4 0.4l1.0 0.7M241.9 1.6l-0.5 0.4l-1.1 0.1l-1.0 -1.2M241.9 301.6l-0.5 0.4l-1.1 0.1l-1.0 -1.2M245.4 94.8l-1.7 0.2l-0.4 0.3M282.5 122.7l1.8 -0.0l1.0 0.1l-0.0 0.8M111.7 204.6l0.4 0.4l1.5 0.7M227.0 114.2l-0.6 0.6l0.5 0.8M65.2 94.2l1.1 -1.0l1.5 0.9l0.9 0.7M170.9 98.7l-0.7 -0.1M263.4 185.2l0.5 -1.0l-0.3 -0.2l-0.3 0.3M274.6 149.3l-1.3 -0.3l-0.3 -0.2l-0.7 0.0M139.6 293.9l1.0 1.2l-0.1 0.9l-0.7 1.4M34.1 6.3l0.1 -1.7M280.9 161.6l0.1 -0.4l1.3 -1.1M252.2 44.4l0.7 1.2l0.5 0.1M278.5 142.1l-0.5 0.7l-0.1 0.9M8.7 161.1l-0.2 0.4M41.5 260.9l0.9 1.3M180.2 169.4l1.4 -0.0l1.7 0.1l0.3 -1.6M254.0 171.3l1.6 0.7M1.6 82.5l-0.8 0.9l-1.0 -0.8l-0.4 0.1M301.6 82.5l-0.8 0.9l-1.0 -0.8l-0.4 0.1M178.6 194.9l-0.4 0.6l1.2 1.2l0.4 0.2M224.1 79.8l-0.3 0.4M82.6 259.0l1.1 -0.0l0.0 1.1l0.4 0.1M90.3 26.2l-0.4 1.4l-1.3 0.5l-0.4 0.8M81.0 231.7l0.1 0.3l-0.4 0.3l-0.9 -0.6M288.1 119.5l-1.5 0.2l-0.1 -0.4M195.2 42.5l-0.6 -0.2l-1.0 1.5M258.9 142.0l1.7 0.3l0.9 -1.2l0.5 -0.6M181.0 239.1l-1.3 0.2l-0.0 0.4l-1.3 0.2M234.5 117.7l-0.8 -0.8l-0.4 -0.2l-0.2 0.2M129.9 216.0l0.2 0.9l1.1 0.4M149.3 196.5l1.0 0.8M23.5 172.8l-0.6 0.9l-0.9 -0.0M164.3 127.4l1.0 -0.3l0.4 -1.3M255.7 245.6l0.1 -1.8l0.9 -0.3M71.4 123.0l0.8 -0.4l1.2 -0.0M200.9 50.8l0.9 0.8l0.6 1.3l-0.0 1.4M240.2 205.1l-0.3 -0.4l0.2 -1.8M276.0 72.0l-1.2 -1.0M158.1 209.8l0.7 1.6l0.4 0.8l0.8 0.8M12.9 9.7l-0.7 -1.2l-0.9 -0.2l-0.4 -0.3M245.0 118.7l-0.9 -0.6l0.0 -0.6M151.9 123.6l-0.9 -0.2l-0.3 0.1l-0.2 0.6M30.6 70.0l-0.0 -0.9l-0.4 -1.2l-0.8 -0.5M52.7 64.8l-1.2 -0.4M210.1 -4.9l-1.0 0.4l-0.9 -0.7l-0.6 -1.1M210.1 295.1l-1.0 0.4l-0.9 -0.7l-0.6 -1.1M232.5 170.0l-0.3 0.9M55.7 140.4l1.0 -0.3l1.0 -0.1l1.1 -0.8M93.4 58.0l1.3 0.3l1.7 0.0l0.4 1.5M180.0 293.9l-0.7 0.9l-0.2 1.1l0.9 0.4M126.8 63.3l-0.8 0.6M252.7 122.9l-1.0 -0.6M79.9 102.4l-0.9 -0.4M244.2 259.4l0.9 1.2l1.3 -0.3M85.6 -0.6l-0.4 -0.5l0.5 -1.4M85.6 299.4l-0.4 -0.5l0.5 -1.4M290.9 97.9l0.8 -0.1l0.3 0.2M0.4 182.6l1.4 0.3M300.4 182.6l1.4 0.3M112.8 69.1l-0.2 -0.4M56.7 79.2l0.3 0.8l0.5 -0.0M186.5 29.2l-0.1 -0.4M217.2 139.5l1.1 -0.3l0.3 -0.2M220.0 205.3l-1.4 -0.9M241.0 112.0l-0.6 -1.4l0.1 -0.5l0.6 -0.4M257.2 208.6l0.4 0.6M228.8 67.7l-0.0 -0.4l-1.0 -0.8M67.6 171.1l0.5 -0.6l0.2 -0.4M111.0 164.3l-1.1 -1.0l-1.1 -0.1l-0.3 -0.9M242.1 182.0l0.5 0.6l0.8 0.3M122.1 11.6l-0.0 1.0l-0.8 0.9l-1.2 -0.9M-1.4 51.4l1.1 -0.3M298.6 51.4l1.1 -0.3M287.2 275.8l0.3 -0.6l-0.3 -0.3l-1.2 -1.0M133.3 257.7l-0.3 -0.5l0.7 -1.0l1.2 -0.8M83.6 263.6l-0.4 1.7M5.4 20.3l0.3 0.2l1.0 -1.3l1.2 -1.0M305.4 20.3l0.3 0.2l1.0 -1.3l1.2 -1.0M139.4 102.4l-0.6 -1.3l-0.4 -1.0M47.4 80.6l0.7 0.7l0.1 0.4M195.9 228.2l1.3 0.3l-0.1 1.2l-0.9 0.5M185.5 245.5l-1.1 -0.2l-0.7 -0.3l-0.4 -0.7M-4.7 124.4l0.1 -0.4l0.5 -0.9M295.3 124.4l0.1 -0.4l0.5 -0.9M50.3 277.1l0.5 0.8l0.5 1.4M160.6 192.4l-0.9 1.2M99.2 117.6l1.4 -0.4M58.1 46.6l1.1 0.7M236.1 -0.2l-0.3 0.3M236.1 299.8l-0.3 0.3M96.1 105.1l-0.6 -0.5l-1.6 -0.0l-0.1 -1.1M146.0 5.5l-1.3 1.0l-1.3 -0.6l-0.3 -0.0M146.0 305.5l-1.3 1.0l-1.3 -0.6l-0.3 -0.0M98.5 259.0l-1.3 -0.6l-0.1 -0.7M84.3 125.1l-0.5 1.2l-0.8 0.5l-0.4 0.0M175.9 128.9l0.6 -0.6l1.4 0.6l1.4 -0.2M213.2 255.6l-0.1 1.2l-0.4 1.5l0.1 0.4M215.2 100.4l-1.5 -0.9l-0.3 0.5M75.7 114.7l-1.5 -0.8l-0.2 0.2l-0.2 0.6M228.9 86.3l-1.1 -0.9M11.5 253.1l-0.5 -1.0l-0.9 0.3l-1.5 -0.8M243.8 284.2l1.2 0.0M220.9 8.4l-1.3 0.0M95.7 184.6l1.2 0.7M-5.1 59.5l-0.5 -0.7l-0.6 -1.0M294.9 59.5l-0.5 -0.7l-0.6 -1.0M169.8 200.5l0.4 0.6l0.9 0.5M257.7 66.3l1.0 1.0l1.6 0.9M79.7 111.5l-0.8 0.2l-1.2 -1.0l-0.5 -0.4M161.7 178.9l0.3 -0.2M37.1 104.8l-0.5 -0.5M9.5 50.4l0.2 -0.4l0.8 -0.3l0.4 1.0M260.6 264.9l1.6 0.3l1.5 0.2M61.2 159.5l0.9 -1.3l0.1 -0.8M269.0 265.3l-1.0 0.2l-0.8 0.8M143.9 273.5l-0.9 0.1l-0.3 0.4l-0.2 0.5M88.4 16.4l-0.7 0.8l-0.8 -0.2M102.8 37.6l0.1 0.5M256.6 275.4l-1.5 0.5l-1.2 1.2l0.2 1.4M0.2 133.5l-0.5 1.3M300.2 133.5l-0.5 1.3M89.3 119.5l-0.2 -0.4l-0.6 0.3M42.2 283.2l-1.3 0.0l-0.9 -0.8l-0.5 0.1M268.9 14.3l-0.4 -0.1l-1.2 1.0M16.9 194.7l-0.7 1.6l0.4 0.2l1.5 -0.3M128.4 179.9l-0.6 -0.0l-1.0 0.2M221.3 291.1l1.0 -0.7l1.1 0.3M200.1 86.1l-1.3 -0.8M187.3 262.3l-0.1 1.7l0.8 0.9l1.1 0.4M142.0 217.9l1.3 -1.1l0.5 -1.1l-0.3 -0.3M1.7 234.6l-1.1 1.3l-1.5 -0.0M301.7 234.6l-1.1 1.3l-1.5 -0.0M263.9 63.6l0.6 -0.8M232.3 251.1l0.7 1.3M157.0 14.0l0.1 -1.4l0.0 -1.0M94.3 243.6l1.4 -0.6M267.1 128.7l0.4 -1.0M105.8 182.2l-0.0 -1.3l0.2 -0.6M77.6 -0.2l-0.2 -1.3l-1.7 -0.5M77.6 299.8l-0.2 -1.3l-1.7 -0.5M150.9 143.6l1.1 0.1l0.3 0.6l0.4 -0.0M113.6 153.3l0.3 -0.7l1.8 0.0M186.8 109.7l-0.1 -0.6l0.9 -0.4M231.2 266.1l1.6 0.2l0.5 0.9M154.2 99.0l-1.2 -0.7l-0.1 -0.5l0.7 -0.3M287.6 38.6l-1.5 0.2l-1.2 -1.1l-0.6 0.2M222.9 105.3l0.4 -0.7l0.2 -0.8M48.7 50.4l1.0 1.0l0.9 -0.2M201.8 239.1l-0.9 -0.2l0.3 -1.6l-1.0 -1.2M117.7 289.3l1.6 -0.5M146.1 46.8l0.4 -0.1l0.8 -1.5M61.3 269.1l0.2 -1.7M142.3 163.6l1.2 1.1l0.0 1.2l-1.5 0.8M234.0 58.6l0.7 -0.6l1.3 0.4M269.9 110.2l0.1 -1.1l0.1 -1.5M142.7 261.7l-0.9 -1.4M200.2 -4.1l-0.6 -0.6l0.2 -0.3l1.2 -0.9M200.2 295.9l-0.6 -0.6l0.2 -0.3l1.2 -0.9M127.4 16.9l0.2 0.8l0.2 1.3l-0.1 1.4M226.3 152.5l-1.7 -0.1M187.0 221.9l-0.4 -0.0l0.0 -0.6M37.7 238.7l0.6 -0.0M32.1 6.5l-1.0 -0.1l-1.4 0.5l-0.9 -0.4M148.5 232.1l1.1 1.4M151.4 212.0l-1.3 -0.3l-0.4 0.6M89.1 260.9l-0.7 0.8M184.5 35.6l0.8 0.5l0.8 0.4l1.1 -0.8M291.5 26.8l-1.6 0.8l0.3 1.6l1.0 -0.0M96.8 115.5l-0.4 -0.4M289.0 140.4l-0.8 -0.9l0.1 -1.6l-0.2 -0.9M197.9 275.9l0.5 0.0M241.0 121.0l0.3 0.7l-0.4 0.5M76.8 150.5l-0.3 -0.4M125.8 72.8l1.7 0.2l1.6 0.3l0.6 -0.6M59.3 90.9l0.9 0.3l0.3 0.9M0.6 268.1l0.6 -0.1l-0.0 -1.1l-0.4 -0.3M300.6 268.1l0.6 -0.1l-0.0 -1.1l-0.4 -0.3M88.0 167.0l-0.3 1.4l-0.9 1.4M185.1 101.5l-1.3 -0.3l-0.5 -1.4l0.3 -0.2M16.9 72.0l-1.2 -0.0M229.6 263.0l-0.6 -0.5M93.9 276.1l0.7 0.2M97.7 205.9l-1.5 0.7M246.0 291.3l-1.0 0.7l-0.8 0.6l-1.1 1.0M270.5 66.5l-1.6 0.5M23.5 203.2l-1.3 -0.9l-0.3 -0.1l-1.3 0.1M67.7 218.8l-1.6 -0.1M62.1 -3.3l0.4 0.1l1.7 -0.4M62.1 296.7l0.4 0.1l1.7 -0.4M261.4 21.9l-0.1 0.3M60.5 230.9l-1.0 1.1M11.7 233.2l-0.3 1.5l-0.5 1.3M-2.4 55.6l-0.4 -1.4l-1.0 -0.2M297.6 55.6l-0.4 -1.4l-1.0 -0.2M246.7 78.9l0.2 -1.2l-0.1 -0.7M278.8 79.1l-0.2 -0.4l-1.6 0.0M107.0 263.2l-0.2 0.6l-1.1 0.9M128.6 58.8l-0.4 -0.1l-0.3 0.4l-1.4 1.1M242.4 148.5l-0.1 1.7l-0.7 0.7M15.7 254.8l1.1 0.3l0.6 -0.6M229.2 212.9l1.0 0.5l0.4 0.1M185.1 43.6l0.1 -0.4M222.3 256.4l-1.3 0.4l-0.8 -1.5l-0.5 -1.0M245.8 130.8l0.5 -1.5l-0.5 -0.4l-0.6 -0.4M46.9 198.8l1.2 1.2M95.8 235.3l0.4 0.9l0.3 0.4l-1.1 1.0M59.9 206.4l-0.6 -0.5l-1.4 -1.0M46.0 254.1l0.6 -0.5l0.3 -1.1M14.9 44.3l0.4 -0.1l-0.0 -0.8l0.4 -0.3M20.7 194.1l1.4 0.2l0.1 0.9M198.6 154.2l0.0 0.8l0.6 0.4l0.3 0.8M247.6 220.9l-0.3 -0.3l-1.7 0.3M224.9 130.2l0.0 -1.4l-0.3 -1.1l-1.0 -0.4M265.7 220.0l1.0 0.0l0.2 1.6M15.7 105.2l-1.0 0.5l-0.5 -0.1M269.2 254.0l0.3 0.4l0.6 -0.2M166.3 143.5l0.3 -0.8l-0.1 -0.7l-0.3 -0.1M136.4 1.3l0.9 -1.2M136.4 301.3l0.9 -1.2M245.3 203.9l-1.2 0.4l-0.9 -1.3M-2.9 39.8l-1.4 0.8M297.1 39.8l-1.4 0.8M90.9 251.8l-0.6 1.6l-1.4 1.2l-0.4 -0.5M-5.7 0.7l0.5 -0.5l1.2 -0.8M-5.7 300.7l0.5 -0.5l1.2 -0.8M294.3 0.7l0.5 -0.5l1.2 -0.8M294.3 300.7l0.5 -0.5l1.2 -0.8M123.3 235.7l0.1 0.5l-0.1 0.7M166.9 146.7l1.2 0.9l0.0 1.3l-0.9 0.0M261.4 71.2l-1.1 -1.4l0.3 -0.2M244.2 90.5l0.9 -1.0l-0.7 -1.3l0.4 -1.3M-1.2 165.9l-0.1 1.6l-0.1 1.2M298.8 165.9l-0.1 1.6l-0.1 1.2M-5.9 190.6l-0.5 0.9l-0.7 1.0l-0.2 0.5M294.1 190.6l-0.5 0.9l-0.7 1.0l-0.2 0.5M95.1 230.9l0.5 -0.1l0.6 0.1l0.2 0.3M180.5 202.3l-0.5 -0.5l-0.3 -1.3M102.4 70.0l0.7 -1.2l0.0 -1.3l1.1 -0.2M139.8 116.5l1.5 0.3M230.5 31.2l0.9 0.7M144.6 79.3l0.6 -0.5l0.4 -0.5l0.9 -1.5M133.3 260.3l-1.5 0.6M234.2 160.3l0.1 1.0l-0.4 1.7l0.3 0.9M151.5 266.2l-0.7 1.3l0.3 0.4M198.7 142.8l1.6 0.1l1.1 -0.4l0.9 0.8M150.0 188.2l1.8 -0.0l1.6 0.7M72.2 154.0l0.6 -1.2l-0.6 -1.1M184.4 132.6l0.4 -0.9l1.7 -0.5M272.1 186.5l0.4 -0.1l0.9 0.6l1.4 -0.8M94.1 72.9l1.2 -0.2l1.1 -1.0M102.2 22.8l-0.7 0.2l-1.4 -0.0M185.9 267.4l-0.2 -1.2M162.1 7.4l-1.0 0.2l-0.6 0.4M152.5 232.0l0.0 0.5l1.0 0.8l0.8 -0.4M36.9 155.6l-0.1 0.6M104.3 241.4l-0.1 0.7l-0.7 0.6" stroke-width="2.4"/><path d="M212.8 94.9l-1.0 -0.7M63.3 118.0l-0.3 0.6M180.2 125.9l1.3 -0.0l0.5 1.1M186.9 113.2l1.1 0.3l0.8 1.4l-0.7 1.4M-1.0 264.0l-1.3 0.1l-0.5 -0.1l-0.3 -0.3M299.0 264.0l-1.3 0.1l-0.5 -0.1l-0.3 -0.3M50.7 134.9l0.0 0.6M148.3 95.7l-1.0 -0.1l-0.1 -1.2l0.8 -0.9M102.3 208.1l1.4 0.0l0.5 0.9l1.0 1.2M193.9 60.9l1.4 0.9l1.7 0.2M246.0 193.3l0.6 -0.8l-0.2 -0.3l-1.3 -0.5M95.6 273.7l0.1 -0.5l1.0 -0.9M255.8 289.8l-1.4 0.9l0.3 0.5M207.3 21.0l0.9 -0.5l-0.2 -1.5l-0.7 -0.4M256.0 184.9l0.6 -1.1l-1.4 -1.1l-0.4 -0.6M249.6 126.9l-0.1 -0.5l0.3 -0.2M272.9 289.4l0.5 0.2l-0.1 1.3l0.6 0.8M127.4 157.7l-1.2 -0.9l-0.7 0.9l-0.6 0.6M155.1 163.4l-0.7 -0.4M290.4 194.6l-0.1 0.9l-0.9 0.7M19.2 164.3l0.0 -0.5M32.8 55.2l-0.3 0.3M164.9 245.9l-1.2 -0.0l-0.0 -0.5l0.3 -1.0M158.0 156.3l0.2 -1.5l0.4 -1.6M-3.6 196.9l1.3 0.8M296.4 196.9l1.3 0.8M92.4 140.2l-0.5 0.3l-0.9 -0.5M249.1 197.1l0.1 -0.4l-0.4 -1.4M169.9 137.6l-1.2 -0.1l-0.2 -0.3M-3.0 239.3l1.1 1.0M297.0 239.3l1.1 1.0M127.7 153.9l0.9 -0.9M53.3 -3.4l0.3 -0.4l1.1 -0.6M53.3 296.6l0.3 -0.4l1.1 -0.6M79.8 171.2l-0.9 -0.6l0.0 -0.9l-0.6 -0.0M140.7 122.3l0.5 0.5l0.1 0.6l0.0 1.0M96.8 15.9l-0.3 0.4l-0.8 0.6M199.6 259.2l0.2 0.4l0.0 1.2M217.3 92.8l1.4 -0.0l0.4 1.0l-1.0 1.3M260.5 213.3l0.8 1.2M177.1 27.4l-0.3 -0.5l-0.7 -1.2M44.3 136.2l-0.6 0.3l-1.3 0.6M184.8 11.9l-0.9 -0.6l-1.2 0.0l-1.0 0.6M164.9 51.2l-0.6 -1.7l-0.1 -0.8l0.6 -1.6M121.9 116.2l-0.7 -0.2l0.1 -0.3M291.1 88.8l0.3 0.8l1.1 0.6l1.7 -0.1M84.3 47.2l-0.4 0.2l-0.3 0.6M78.6 200.2l0.0 0.5M152.7 91.6l-0.4 0.5l-0.7 1.4M-1.2 164.1l0.2 -1.0l1.6 -0.4l1.2 -0.6M298.8 164.1l0.2 -1.0l1.6 -0.4l1.2 -0.6M289.1 248.0l0.2 -1.4M185.3 148.0l1.0 -1.2l1.1 0.2l0.3 -0.6M100.6 228.6l0.1 -0.3l-1.1 -1.3M54.0 32.9l-0.5 -1.4l-1.0 -1.0M252.8 205.4l-1.2 1.2l-1.3 1.0l-0.6 1.0M19.4 259.5l0.4 1.6l0.3 0.3l-0.6 1.1M237.9 45.3l0.7 0.2l1.5 0.3M53.4 116.7l1.4 0.0l0.9 -0.3M184.8 269.9l0.6 -0.0l0.0 1.3M221.5 108.8l-0.9 -0.3l-0.4 -1.1M213.1 47.0l1.3 -0.0M78.9 33.8l-0.5 -0.2l-0.8 -0.3M14.9 251.3l0.0 -0.8l0.0 -0.4M94.0 145.2l0.6 -0.1M202.0 277.9l0.4 0.7l0.3 0.4M219.5 172.6l-0.8 -0.3M254.0 10.5l0.6 0.1M82.2 151.7l1.0 1.1l1.1 1.1M182.1 162.8l0.7 -0.2l0.8 0.9M31.0 168.6l-0.4 0.7l-0.4 1.3M146.5 166.9l-0.9 0.7M293.2 283.9l-0.8 0.5l0.1 1.6M287.8 5.9l0.4 0.7l-0.4 0.5l-1.2 1.3M287.8 305.9l0.4 0.7l-0.4 0.5l-1.2 1.3M82.5 281.6l-0.4 -0.2l-0.8 0.3M253.9 140.6l-0.6 -1.4l0.7 -0.3l-0.2 -0.6M275.9 7.7l-0.2 -0.3l0.1 -1.3M55.0 208.4l1.5 -0.2M170.0 283.1l1.6 -0.1M224.0 75.5l-1.3 -1.1M78.7 146.6l0.7 0.5l0.5 -0.3M215.5 14.3l0.2 -0.4M250.5 22.1l0.4 0.5M283.3 130.0l-0.9 -0.1l-0.8 0.6l-1.2 0.7M139.1 269.6l0.2 1.0M64.7 135.3l-0.1 -1.1l0.9 -1.3M29.8 190.5l1.2 1.1M17.6 10.8l-0.9 -1.1M248.5 43.9l-0.3 0.1l-1.5 0.6M141.8 11.7l0.9 0.4M59.1 101.6l0.2 -0.5l-1.4 -1.0l-1.1 -0.1M101.4 0.6l0.8 -0.5M101.4 300.6l0.8 -0.5M-0.8 98.5l0.9 0.8l1.6 -0.6l0.2 -0.3M299.2 98.5l0.9 0.8l1.6 -0.6l0.2 -0.3M87.7 110.8l1.0 -0.5l0.5 -0.5M201.8 47.3l-1.6 0.5l-0.3 -0.3M264.4 20.5l1.0 0.7l0.5 -0.0M32.2 40.6l0.2 0.6l-0.6 0.8M13.2 116.2l0.8 -0.2M292.8 215.1l-1.0 0.2l-1.7 -0.3M223.3 230.2l1.6 0.1M82.2 157.6l-1.7 -0.1M68.3 66.4l-0.5 0.0M191.0 258.5l-0.5 1.7l0.4 0.2l1.3 -1.1M255.7 231.8l0.2 -0.3M127.4 239.9l-0.9 1.4M8.5 211.0l0.2 -0.3l-0.8 -0.8l0.2 -0.8M293.6 176.8l-0.0 -0.4l1.1 -0.1l0.8 0.2M105.2 285.8l-1.2 1.0l-1.2 0.7l-0.6 -0.7M175.0 291.4l-0.1 1.2l1.3 0.9M-4.1 4.7l0.7 0.5l0.3 -0.2l-0.2 -0.5M-4.1 304.7l0.7 0.5l0.3 -0.2l-0.2 -0.5M295.9 4.7l0.7 0.5l0.3 -0.2l-0.2 -0.5M295.9 304.7l0.7 0.5l0.3 -0.2l-0.2 -0.5M60.2 147.9l-0.4 -0.8M193.6 30.2l0.1 1.1l-0.1 0.3M221.3 45.9l1.0 1.0l-0.3 0.8M232.8 206.8l-1.7 -0.4l-0.7 0.9M123.6 177.4l0.6 1.0M287.1 134.3l-0.8 0.3l0.1 0.6M13.8 88.3l-0.9 -0.7l-1.4 0.5M194.8 249.7l0.0 -0.5M283.0 273.8l-0.4 0.9l-0.4 1.1M35.2 185.4l0.3 0.6l-0.3 1.1M127.5 173.5l0.6 -0.3l0.7 0.2M87.7 149.1l-0.1 0.8M292.1 219.8l1.1 0.6M35.1 36.0l-0.9 0.4M254.1 96.6l-0.4 -0.8l-0.6 -1.1l-0.5 -0.8M170.7 8.2l0.4 0.1l1.5 -0.6l-0.2 -0.7M264.1 289.8l-0.6 -0.7M287.4 87.4l0.9 -1.2M110.5 12.4l0.3 -0.7l-0.3 -0.3l0.6 -0.8M212.5 153.9l0.7 1.6l-0.5 0.3M90.8 293.8l-1.3 -0.3M160.1 232.8l-1.3 1.0l-0.5 -0.1M37.7 273.6l-1.6 0.3M39.0 203.4l0.3 0.6M11.5 248.1l0.4 -0.5l0.5 0.1M222.7 41.0l-0.1 -0.9l1.6 -0.6M133.7 149.2l0.6 0.1l-0.3 1.5l-0.4 0.5M189.1 24.2l-0.2 -1.7l-0.5 -1.1M215.8 117.5l0.2 -0.7M136.9 210.2l-1.0 0.9l0.4 0.7l-0.0 0.6M36.1 115.0l-0.6 -0.5l-0.1 -1.7M281.7 70.9l-0.6 -0.4M179.6 100.9l0.9 0.3l0.8 0.7M212.3 73.5l0.8 -0.3M236.6 249.6l0.1 -1.0M73.1 251.3l1.5 0.0l0.0 1.4M32.2 202.7l-0.3 0.6M231.9 36.4l0.3 0.3l-0.3 0.3l0.5 1.1M104.7 231.9l0.3 0.7l-0.8 0.4M289.2 228.2l-0.2 -0.9l-0.5 -1.6l-1.5 -0.6M152.7 26.6l1.1 0.6l-0.4 1.6l1.7 0.4M286.4 234.6l-0.9 -1.0M121.5 47.3l-0.6 -0.8l-1.2 -0.9M219.5 160.5l-0.4 0.2M55.7 240.4l0.3 -0.6l0.3 -0.0l0.8 0.3M62.2 217.9l0.3 1.0l0.3 1.7l0.4 0.2M14.6 172.0l0.0 1.1M259.5 224.8l0.6 -0.1l0.5 -1.0l0.5 -1.5M195.5 255.6l0.8 -0.7M272.8 111.3l1.4 0.0l0.7 0.1M124.2 103.2l0.8 1.2l1.1 -0.2l0.1 0.6M4.4 3.8l0.9 1.3l-0.5 0.8M4.4 303.8l0.9 1.3l-0.5 0.8M304.4 3.8l0.9 1.3l-0.5 0.8M304.4 303.8l0.9 1.3l-0.5 0.8M122.8 244.2l-0.5 0.7l0.7 0.5l1.4 0.8M0.1 11.6l-0.3 1.4l-0.0 1.0l-1.0 1.4M300.1 11.6l-0.3 1.4l-0.0 1.0l-1.0 1.4M81.1 72.5l-0.8 0.4l-0.4 -0.6l-0.5 -0.6M37.4 170.9l-0.2 -0.8l0.4 -0.8l0.5 -1.4M155.1 70.5l0.6 -0.5l-0.2 -0.8M105.5 259.5l-1.4 -0.8l-1.3 0.5l-1.2 -0.3M87.2 273.1l0.1 1.3l1.1 0.3M136.4 155.7l-0.1 1.3M43.4 150.8l0.7 -0.1l0.1 0.4M15.2 4.5l0.1 0.3M15.2 304.5l0.1 0.3M181.7 28.3l0.0 0.5l-0.4 1.6M123.7 189.8l-1.8 0.1l-1.4 -0.5M280.4 2.5l0.5 1.2l0.6 -0.1M280.4 302.5l0.5 1.2l0.6 -0.1M52.9 127.9l1.4 0.4l1.2 0.3l0.2 0.3M224.6 17.0l-0.5 0.0l-0.9 -1.0M31.3 159.2l-1.5 -0.5l-0.8 -0.9l-1.5 -0.0M261.2 154.1l1.2 1.1l-0.5 0.8l-1.2 0.7M147.8 70.9l0.4 0.7l-0.9 1.3l-0.6 0.2M265.7 194.0l0.4 -0.5l0.5 -1.2l1.5 -0.6M39.1 249.0l-0.1 -1.5l0.6 -0.7l0.0 -1.7M198.3 269.6l-0.6 -0.1l-0.3 0.3l0.8 1.2M12.8 -0.0l0.4 -0.0M12.8 300.0l0.4 -0.0M211.8 12.0l-1.4 0.4l-0.7 1.4l-1.3 0.0M117.4 94.4l1.2 -0.7l1.1 -1.1l1.1 0.0M172.1 145.2l0.2 0.8l-1.5 0.4M10.1 115.1l-0.1 -1.7l0.2 -0.5l-0.4 -1.6M85.8 143.5l0.4 1.1l1.3 0.4l1.7 -0.2M136.8 29.8l-0.9 -0.8M126.5 90.9l0.7 -1.1l0.1 -0.4l0.7 0.1M13.0 133.4l0.6 -1.6l1.1 -0.3l0.2 -1.8M265.4 124.2l-0.4 -0.4M68.4 211.5l-1.0 -0.1l-0.3 -1.7M127.2 258.7l1.2 -0.1l0.4 0.6M82.3 206.6l-1.3 -0.1M182.8 118.4l-1.8 0.1l-0.0 1.2l0.2 0.7M171.7 67.2l0.2 -1.0l0.9 -1.4l-0.2 -0.3M72.1 90.5l-0.5 -0.2l-1.7 -0.1M208.9 23.9l0.4 0.9l0.7 0.5l0.4 -0.0M252.6 16.8l-0.5 1.7l0.2 0.3l-0.2 0.5M266.9 83.4l0.7 -1.4l1.1 -0.8l-0.1 -1.5M40.7 143.2l-0.2 -1.3l-1.0 -0.1l-0.7 -1.3M56.2 269.0l0.7 1.5M131.0 249.0l-1.3 0.2l-1.5 -0.9M113.7 252.2l0.3 -0.3M238.6 242.7l-0.2 0.9M71.8 231.4l0.6 -0.3l0.4 -0.5l1.2 0.6M212.9 199.1l0.8 -0.8M94.5 249.1l-1.0 0.4l-0.6 -0.2l-0.3 -1.5M147.4 -5.8l-0.4 0.6l0.3 0.3M147.4 294.2l-0.4 0.6l0.3 0.3M52.6 201.0l0.3 0.4l-0.6 1.0M173.3 139.0l0.0 0.4M284.1 244.9l-0.2 1.3M110.8 139.1l-0.3 -0.3M200.5 254.9l0.1 -1.5l1.0 -1.4M107.8 36.8l0.3 0.5M132.5 212.4l1.1 0.6l-0.2 0.6l0.5 1.0M203.9 211.5l-0.9 1.4l-0.0 0.9M149.7 19.8l-0.0 -1.6l-0.2 -0.4M230.6 27.2l-0.6 -1.2M22.3 95.8l0.3 -1.6M115.0 47.0l1.4 -0.1M275.7 85.2l0.4 0.1l0.4 -0.6M146.8 65.0l0.2 0.6M151.5 262.1l0.6 0.9l-0.5 0.7M1.3 275.8l0.5 0.3M301.3 275.8l0.5 0.3M196.6 143.8l0.2 1.0l-0.7 0.2l-0.4 -1.4M150.4 217.5l-0.4 -0.6M234.8 215.5l-0.6 -0.5M167.9 113.6l-0.5 -0.5l-0.2 -0.7M37.8 14.2l-0.5 1.3M230.1 47.2l0.9 1.1M190.0 203.9l-0.6 -0.2l-0.8 0.3M91.2 87.3l0.6 0.2l1.4 -0.3l0.6 -1.6M222.7 98.5l0.5 0.2M66.4 174.5l-0.4 1.7l-0.0 0.9l-1.4 0.6M143.8 89.8l0.9 0.4M283.7 61.5l0.4 0.9l0.7 1.0l1.5 0.5M159.3 165.9l1.0 1.1M20.9 110.1l-0.4 -0.2M31.7 183.5l-0.4 -0.5M208.7 9.1l0.3 -1.5l0.3 -0.0M57.1 225.7l-0.6 -1.1l-0.3 -0.6M35.9 51.2l-0.5 -0.1M258.2 132.4l-0.7 -0.7M34.1 86.0l0.2 0.3l0.3 -0.2l-0.0 -1.1M87.1 132.6l-1.8 0.1M146.7 140.7l0.7 -0.3M-3.9 272.8l0.5 0.0l1.4 0.9l0.5 1.4M296.1 272.8l0.5 0.0l1.4 0.9l0.5 1.4M154.8 186.4l0.0 -0.5l0.5 -1.7l-0.2 -0.5M20.3 128.3l-0.8 -0.0M192.4 141.5l0.1 -0.6l0.4 -0.1M91.5 113.9l0.1 0.5l0.4 0.5M205.0 194.0l-0.8 -0.2l-0.3 0.4M192.1 60.5l-0.3 -0.8l-0.2 -0.4l0.3 -0.4M262.4 282.0l-0.4 1.1M231.8 42.2l0.4 0.2M89.2 106.4l0.4 0.2l1.2 0.1M243.7 69.9l-0.2 -0.4M241.5 105.2l0.6 0.9l0.4 -0.1M77.5 70.2l-1.4 0.6l-0.6 -0.4l0.5 -1.1M228.3 131.6l-1.0 1.1M252.1 146.1l-0.2 1.1l0.4 0.3M101.4 139.9l1.2 0.2l0.4 -0.1M64.4 43.2l-0.4 -0.1l-0.4 -0.4M281.3 57.6l-0.1 -1.4l-1.3 -0.8M104.2 125.0l-1.1 1.2l-1.1 0.3M190.9 54.4l-1.0 0.4l-0.4 -0.6M272.2 161.3l-0.7 -1.3l0.4 -0.6l1.2 -0.3M266.1 179.4l1.0 -0.5l0.6 0.3M198.0 290.9l0.4 -0.2l0.2 -0.7M286.4 258.5l-0.8 -0.5M90.2 -0.0l1.2 0.3l0.4 -1.4l-0.6 -0.3M90.2 300.0l1.2 0.3l0.4 -1.4l-0.6 -0.3M7.3 9.4l-0.1 -1.1l-1.7 -0.3M282.7 145.0l1.3 0.6l-0.3 0.7M122.9 98.0l1.0 -0.7l0.0 -0.6l-0.5 -0.3M51.3 82.0l0.3 -1.4l-0.1 -1.3M255.5 126.7l-1.4 -0.3l-0.7 0.8M7.1 286.5l0.0 -1.5M260.5 102.7l-0.0 -0.6l-0.1 -0.9l-1.6 -0.3M31.2 21.7l0.3 1.4l0.7 0.2M70.9 52.7l0.1 -1.6l-0.8 -0.7M59.4 196.8l-0.2 -0.3M282.4 230.5l0.4 -0.9l1.3 -0.3M124.3 201.7l0.9 -0.2l1.7 0.1M191.5 219.5l0.5 1.3l1.0 0.2l0.6 0.6M36.5 61.4l0.3 0.2M206.1 134.1l-0.4 -0.7l-0.6 -0.7l-1.3 -1.0M100.5 209.2l-1.4 -0.6l-0.8 1.3l-1.2 0.3M28.0 269.5l-0.4 -0.2l-1.7 0.2M163.2 211.9l0.0 0.8M243.5 266.4l-0.9 -0.9l1.0 -1.2M19.9 6.0l0.1 -1.0M61.1 107.4l-1.0 -0.7l-0.9 0.4l-0.9 -0.4M141.8 256.0l-1.2 0.6l-0.2 0.7M267.2 188.2l-0.1 -0.8l-1.2 -0.2M28.9 92.1l-0.6 -1.6M25.9 113.2l-1.3 -0.5M183.1 114.1l0.1 1.7M67.3 203.6l-0.3 -0.3l-0.7 -1.4l-0.5 -1.2M211.8 108.7l-0.0 0.6l-1.2 0.4M227.3 107.5l-0.1 0.5l0.4 0.6M252.6 197.5l1.4 -0.8l1.8 0.3l0.3 -0.2M50.3 34.6l-1.4 -0.7M108.5 126.4l-0.7 -1.6l-1.1 -0.8M238.4 112.8l-1.4 0.5l-0.2 1.7M122.9 226.2l-0.6 -0.2l-1.0 -0.8M54.7 230.6l0.9 -1.1l0.0 -1.1l0.2 -0.4M170.3 139.7l0.9 1.5l0.1 1.5l-0.7 0.6M67.8 236.6l-0.5 0.3M115.5 257.8l0.6 0.9l0.2 0.6M166.2 8.4l-1.4 -0.0l-0.6 -0.8M251.7 40.0l-0.1 1.2l-0.6 0.1M152.0 68.1l-0.5 -1.0l-0.9 0.0l-0.5 0.4M175.9 -2.3l0.0 0.6M175.9 297.7l0.0 0.6M9.9 93.5l0.1 0.8l-0.8 1.1M119.3 40.7l-0.5 1.0l0.5 0.6l1.5 -0.6M43.0 156.5l-0.3 -0.1l-0.4 -0.1l-0.9 -0.3M232.6 272.8l1.1 0.2M46.2 30.7l0.2 0.8M108.4 133.4l-0.9 0.1l-0.6 -0.2M58.8 21.7l-0.4 0.5l-1.0 0.5l-0.5 1.2M226.8 -4.4l-0.3 1.1l-1.1 0.6l-0.4 0.2M226.8 295.6l-0.3 1.1l-1.1 0.6l-0.4 0.2M218.2 32.6l0.3 -0.3M156.8 134.4l-0.3 -0.5l-0.5 -0.7M161.5 264.0l0.3 -1.1M93.7 41.9l0.3 0.5l-0.4 0.5M280.8 282.1l-0.3 -1.2M149.0 3.3l-1.2 -0.6l-0.8 -1.0M149.0 303.3l-1.2 -0.6l-0.8 -1.0M259.1 285.1l-0.9 -1.4l-0.1 -0.4M45.9 108.1l0.9 0.8l0.3 0.3M27.5 179.2l-0.5 0.1l-0.1 1.1M201.0 203.9l-0.9 0.1l-0.3 0.1M35.8 200.7l-0.2 -0.6l0.7 -1.6l1.4 -0.5M11.5 28.4l-0.4 -0.2l-0.7 0.6l-1.4 0.5M149.2 81.7l-0.8 -0.2l-0.2 -0.3l0.6 -0.9M292.7 48.7l-1.0 -0.6l-1.6 0.5M43.4 207.6l1.6 0.3l0.4 -0.1l0.3 0.5M293.9 70.2l1.5 0.4l-0.0 1.3M202.4 79.5l-0.8 0.4l-1.5 1.1M31.8 118.3l0.4 0.5l-0.7 0.5M65.2 149.7l-0.8 -0.4M188.8 254.9l-1.0 0.6l-0.1 1.0l-0.9 0.7M27.6 209.0l-0.5 -1.3l0.3 -0.8M160.1 125.2l0.8 -0.5l1.1 -0.2l0.6 0.1M25.5 5.0l1.2 0.8l-0.4 0.7M25.5 305.0l1.2 0.8l-0.4 0.7M242.5 99.7l-0.5 0.0l-0.7 -1.5M42.2 234.2l0.7 0.0l0.9 0.1l1.2 -0.1M254.9 235.2l-1.7 0.4l-0.5 -0.1M127.9 263.0l-0.1 0.9M276.6 158.6l-0.3 -0.4M13.2 175.0l-1.3 0.8l-1.5 -0.7l-1.0 1.0M190.9 282.1l-1.0 0.8l-1.0 -0.2M152.0 24.8l0.4 -0.8l-0.8 -1.2M0.9 127.5l0.4 -0.9M300.9 127.5l0.4 -0.9M127.7 26.6l1.3 0.2l-0.1 1.2l1.3 0.9M164.6 174.9l0.4 -0.1l1.5 0.3M259.3 227.1l-0.6 1.1l0.9 1.3M62.2 67.8l0.6 -0.6M102.3 98.5l1.5 -0.0M165.1 80.3l0.5 0.8l1.5 0.1M63.2 287.8l-1.5 -0.5l-1.6 0.6M240.3 175.5l0.3 0.5l0.9 0.6M31.2 50.8l-0.2 0.3l-0.8 0.8M20.4 24.9l0.1 0.6l-0.7 0.5M23.1 215.6l1.5 0.4M63.6 162.3l-1.0 0.8M106.0 110.9l-0.4 0.7M47.9 225.8l-0.1 0.5M283.0 204.1l-1.0 0.6M118.7 274.0l0.9 -0.5M103.4 121.0l-0.6 1.1l-0.4 -0.2M123.0 281.0l1.2 -0.8M117.8 7.6l-0.3 0.2l0.0 0.3l1.2 0.5M264.5 99.9l-0.9 -0.7l-1.4 -0.7l0.4 -1.3M262.1 195.4l-0.1 -1.4l1.3 -0.1M69.9 80.5l-0.5 -1.1l0.3 -0.3M31.0 128.3l0.2 1.2l-0.2 1.7l1.3 0.8M287.4 -2.6l0.3 0.2l0.7 0.2l1.2 -0.0M287.4 297.4l0.3 0.2l0.7 0.2l1.2 -0.0M61.4 144.1l0.3 -0.7M121.2 132.4l-0.2 -0.3l0.6 -0.5l1.5 0.0M39.5 227.1l0.3 -1.4l0.3 0.0l0.1 -0.3M78.1 8.2l-0.3 -0.1l-0.7 -1.1l-1.0 -0.1M-1.7 269.5l-0.4 0.6l-1.3 -0.7l-0.4 -0.4M298.3 269.5l-0.4 0.6l-1.3 -0.7l-0.4 -0.4M204.0 29.4l-0.5 0.2l-1.1 0.8" stroke-width="2.5"/><path d="M156.4 193.3l-1.3 -0.8l0.1 -1.6M12.3 287.5l-0.4 0.2l-0.6 1.5l-0.3 1.0M191.3 145.2l-0.9 -1.0M60.6 127.6l-0.5 1.4l-0.7 0.4l-0.9 1.6M275.1 263.8l-1.6 0.6M65.9 123.0l-0.4 1.4l-1.6 0.6l-1.3 0.3M-6.0 135.7l1.2 0.0M294.0 135.7l1.2 0.0M9.3 262.6l0.1 -1.2l0.2 -0.3M113.0 171.5l0.1 -1.7M154.1 216.1l0.8 0.5l0.5 0.6l0.5 0.8M143.0 94.4l-0.0 0.9l0.2 0.3l-0.3 0.5M69.9 222.9l0.1 -0.3l-0.4 -1.0M205.8 55.8l-0.1 0.5l-0.3 0.3l0.2 0.9M18.2 285.9l0.7 -0.9M59.5 113.9l-0.5 -1.5l-1.3 -1.0M23.2 180.8l-0.9 -1.1l-0.2 -1.1l0.4 -0.9M168.7 84.3l-0.1 0.6l-0.9 0.9M24.3 169.6l1.2 -0.8M207.5 84.5l0.8 -0.6l0.9 0.7l-0.3 0.6M42.1 223.7l0.6 -0.2l0.8 -0.6l0.8 1.0M100.1 289.9l1.0 -0.3l1.0 0.5l0.5 0.9M67.2 54.8l0.7 0.8l-0.7 0.6M284.2 240.0l0.1 0.9M124.3 274.9l1.6 0.2M68.0 47.9l-0.4 -0.1l0.2 -1.4M270.8 165.1l0.1 -1.3M74.0 171.5l-1.1 0.4l0.5 1.3l-0.6 1.1M43.0 271.2l-1.6 -0.3l-1.3 0.4l-1.7 -0.1M87.0 268.9l-0.8 0.3M43.3 288.3l0.2 -0.9M146.3 -1.0l-1.1 -1.3M146.3 299.0l-1.1 -1.3M107.4 175.6l-0.8 0.0M142.8 62.7l-0.1 -1.7l-0.8 -0.4l-1.2 0.5M192.0 27.5l0.0 -0.4l-0.1 -0.5M76.8 239.4l-0.4 1.3l-1.4 0.8l-1.2 1.1M197.1 235.0l0.8 -0.3M236.8 70.0l0.5 0.9l0.1 1.1l0.7 0.8M207.1 249.1l0.2 0.3M-0.7 229.6l-0.9 -1.3M299.3 229.6l-0.9 -1.3M194.9 17.1l-0.2 0.4l0.3 0.6M45.9 280.3l0.7 0.4l-0.4 0.9M230.4 216.3l-0.7 1.5l-0.7 -0.0M24.7 263.6l1.1 0.6l-0.5 1.5M93.3 127.3l0.2 -0.4l0.6 0.3M217.5 200.0l0.3 -0.3M64.3 11.7l-0.2 0.5l1.0 0.5M70.4 188.3l0.2 1.1l-0.2 1.7M97.2 75.9l1.0 0.3M211.7 187.8l0.2 -0.3l0.5 -1.6M291.0 41.1l0.8 -0.4l-0.5 -1.5M67.3 115.8l0.4 0.0l0.2 1.4l1.3 0.0M32.1 -3.1l0.9 -1.3M32.1 296.9l0.9 -1.3M103.0 94.5l-0.7 -0.5l-1.5 0.7M173.2 86.0l0.7 -1.1l0.4 -0.0M269.5 285.6l0.4 -0.8l-0.7 -0.7M62.2 111.9l0.6 -1.4l0.6 -0.4M99.3 147.7l-0.3 -1.5l-1.1 -0.5M225.3 175.1l0.2 -1.6l0.7 -0.7M34.7 93.9l0.5 -0.3l1.1 -1.4M208.3 69.6l0.9 -0.5l0.9 1.4M17.9 247.7l1.0 0.0l0.4 0.5l1.3 -0.9M207.8 108.5l-0.7 0.0l-0.3 0.4l-1.2 1.0M144.8 81.7l1.4 0.1M233.2 77.8l-0.4 -0.0l-0.9 0.4M-1.2 18.8l1.3 0.3l1.1 1.3l0.5 1.5M298.8 18.8l1.3 0.3l1.1 1.3l0.5 1.5M155.9 101.7l1.2 -1.0l1.0 -1.0l1.6 -0.2M229.5 72.6l-0.2 0.4l-0.7 1.1M150.7 49.1l0.2 -0.9l0.6 -1.1M282.8 292.8l0.8 1.0M240.6 -5.6l0.3 -0.9l0.5 -0.7M240.6 294.4l0.3 -0.9l0.5 -0.7M230.5 236.4l0.2 -1.7M129.2 31.6l0.5 0.6l0.6 0.0M201.6 222.0l-0.5 0.5M4.2 124.2l0.3 0.5l1.3 0.8M304.2 124.2l0.3 0.5l1.3 0.8M176.3 214.2l0.4 -1.3l0.4 -0.0l0.8 0.2M258.8 20.0l-0.3 -1.0l-0.2 -0.4l0.1 -1.1M235.8 267.9l1.5 -0.3M178.4 175.1l0.0 -0.9l-0.7 -0.8l-1.0 0.8M193.3 49.3l-0.1 1.0l-0.5 1.1l-1.7 0.2M163.2 281.2l-0.9 0.7l-0.4 0.8M146.2 119.4l-0.7 -0.1l-0.6 -0.2l-0.8 0.4M100.5 41.2l-0.8 1.4l-0.5 1.5l1.3 1.0M36.0 30.0l0.4 -1.4l-1.0 -1.0l-0.4 -0.4M239.5 277.2l-0.4 -1.2l0.4 -0.4M265.2 105.8l-0.9 0.5l-1.6 -0.1l-1.2 -0.4M190.5 241.1l0.8 -0.3l0.6 -0.4l0.9 -0.0M159.8 174.0l-0.2 0.7l0.3 0.3M73.8 218.9l-0.3 0.9M102.1 31.4l-1.2 -0.3M201.7 199.0l0.6 -0.4l0.6 0.1l0.7 1.3M47.2 171.3l-0.7 -1.0l1.0 -1.3M184.6 197.8l0.5 -0.9M142.1 34.6l1.0 0.1l0.7 -0.6M42.3 40.8l-0.4 0.3l-1.6 -0.8l-0.5 -0.9M136.6 19.3l1.7 -0.1l0.3 -0.0l-0.0 -0.7M62.6 62.0l-1.2 -1.1M166.8 70.2l-0.6 0.5l-1.5 0.7M156.7 107.1l1.7 -0.3M87.4 201.0l-0.8 -0.5l0.3 -1.2l-0.9 -0.4M253.3 72.0l1.1 0.9l-0.1 0.6l-0.5 1.0M46.5 115.2l0.3 0.8M227.6 144.9l0.6 0.2l1.2 -0.9l0.7 -1.6M123.4 54.7l-0.7 -0.6l0.9 -1.4M152.3 138.8l0.1 -1.5l0.3 -0.2M227.0 50.5l1.7 0.1M50.7 42.9l1.1 -0.1M89.2 188.8l-1.1 -0.2l-1.7 0.3l-1.0 -1.0M261.7 231.9l0.4 0.8M-1.0 216.5l0.1 -1.4l-0.7 -1.5l-0.7 -1.5M299.0 216.5l0.1 -1.4l-0.7 -1.5l-0.7 -1.5M283.7 21.2l-0.3 -1.5M168.1 214.2l-1.3 -0.5l-0.7 0.9l-0.9 -0.2M261.7 253.5l0.6 0.8l0.8 0.3l-0.1 0.9M254.5 227.4l1.5 -0.6M110.5 223.7l0.3 -0.4M164.7 182.7l-1.2 0.3M35.1 137.9l-0.3 0.3l-1.8 0.1l-0.2 -0.9M267.6 164.6l-0.4 0.1l-0.7 -0.9l-1.5 -0.6M93.7 81.5l1.2 0.1l0.7 0.3l0.8 -0.5M11.4 62.5l0.1 1.3l0.7 1.5l-0.2 1.1M126.4 266.6l-0.4 0.7M49.5 221.9l1.3 -0.2M150.7 150.5l-0.7 -1.3l0.4 -1.0M278.4 242.9l-0.1 1.0l0.2 1.4M68.1 -3.4l0.8 0.2l0.7 1.6l0.8 0.4M68.1 296.6l0.8 0.2l0.7 1.6l0.8 0.4M234.3 33.4l0.4 -0.1M241.0 287.8l1.7 -0.5M108.0 30.4l-0.5 0.2l-0.6 -0.2l-1.1 -1.3M48.0 211.1l0.3 -0.3l1.4 0.6M212.3 280.1l1.0 -0.9l1.0 -0.2M129.2 220.0l0.8 1.2l-0.5 0.5M261.8 292.8l-0.9 0.5l-0.8 -0.4M45.0 76.1l1.5 0.8M162.5 96.1l0.2 0.6l-1.1 0.6M235.2 224.2l1.4 0.4l0.4 1.5M53.1 271.7l0.7 1.1M24.3 1.5l0.7 -0.6l-0.5 -0.7M24.3 301.5l0.7 -0.6l-0.5 -0.7M15.4 162.1l-0.1 -0.5l-1.4 -0.9M105.8 18.3l0.7 -0.4M84.3 250.8l0.0 0.8l0.4 1.5M150.3 201.1l-0.2 0.4M74.8 79.3l-0.9 -0.3l0.0 -1.0l-0.6 -1.5M250.7 246.9l-0.2 0.9l-0.4 0.8l-0.5 1.6M36.8 161.5l0.5 -0.6l-0.0 -0.4l1.2 -1.2M251.0 34.7l0.8 0.8l0.4 1.0M68.0 152.8l-0.5 -0.3l-0.3 0.5l0.5 1.7M170.5 12.3l-1.3 0.5M250.8 92.2l-1.5 -0.0l-0.9 1.2l-0.3 0.8M212.0 215.4l0.9 0.0M171.1 204.0l-1.3 1.2l0.1 1.5l0.7 -0.0M102.2 190.0l-0.2 0.8l0.8 0.5M112.8 198.9l1.4 0.1M-0.7 41.1l1.6 -0.7l0.4 -1.4M299.3 41.1l1.6 -0.7l0.4 -1.4M-4.4 127.1l1.3 0.6l-0.1 1.6l-0.9 0.4M295.6 127.1l1.3 0.6l-0.1 1.6l-0.9 0.4M196.2 84.8l-0.3 -0.4l-0.7 -0.1l-0.6 -0.4M15.5 136.2l-0.0 -0.4M60.4 252.8l0.1 0.6M151.3 258.8l1.2 0.2l1.2 0.9l1.4 -1.1M91.2 70.4l0.7 0.3M285.4 114.6l-0.7 -0.5M182.2 283.6l-0.6 0.3l-0.3 -0.2M41.5 65.8l0.5 -0.4l0.2 -0.7M244.7 174.9l0.2 0.2M33.1 124.9l-0.3 0.5l0.3 1.7l1.0 1.0M145.8 172.5l-0.9 0.7M265.9 108.7l-0.2 1.0l0.7 1.0M93.9 -4.7l0.8 1.2l0.8 -0.3M93.9 295.3l0.8 1.2l0.8 -0.3M71.9 117.9l0.7 0.5M135.1 201.2l0.9 -0.4l1.0 -0.5l-0.5 -1.6M226.4 158.2l-1.7 0.2l0.1 0.9M101.5 11.7l-0.2 -1.0l-0.0 -0.5l-0.5 -1.6M144.5 256.7l0.8 0.3l1.0 -0.8l0.9 0.9M33.4 241.0l1.5 -0.3M118.3 159.5l-0.5 1.1M217.1 61.5l-1.3 1.1l-0.6 0.4l-0.1 0.8M186.8 2.2l0.7 0.5M186.8 302.2l0.7 0.5M142.5 99.6l0.4 -0.1M107.3 243.2l-0.1 1.4M132.1 56.1l-1.7 -0.3M75.2 153.9l0.8 1.2M24.6 45.9l0.8 1.2l0.5 1.7M14.3 284.4l-1.2 -1.0l-0.6 0.6l-0.9 -0.6M286.1 106.6l-0.1 0.4l-0.6 0.5l-0.7 0.7M17.8 81.4l-1.6 0.1l-1.1 -0.5l-1.2 0.5M121.3 51.5l0.1 -0.4l-0.2 -1.5M270.2 174.6l-0.3 -0.9l-1.3 -0.9M153.7 248.6l1.0 1.2l0.4 -0.1l0.1 0.5M293.9 245.2l-0.7 -0.9l-0.1 -1.3l-0.5 -1.4M145.9 136.0l0.3 -0.0M60.9 39.4l-0.4 -0.2M3.8 194.7l-0.9 0.8l-1.3 -0.4M303.8 194.7l-0.9 0.8l-1.3 -0.4M190.2 90.6l1.1 0.0M228.0 271.6l-0.4 0.4l0.1 1.7l-0.5 1.1M170.3 171.8l-0.3 -0.2M278.6 195.2l-0.6 0.8l0.6 1.0l0.3 0.3M60.5 96.6l0.6 -0.0M69.5 100.0l1.0 1.0M157.8 238.6l-0.2 -0.5M278.9 285.0l-0.5 1.6M197.6 36.0l0.7 -0.6M183.9 205.7l-0.0 -0.5l-0.6 0.0l-1.0 -0.9M100.4 151.7l-1.2 -1.3M93.2 170.9l-0.7 0.7l-0.7 0.3M37.3 266.9l0.5 -0.7M273.4 285.9l0.6 0.9l1.0 -0.2M292.2 53.7l0.1 -0.3l0.5 0.2l0.9 -0.5M10.7 157.0l0.8 0.3l1.1 0.4M-4.1 26.3l0.1 -0.8l0.5 -0.9M295.9 26.3l0.1 -0.8l0.5 -0.9M222.4 150.5l-0.7 -0.8l-1.6 -0.7M1.4 131.0l0.2 -0.6l1.6 0.0l0.1 -0.3M301.4 131.0l0.2 -0.6l1.6 0.0l0.1 -0.3M213.8 111.6l0.5 0.5l1.1 1.1l0.2 1.2M186.1 69.2l-0.9 -0.4l-0.9 -0.2l-1.1 -0.3M257.1 259.4l0.1 -0.4l-1.2 -0.9l-1.0 -0.7M203.3 170.1l-1.1 -0.9l-0.6 -0.9M191.3 2.7l-0.8 -0.4l0.3 -0.8l1.5 -0.3M191.3 302.7l-0.8 -0.4l0.3 -0.8l1.5 -0.3M249.8 279.4l1.4 -0.1M176.8 192.1l0.6 -1.3l0.5 0.0l1.0 -0.5M195.9 103.4l-0.6 1.6M217.4 123.7l-1.1 0.5M114.7 -3.3l-1.1 -0.4M114.7 296.7l-1.1 -0.4M30.1 112.3l-0.4 0.4M36.3 227.8l0.1 0.4l-0.5 0.4M148.1 189.3l-0.1 1.2M12.5 217.9l0.4 -0.5M172.3 166.3l-0.7 -0.5M228.0 126.5l-0.0 1.3M18.6 215.7l1.2 -1.0l0.4 -0.2M186.2 62.7l0.1 0.5l1.0 1.3l0.9 1.5M63.9 233.0l-1.0 0.9M68.3 145.3l0.7 1.1M87.1 281.3l1.5 -0.4l1.0 -0.3M-2.8 45.3l1.0 1.1M297.2 45.3l1.0 1.1M0.5 1.2l-0.0 0.7l0.6 1.1M0.5 301.2l-0.0 0.7l0.6 1.1M300.5 1.2l-0.0 0.7l0.6 1.1M300.5 301.2l-0.0 0.7l0.6 1.1M255.0 249.3l0.2 0.6l-0.8 1.3M274.3 210.4l0.9 0.2l0.0 0.7M75.2 145.6l0.2 -0.3l-0.8 -0.6M193.6 74.5l-1.2 1.3M257.3 85.9l-1.2 0.1l-0.3 -1.5l0.6 -1.2M226.1 261.7l-0.2 0.7l-0.9 0.7M122.8 85.2l0.9 0.6l0.4 0.1l0.6 -0.1M4.3 52.7l1.4 1.1l0.6 0.1l0.8 -0.3M304.3 52.7l1.4 1.1l0.6 0.1l0.8 -0.3M70.5 60.7l0.8 0.6M286.7 170.4l0.2 1.8l0.5 0.7l-0.4 0.7M180.3 51.7l0.5 -1.7l-0.6 -0.3M127.2 114.6l0.1 -1.0l0.2 -0.2M72.5 5.8l0.9 -0.9l-0.3 -0.4l-0.9 0.0M72.5 305.8l0.9 -0.9l-0.3 -0.4l-0.9 0.0M51.8 186.0l-0.9 -1.1l0.1 -0.4l1.4 0.0M176.7 102.1l0.1 -0.5M287.7 158.8l-0.2 0.7l-0.1 0.6l-0.2 0.3M114.9 11.3l1.4 -0.5l0.4 1.0l0.9 0.2M118.4 118.7l-0.6 -0.7l-0.5 0.0M219.5 190.0l-1.5 -0.9M265.6 135.4l0.1 0.4l1.0 0.0l-0.0 -1.7M41.4 11.0l-0.4 -0.3M293.0 93.2l-0.8 -0.1l-1.4 0.8M168.3 120.1l-0.1 1.6l-1.4 -0.1l-0.5 -0.2M37.3 251.6l0.6 0.6l-1.0 1.1M59.3 12.4l-0.4 0.4l-1.2 -0.2M261.8 120.7l-0.9 0.6l0.2 0.5l-0.5 0.5M125.8 9.5l-0.9 -0.9M239.1 217.1l1.0 -0.4M9.0 237.4l-0.3 0.2M37.0 288.8l0.1 1.8l-0.8 0.3M100.8 269.6l-1.1 1.0M275.9 122.0l-0.9 -0.1M70.4 96.0l1.4 -0.7l0.9 0.4l0.3 0.5M213.2 5.7l-0.2 1.1M213.2 305.7l-0.2 1.1M267.7 53.2l-0.5 0.8l-0.7 1.1M10.6 166.9l-0.5 -0.7l-1.7 -0.3l-0.6 0.8M252.7 157.2l-0.9 -0.9M28.5 36.7l-0.8 1.3l-0.5 -0.1M194.4 -5.4l0.7 -0.1l0.8 1.1l-0.3 1.2M194.4 294.6l0.7 -0.1l0.8 1.1l-0.3 1.2M205.4 271.5l1.1 0.7l0.9 0.8l0.3 -0.2M108.6 91.3l0.3 -0.5M157.5 82.3l1.2 -0.4M181.1 6.3l-1.1 0.3l-0.3 0.5M176.6 148.2l-0.0 0.5l-1.2 0.7l-1.5 0.7M271.8 118.0l0.4 0.2l-0.3 0.5M226.4 62.6l0.8 -0.6l1.1 -0.7M286.7 100.7l-0.5 0.3l-1.3 1.1M238.8 133.7l-0.1 1.2l0.8 0.4M226.3 247.1l1.4 -0.4l0.2 -0.4M136.4 182.4l1.1 0.5l-0.0 0.4l0.7 0.4M256.4 42.6l-0.2 -1.7l0.6 -0.3l0.7 -1.3M27.5 12.8l0.1 1.0l0.5 0.2M287.6 183.3l1.1 0.7l0.5 0.4l0.8 -0.0M124.2 120.1l-1.1 1.0l-0.5 -0.6l-0.4 0.2M-3.4 253.9l-0.5 -0.7M296.6 253.9l-0.5 -0.7M196.2 188.4l0.4 0.6l0.8 1.0l0.5 -0.0M229.6 55.0l-0.0 -0.8l0.3 -1.1l1.5 -0.3M115.5 193.3l-0.8 -0.6M156.0 110.8l1.1 -0.6l0.8 0.2l0.4 0.3M16.6 205.9l-0.2 -1.3l-0.7 -0.6l-0.7 -0.8M268.5 132.2l0.3 -0.7M66.3 119.7l-0.8 1.5l1.0 0.6M40.6 56.0l-0.4 -0.2l-0.3 -0.2M275.7 172.5l1.0 -0.3l0.1 -0.8l-0.2 -0.6M219.0 220.8l-1.2 -0.6l-1.3 -0.7l-1.2 0.5M174.4 50.5l-0.1 0.9l-0.2 1.0l-0.1 0.8M58.9 248.5l-0.9 1.2M116.7 68.1l0.0 -1.0l-0.7 -1.5M130.6 270.3l-0.3 0.2l-0.5 1.1M135.0 80.9l1.0 -0.1l0.2 -0.3M3.6 203.0l-0.5 -0.1l-1.5 -0.9l-0.9 -0.3M303.6 203.0l-0.5 -0.1l-1.5 -0.9l-0.9 -0.3M206.9 120.7l0.6 -0.6M48.5 118.3l1.0 0.1l0.7 0.6l0.8 1.1M15.9 17.1l-0.2 -0.3M280.2 31.9l0.3 0.0M259.0 7.2l0.6 -0.4l-0.3 -0.6M4.8 281.3l-0.6 0.1M304.8 281.3l-0.6 0.1M81.8 2.1l-0.6 -1.5M81.8 302.1l-0.6 -1.5M224.8 284.6l0.4 1.7l-0.0 0.5l1.2 1.1M118.5 192.8l1.0 0.8M290.8 186.4l1.6 0.5M5.5 110.9l-0.7 -0.8M305.5 110.9l-0.7 -0.8M130.7 22.6l0.5 -1.5l1.6 -0.5l0.3 -0.0M176.8 158.9l-0.3 0.4l-0.1 1.2l-0.0 0.5M269.0 150.3l-1.3 0.4l-0.1 -0.4l1.4 -0.8M108.4 65.9l0.3 1.5M8.3 88.9l0.0 -0.6M22.3 20.8l-0.1 -0.4l0.0 -1.1l-0.5 -0.3M35.5 44.9l-0.7 -0.8M54.5 98.5l-0.1 -1.2M147.6 36.7l0.4 -1.2M67.9 24.8l0.2 -0.9l0.6 -1.6l1.1 0.2M141.2 248.2l-0.8 0.2l-0.8 -0.8l-1.3 -1.2M278.3 265.0l1.4 0.4l0.7 0.1M39.8 5.5l1.1 0.2M39.8 305.5l1.1 0.2M57.2 8.7l-0.2 0.3M146.4 268.6l0.4 0.1l0.3 -0.3M187.9 278.8l0.1 -0.3l1.4 -0.3l1.3 -0.5M161.2 170.7l-0.7 -0.5M245.7 177.8l-1.2 1.2l-1.3 0.5M62.2 169.6l0.5 0.0l0.1 -0.9M118.7 293.4l-1.0 1.1l-0.4 -0.0M110.3 48.9l0.4 -0.7l0.3 -0.4l1.3 0.6M93.2 157.2l0.1 0.8l-0.9 0.3l-0.2 -0.5M138.9 177.6l0.4 1.6l0.4 0.4M52.9 13.2l0.2 -0.6l0.7 -1.6M86.3 97.9l-0.8 0.6M81.7 255.6l0.3 0.6l0.5 -0.3l0.5 -0.0M232.8 144.7l1.7 -0.1l0.1 0.9M200.4 110.4l-0.9 1.2l1.1 1.1M147.6 49.7l0.4 -0.0M227.0 168.4l-0.1 0.6l1.3 0.8M223.2 11.0l-1.6 0.3l-0.3 0.9l-0.2 0.4M278.1 61.5l-1.3 -0.2l-1.0 -0.1l-0.4 -0.1M32.3 109.5l0.4 0.1l0.4 -0.2M98.6 199.5l1.6 -0.1l0.8 0.3l0.2 -0.4M148.6 15.2l-1.3 -0.5l-0.7 -0.4M77.3 57.1l0.0 -0.3l0.6 -0.3l0.6 -0.0M40.7 49.5l-1.0 0.6l-0.0 1.0M3.4 222.5l-1.4 -0.2M303.4 222.5l-1.4 -0.2M182.4 230.0l-0.1 0.7l-1.1 0.5M214.0 233.0l-0.2 -0.7M219.7 142.6l1.3 -0.2l0.4 0.3l1.3 -0.2M139.4 274.4l0.7 1.2l-0.5 0.6M280.7 22.3l0.5 1.2l-0.5 0.2M56.4 281.7l0.5 0.3M118.8 180.3l-0.5 -1.3l0.4 -0.5l0.5 0.2M198.2 -0.9l-0.8 -0.7l0.3 -1.6M198.2 299.1l-0.8 -0.7l0.3 -1.6M68.2 195.6l-0.8 -1.1l1.4 -1.0M289.6 150.8l0.4 0.2l1.4 -0.8l0.5 0.7M289.0 77.5l-0.4 -1.5l0.6 -0.3M175.6 189.9l-0.6 -1.6l0.6 -0.5l0.5 -1.3M61.0 136.9l1.4 -0.8M194.9 156.5l-0.1 1.0l0.1 0.4l1.0 1.5M160.4 142.7l-1.5 -0.8l-0.2 -0.3l-0.2 -0.8M155.7 262.6l-0.1 0.8l-0.5 0.4M176.4 262.8l-0.9 0.9l-1.8 -0.1l-1.2 -0.4M177.8 121.2l0.0 1.0l1.5 0.8l0.9 -0.2M152.6 174.9l0.6 0.7l1.0 -0.1l1.4 -0.2M148.3 261.1l-1.1 0.3M207.9 147.1l1.0 -0.6M-4.4 99.1l0.5 -1.0l1.4 -0.6l0.3 -0.5M295.6 99.1l0.5 -1.0l1.4 -0.6l0.3 -0.5M145.2 226.4l-0.7 -1.1M266.8 210.3l-0.9 0.3l-0.4 0.2M273.6 268.9l-1.5 -0.6l-0.1 -0.6M175.1 11.2l1.2 0.6l0.4 -0.2M277.1 51.6l0.2 0.7l0.6 0.6M9.4 256.8l0.8 -0.2l1.0 -0.7l1.2 -0.4M104.0 217.4l-1.7 0.3M248.9 16.8l-0.5 -0.7l-0.9 0.1l-1.1 0.5M279.3 210.3l-0.2 0.7l-0.9 -0.1l-0.1 0.5M232.0 105.8l1.0 0.0l1.5 -0.3l0.2 -1.0M96.0 93.6l1.6 -0.3l0.0 -0.3l1.2 -0.4M150.0 70.6l0.0 0.8l1.6 0.6l0.7 1.0M143.5 252.4l-0.0 0.9M254.3 118.8l0.7 0.0M98.0 12.8l0.5 -0.0M166.1 197.0l1.2 1.3l1.3 0.6" stroke-width="2.6"/><path d="M57.0 153.5l-0.6 -0.9l-1.4 0.9l-1.2 0.1M194.7 184.7l1.6 -0.7l0.8 -0.2l0.6 0.8M56.5 219.5l0.8 -0.5l0.3 0.4l0.3 0.2M94.6 0.0l0.8 -0.2l0.9 0.4l0.4 -0.6M94.6 300.0l0.8 -0.2l0.9 0.4l0.4 -0.6M271.6 260.7l-0.4 1.4l-1.0 -0.3l-1.4 0.1M150.2 251.1l-0.4 0.2l-0.9 -0.9l-1.1 0.7M213.3 283.7l-1.0 0.7l0.7 1.1l0.5 0.8M208.9 283.9l-1.4 0.1l-1.3 -0.7l-1.4 0.3M167.6 94.1l0.7 -1.3M172.1 61.4l-0.1 -0.5l0.2 -0.7l-0.5 -1.0M125.1 286.8l-0.5 0.2l-0.4 0.1l-1.1 0.1M154.0 170.5l0.9 0.3M228.9 98.5l1.1 -0.9M121.4 58.7l0.4 -0.4M240.7 212.2l-0.5 -1.6M151.7 -4.7l-0.8 -1.0M151.7 295.3l-0.8 -1.0M139.5 2.0l1.2 0.7l0.4 0.6l0.7 1.2M139.5 302.0l1.2 0.7l0.4 0.6l0.7 1.2M117.3 0.4l-0.2 -0.8l-0.7 0.1M117.3 300.4l-0.2 -0.8l-0.7 0.1M13.7 48.0l0.3 -0.5l-0.9 -0.5l-1.2 -1.1M174.9 127.4l0.4 -0.1l-0.4 -1.7l-0.4 -1.3M21.5 36.4l0.5 -0.3l0.2 -0.4l0.8 -0.3M268.7 74.1l-0.5 0.4l-0.0 0.4M169.5 53.6l0.1 -1.0l-1.1 -0.2l-0.3 -0.1M264.0 84.7l0.6 -0.6M269.0 25.9l1.4 -0.9M175.1 271.8l1.0 0.2l0.2 1.1l-1.1 0.7M78.3 260.1l-1.0 1.3M215.1 29.8l-0.2 -1.2M113.4 213.3l-0.5 -0.6M284.2 168.9l-1.1 -0.2l-0.3 0.2M188.2 58.2l-0.4 1.6l0.3 0.8M98.9 278.4l-0.2 0.6M264.0 14.8l0.2 0.4M177.9 69.4l0.0 -1.4l-1.8 -0.1M14.3 180.2l-1.4 -0.5M11.2 72.0l1.1 0.3M43.3 118.2l-0.4 -0.1l-1.2 -0.6M211.5 165.9l-0.7 0.9l-1.6 -0.7M139.6 183.6l0.4 0.3l1.6 0.2l0.4 1.4M72.2 148.1l-0.7 -0.0M249.3 290.5l0.1 0.3M279.7 -2.4l-1.3 -1.2l0.3 -0.4l1.7 -0.3M279.7 297.6l-1.3 -1.2l0.3 -0.4l1.7 -0.3M230.1 -5.2l-0.3 -0.5l-0.6 -0.5M230.1 294.8l-0.3 -0.5l-0.6 -0.5M280.3 75.9l0.2 -0.3l-0.7 -0.7M260.1 38.9l0.6 -0.9l0.0 -0.6l-0.3 -0.4M84.5 193.6l0.2 -1.0l-1.1 -0.3l-0.4 0.3M165.6 235.0l1.3 0.9l0.5 1.3M82.4 180.3l-0.0 0.6l1.5 0.1l0.8 0.5M33.9 236.8l-1.0 -0.1M17.2 28.1l-0.6 -0.0l-1.6 -0.3l-0.4 -0.3M248.9 98.5l1.1 -0.1M220.0 126.0l1.7 -0.1l0.5 -0.8M225.6 30.0l1.0 0.3l-0.3 1.1M47.7 257.7l0.6 0.3M125.9 146.3l-1.3 -0.1l-0.1 -1.1M100.7 105.4l0.6 -1.4l-0.6 -1.3M4.3 149.1l-0.2 1.2M304.3 149.1l-0.2 1.2M92.4 53.6l-0.7 0.9l0.0 1.6M139.6 54.6l-0.1 0.3M84.8 28.7l-0.1 0.4l1.0 0.4M276.0 154.5l1.0 1.3l1.2 -0.6l-0.5 -1.2M148.2 115.2l-0.5 0.0l-0.7 0.2M286.6 266.4l-0.3 0.3M172.3 221.6l-0.7 1.3l-0.5 1.3l0.5 0.8M135.7 93.8l0.5 0.3l0.5 1.0l-0.7 0.4M201.3 130.5l-0.6 0.0l-0.7 0.1M-5.2 101.8l-0.4 0.8l-1.3 0.7M294.8 101.8l-0.4 0.8l-1.3 0.7M100.9 264.1l0.6 -0.7l-0.1 -0.5M264.4 225.4l1.7 0.6l1.1 1.2l0.6 -0.2M135.7 118.0l1.0 0.8l0.4 1.6M101.8 174.3l-0.5 -0.6l-0.1 -0.9l-1.0 -0.4M6.1 67.6l0.7 -1.1l-0.7 -1.4l-1.6 -0.7M244.7 217.8l-0.8 -1.0M41.8 61.3l-0.4 -0.5l1.0 -1.0M234.9 208.6l0.5 1.2l0.4 1.3M217.1 256.1l-0.1 0.6l-0.5 1.2M17.5 39.9l0.2 -0.9M61.6 193.7l0.8 -1.5l0.7 0.3l0.2 -0.3M113.0 34.8l0.2 0.4l0.4 0.1l0.5 0.2M77.2 227.5l-1.2 0.8l-0.5 -0.3M93.1 130.7l0.4 0.3l0.1 0.4l-1.0 1.3M139.0 76.7l-0.5 0.5l-0.1 0.5M48.7 69.7l1.1 -1.0l0.3 0.3M179.6 245.1l-0.1 0.8l-1.3 0.3l-0.6 0.4M67.9 5.3l-0.1 -1.1l0.0 -1.0M67.9 305.3l-0.1 -1.1l0.0 -1.0M19.6 103.6l0.3 0.4l-0.7 0.9l0.3 1.1M179.1 260.3l-0.5 -0.2l-0.8 -0.6M1.2 288.1l-0.5 1.2l-1.1 0.6M301.2 288.1l-0.5 1.2l-1.1 0.6M273.4 277.8l0.6 -0.7l0.7 -1.3l1.2 0.4M243.0 77.6l-0.7 0.3l-0.2 0.8l-0.3 1.2M41.3 91.3l-0.4 -0.1M247.4 184.3l0.1 -0.6l1.2 -0.5l0.3 -1.6M163.4 154.3l1.4 0.7l0.0 1.4M166.0 203.0l-0.3 0.8M276.0 206.3l0.6 -0.4l0.5 0.5M32.0 146.9l-1.1 1.4M90.2 284.2l-1.1 0.3l-0.6 0.1M110.2 5.0l1.0 -0.6l0.5 -0.4l-1.1 -1.3M110.2 305.0l1.0 -0.6l0.5 -0.4l-1.1 -1.3M77.1 17.4l-0.2 0.4M271.5 183.5l-1.2 -0.3l-0.5 -1.6M29.4 217.3l-1.5 0.8l-0.7 0.7l0.0 0.9M188.6 68.3l0.6 1.4M229.4 80.1l-1.0 -0.3l-0.4 0.9M157.0 92.0l-0.2 -1.4M175.0 201.6l1.2 1.2M55.7 53.9l0.7 -0.9M276.4 26.8l1.4 1.0M205.0 245.5l0.4 -0.8l0.9 -1.3M102.4 59.3l-0.5 0.4l-1.0 0.4l-0.5 -0.6M95.3 152.2l-0.9 0.4l-1.0 -0.7l-0.7 0.9M224.9 23.9l0.2 -0.3M207.1 183.1l-1.3 1.1M274.1 40.3l0.2 0.4l-0.0 0.9M64.6 197.8l1.3 -0.9M193.3 272.5l1.7 0.2l0.3 -0.4l1.3 1.1M249.1 283.5l0.5 0.3l0.8 -0.1l0.5 0.2M113.2 115.7l0.3 0.5M205.1 188.7l0.6 0.5M229.1 289.9l0.1 -1.3l-1.2 -0.0l-0.6 0.2M218.9 58.9l0.4 0.3M273.8 256.5l-0.1 0.4l-0.6 0.4l-0.7 -0.8M80.6 133.6l0.5 -0.3l0.4 0.0M103.2 155.4l-0.8 -1.4M209.8 150.5l-0.5 0.3l-1.8 -0.3M250.6 4.3l-0.3 -0.6M250.6 304.3l-0.3 -0.6M226.0 1.6l-0.5 0.1M226.0 301.6l-0.5 0.1M129.0 -2.6l-1.3 -0.7l0.1 -0.3l1.0 0.1M129.0 297.4l-1.3 -0.7l0.1 -0.3l1.0 0.1M134.6 244.5l0.7 0.0l1.4 1.2M208.1 197.9l-0.8 -0.8l-0.4 -1.1l-0.4 0.1M105.2 80.8l-1.0 -0.1M0.0 293.0l-0.4 1.0M300.0 293.0l-0.4 1.0M55.0 195.7l0.9 0.7l-0.5 1.7l0.1 1.4M174.5 238.4l-0.7 1.2M198.7 74.0l-1.2 -0.1l-0.4 0.5M287.6 206.9l-0.4 0.6l-1.4 0.5l-0.6 1.1M25.1 254.5l1.5 -0.2M30.7 254.2l-0.4 -0.5M75.2 106.6l1.5 0.4l0.8 -0.6M147.3 104.3l0.6 0.6l-0.6 0.9l-1.3 0.7M237.8 280.7l0.2 -1.6l-1.4 -0.9M171.5 116.2l-0.1 0.5l0.6 1.2M221.8 277.4l0.3 -1.5M290.4 198.6l1.6 0.8l1.2 -0.4l0.8 1.0M104.0 90.0l0.3 -0.4l-0.2 -0.4l0.3 -0.8M75.1 47.0l0.6 1.7l1.0 0.3l0.6 -0.4M235.8 173.4l0.2 -0.6l0.9 -0.5l-0.1 -0.5M83.3 108.8l-1.5 -0.6l-0.6 0.5l-0.5 0.1M144.3 153.3l-0.1 0.3M93.9 196.2l-1.8 0.2l-0.9 0.0l-0.1 1.1M62.5 256.8l0.6 -0.6M17.0 239.3l-1.4 -0.0l-1.5 -0.2l-0.1 -0.6M196.5 55.8l-0.4 -0.4l-0.1 -0.4l0.2 -0.5M73.1 266.5l0.0 0.3M32.3 47.2l-0.7 0.3M93.4 234.8l-1.0 -1.4l-0.5 -1.5M20.9 231.2l0.8 1.3l0.1 1.6l0.5 1.1M265.4 33.0l1.2 0.1l0.2 0.6M264.5 238.3l1.4 0.6l0.6 -0.1l0.4 0.1M117.8 149.7l-0.3 0.3M158.5 -4.5l-0.6 -1.2l-0.5 -1.0M158.5 295.5l-0.6 -1.2l-0.5 -1.0M119.1 234.8l-0.6 -1.2l0.3 -0.1l0.5 -0.0M101.2 178.3l0.1 1.2M61.6 239.3l0.3 0.6l-0.2 0.8M85.5 246.1l-0.9 0.5l-1.4 0.5M226.1 208.5l0.2 -0.9l-0.2 -0.9l0.0 -1.5M136.3 293.0l-0.4 0.1M144.2 181.8l0.8 -0.2l0.3 -0.6l0.6 0.3M170.0 28.7l0.7 1.0l1.1 -0.6M31.9 33.1l-0.9 -0.8M257.1 217.4l-0.4 -0.4l-0.6 -0.6M200.6 265.5l-0.8 0.1l-0.6 1.4M57.3 174.9l0.7 0.8l-0.3 0.7M120.4 283.1l-0.9 -0.3l-0.6 0.5l-0.1 1.0M132.2 190.0l-0.5 -0.6l0.3 -0.5l-0.2 -1.2M69.9 32.9l-0.5 0.8M255.9 222.4l1.1 0.9l-0.2 0.3l-0.0 0.4M62.4 206.3l0.6 0.4M195.5 0.7l1.4 0.9M195.5 300.7l1.4 0.9M253.2 60.7l-0.2 0.4M250.4 191.5l-0.7 -0.6M251.8 166.1l0.9 -0.3M255.4 105.9l0.2 -0.6M3.6 89.6l-0.8 -0.1l-1.7 -0.1l-0.7 -0.7M303.6 89.6l-0.8 -0.1l-1.7 -0.1l-0.7 -0.7M287.2 218.3l-0.7 -0.7l-0.9 0.3M275.5 221.3l-0.2 -1.2l-0.6 -0.5M104.6 40.4l0.8 1.0l1.6 0.6M266.1 270.7l1.6 -0.8l0.6 0.0M245.8 37.4l-1.7 0.1l-0.1 0.3M207.9 76.4l-1.0 -0.8M144.5 265.2l-0.0 -0.4l-0.5 -0.6l0.9 -1.5M21.1 237.8l-0.6 -0.3M101.4 48.1l0.4 1.2l0.7 0.8l0.6 -0.3M271.4 36.4l-1.2 0.1M128.9 281.0l-0.3 -0.4M142.7 146.6l-1.0 0.6l-0.6 -0.8l0.5 -1.5M92.8 255.4l0.7 -1.3l0.6 -0.3M24.9 190.9l-0.2 0.5M211.1 269.7l0.5 -1.7M272.3 84.0l-0.4 -0.3l-0.9 -0.0M247.8 155.5l-0.2 -0.3l0.5 -1.0l-1.2 -0.8M91.4 78.6l0.9 0.8l-1.1 1.2l-1.1 -0.0M76.7 176.3l-0.8 -1.3l-1.6 0.6l-0.1 1.5M237.2 149.4l-0.4 -0.5l-0.6 0.4M287.1 49.6l-0.4 0.4M13.7 146.2l0.0 1.2l0.6 0.6l-0.1 0.6M188.8 99.2l-1.1 0.4M176.9 165.5l-0.1 -0.4l-0.6 -1.4l-1.3 0.4M107.7 172.4l-0.5 -1.2M84.0 171.9l0.3 0.1l-0.3 0.8M203.4 84.4l0.1 -1.6M112.1 158.6l1.6 -0.5l1.2 -1.0l0.8 -1.4M199.4 281.2l0.3 0.9l-1.2 1.2l-1.2 0.8M79.5 87.2l0.0 0.8l1.7 0.3M218.5 249.1l0.3 1.6l0.1 0.7M226.0 190.9l-1.6 0.1l-0.6 -0.2l0.0 -0.7M175.6 120.2l-0.2 0.3l-0.5 0.5M204.5 15.1l-0.4 1.0M148.0 244.6l-0.1 0.5l-0.2 1.2l1.3 0.3M258.7 29.6l1.0 -0.4M110.2 290.8l-0.4 -0.4M247.9 85.3l0.2 1.4l0.8 1.2M44.0 -5.9l-0.5 -0.9l-0.8 -0.7M44.0 294.1l-0.5 -0.9l-0.8 -0.7M171.7 132.6l-0.1 1.1l-0.7 1.4M50.7 55.5l0.2 1.0M181.5 158.9l-0.8 0.8M278.0 166.5l-1.2 0.9M286.0 12.8l0.3 -1.2l0.7 -0.9M254.8 144.2l-1.0 -1.1M265.0 157.0l0.6 0.7M114.9 227.7l-1.6 -0.4l-0.3 -0.3l-1.4 -0.4M159.5 275.6l-0.6 1.2l-0.1 1.6M10.2 104.3l0.1 -0.4l0.9 -0.4l0.8 -0.9M37.8 24.3l0.8 0.9M49.5 131.3l0.3 -0.4l0.0 -0.8l-0.9 -1.2M210.0 127.8l-0.8 1.4l-0.4 1.7l1.2 0.6M209.4 277.9l-0.3 0.7l-0.6 1.3l-1.0 1.2M37.7 177.6l-0.1 -1.1l0.5 -0.5l0.1 -0.8M237.5 109.5l-0.4 0.2l-0.6 -1.2l-0.4 -1.2M41.5 219.8l-0.9 0.2M202.5 174.4l-0.8 -0.4l-1.4 0.1l-0.2 1.0M122.1 111.1l-0.6 1.3M222.5 32.8l-0.1 1.0l1.0 0.9M272.3 30.9l0.5 -1.7l0.5 -0.7M263.2 89.5l-0.3 1.4l-1.7 -0.1M73.2 105.2l-1.6 0.4M162.8 67.3l-0.0 0.7M213.3 144.1l-0.7 -0.3l-0.3 -1.1M218.7 53.5l-0.1 -0.6l-0.2 -0.3l-0.1 -1.0M31.2 151.7l1.2 -0.6M246.1 137.4l0.3 0.2M176.6 91.9l0.7 -0.7l1.4 1.0M105.2 106.1l-0.1 1.0M42.9 214.8l0.8 1.6M60.0 152.3l-0.6 -1.3M244.3 50.7l0.9 1.5M122.7 141.3l0.3 0.5l-0.5 0.4M191.3 173.6l-1.2 0.4M169.9 233.7l0.8 -0.8M77.9 129.1l0.5 -0.5l0.3 -0.6l1.2 0.0M110.8 236.5l-0.2 -0.3M176.5 253.1l-0.6 1.6l0.4 0.3l0.7 1.2M211.3 190.9l-1.5 -0.6l-0.6 1.1l-0.8 -0.2M108.9 241.6l-0.1 -0.8l0.1 -1.6l-0.6 -0.7M214.1 43.1l1.0 -1.1M66.3 32.5l-0.4 1.7l-0.7 0.1l-1.4 0.1M8.8 0.6l-1.4 0.4l-0.5 0.4M8.8 300.6l-1.4 0.4l-0.5 0.4M182.8 91.1l-0.0 1.6l-0.6 0.1M169.0 78.2l-0.7 -0.3M274.9 33.5l0.1 -0.3l0.9 -0.1M81.4 38.8l0.1 -1.1l1.2 -0.9M210.7 31.5l0.5 -1.1l-0.7 -1.6l0.8 -1.3M38.3 179.3l0.9 1.3l-0.5 1.1l1.3 1.0M236.3 76.3l1.2 -0.0M274.4 226.3l-0.2 0.6l0.3 0.2l0.1 1.8M141.4 8.3l-1.1 -1.0M119.1 77.9l-0.4 -0.4l0.7 -0.8l-0.4 -1.2M94.3 282.4l-0.6 -1.6M46.3 69.1l-0.8 0.3l-0.5 -1.1l-1.5 -0.5M281.4 8.1l-0.3 0.4l0.5 0.4M240.4 193.3l0.3 -0.8M114.8 89.1l-1.7 0.4l-0.9 -0.3l-0.7 -0.6M64.5 225.9l0.4 -0.3l1.1 0.6l1.4 0.6M259.4 49.3l-0.0 0.9l0.4 1.3M43.2 167.0l0.4 1.1M37.8 90.6l-0.1 -1.7l-0.6 -0.4l0.5 -1.3M165.1 110.9l-1.3 -0.2M193.3 65.8l0.8 -1.6M210.1 38.0l-0.6 0.5M232.4 184.1l1.6 0.5l1.6 -0.2l0.9 -0.4M14.9 121.7l0.1 -0.7l-0.2 -0.5l-0.2 -1.6M210.7 43.5l0.5 1.0M72.5 270.2l0.8 1.3l-0.3 0.2M151.5 0.2l-0.3 -0.6M151.5 300.2l-0.3 -0.6M130.4 291.5l1.7 0.3l1.4 -1.0l1.1 -0.6M171.3 192.9l-0.4 0.4l-0.3 1.6M200.3 19.5l0.4 -1.6l0.2 -1.8M90.3 48.8l0.1 -0.4M124.6 170.2l-1.1 -1.4M91.4 9.1l0.5 -1.2M172.2 108.0l-0.1 0.5M110.8 259.2l0.9 -1.0l-0.8 -1.4l-0.3 -0.8M29.6 196.0l-0.4 0.5l0.3 0.4M289.3 -5.3l-0.7 -0.8l-0.2 -0.2l-0.5 -0.6M289.3 294.7l-0.7 -0.8l-0.2 -0.2l-0.5 -0.6M74.3 83.6l-1.7 -0.5M172.4 33.5l-0.2 0.2l-0.8 -0.1M75.8 235.4l0.9 -0.6l1.0 -1.0M131.8 61.5l0.4 -0.4l-0.5 -1.3l-0.6 -1.0M47.5 261.4l0.3 0.5l0.6 0.2l0.3 -0.4M24.9 135.4l0.2 1.3l-0.2 1.8M85.8 8.6l-0.6 -0.2M172.7 210.1l0.5 -0.4l-0.2 -0.5l-0.3 -0.2M45.9 291.4l1.6 -0.3l0.2 -0.9M1.1 151.9l0.9 0.5l0.0 1.4M301.1 151.9l0.9 0.5l0.0 1.4M252.6 110.1l0.8 -1.0l1.3 -0.7M112.2 56.8l0.0 1.8l0.2 1.4M38.1 146.0l0.4 -0.5M4.0 242.8l0.1 0.3l0.3 1.1l0.5 1.7M304.0 242.8l0.1 0.3l0.3 1.1l0.5 1.7M-1.4 86.7l-0.8 0.0l-1.4 0.6l-0.1 1.2M298.6 86.7l-0.8 0.0l-1.4 0.6l-0.1 1.2M218.0 143.2l0.3 0.6l-0.6 1.2l-1.3 0.8M189.4 247.1l-0.6 0.9M129.0 124.4l-0.0 -0.5l-1.2 -0.3l-0.7 -1.0M46.0 154.9l-0.2 -0.9M251.9 118.1l-0.8 -0.2l-1.1 -0.8M48.6 175.7l-0.2 -1.7M167.5 224.9l-0.1 1.3l-0.4 0.3l-0.6 -0.3M203.5 270.1l-0.4 -1.6M69.3 158.7l1.2 -1.1l-0.4 -1.3l1.6 -0.5M209.8 123.3l0.8 -0.6l0.8 -0.7l0.4 -0.8M108.7 285.9l-0.9 0.8M110.1 115.0l-1.3 -0.8M43.9 270.0l0.8 -0.4l0.1 -1.2l-0.8 -0.1M87.8 39.3l-0.1 1.4M210.0 160.7l-0.6 1.6l-0.5 0.8M186.9 104.2l0.8 -0.3M165.5 166.1l-1.1 0.3l-1.2 0.8M114.9 15.8l-0.2 1.8M155.8 -2.1l-0.7 -0.0M155.8 297.9l-0.7 -0.0M256.3 80.8l0.8 -1.3M9.2 141.8l-0.2 -1.6l-0.3 -1.0M250.3 82.3l-0.6 0.9l0.7 0.5M18.8 114.1l1.3 0.1l0.2 -1.1M73.9 245.6l0.2 -0.5l0.9 -0.2M191.3 73.4l-1.2 -0.9l-1.5 -0.5l-0.4 0.7M284.0 254.0l-0.3 1.0l-1.4 0.9l-0.6 0.7M206.4 276.5l0.0 -1.3M117.2 33.6l0.7 -0.1l0.3 -0.1M241.6 254.3l0.5 0.1l1.3 -0.2M286.3 127.6l0.2 0.7l0.0 0.8M280.4 178.2l0.3 1.3l-1.5 0.5l-1.2 0.7M69.7 174.9l1.1 0.5M31.3 90.2l0.8 -1.6l1.0 -0.8l0.8 0.5M170.0 250.3l-1.0 0.0l-0.9 0.5l-0.4 1.7M4.9 218.3l-0.2 -0.6M304.9 218.3l-0.2 -0.6M45.0 34.1l-1.2 -0.7l-1.5 0.5M210.6 17.0l1.1 1.2l1.0 0.2l-0.0 0.5M15.8 89.8l0.4 -0.8l-0.3 -0.4l0.8 -0.8M256.3 206.1l-0.5 -1.1l-0.5 -0.4M184.0 -0.0l0.6 0.3M184.0 300.0l0.6 0.3M123.5 256.6l0.2 0.7M29.3 45.1l-1.2 0.5M193.1 132.2l-1.2 0.5l-0.7 -1.4l0.2 -0.6M91.6 17.3l1.4 -0.3M116.9 223.5l0.3 1.0l0.9 0.5l-0.1 0.6M29.6 235.9l-0.2 1.0M77.7 210.5l-0.2 0.6l0.6 1.0M288.4 110.8l-1.0 0.3M31.6 199.5l0.3 -0.5M234.8 71.8l-1.6 -0.3l-0.9 1.5M94.3 9.5l0.6 -0.4l1.0 -0.6l0.2 0.4M-4.6 247.5l1.5 -0.6M295.4 247.5l1.5 -0.6M90.0 276.6l-0.2 1.4M123.6 71.9l-0.5 0.4l-0.1 1.4M113.9 131.6l0.4 -0.4l-0.0 -1.5M44.6 80.7l-1.3 1.0l-1.2 -0.8l-0.3 -0.8M30.8 275.5l-0.7 -0.7l-1.5 -0.8l-0.3 -0.1M238.7 289.4l0.1 0.9M165.8 150.4l0.2 0.7l0.2 1.7l-0.3 0.2M262.1 269.9l0.1 0.5l-0.2 0.3l0.6 0.8M118.9 -2.7l0.9 -0.6l1.5 0.2M118.9 297.3l0.9 -0.6l1.5 0.2" stroke-width="2.7"/><path d="M135.1 167.1l0.2 1.3l1.1 0.3M236.4 27.6l1.7 0.5l1.3 0.8M27.5 242.4l-0.6 1.0M12.2 293.3l0.1 0.8l-0.4 1.7l0.9 0.3M120.5 254.3l-0.8 -0.7M292.9 118.2l1.4 -0.0l1.0 0.4l-0.0 1.7M53.2 169.0l-0.3 -1.8l0.6 -0.6M181.9 111.7l-1.0 0.1l-1.2 -1.0l-0.8 0.4M210.8 76.5l0.4 -0.0l0.9 0.3l-0.1 0.8M209.1 287.6l1.4 0.5l0.8 1.5l0.1 0.6M182.5 23.8l0.3 0.5M144.7 70.4l-1.2 -0.6l0.4 -1.7l-0.1 -0.4M174.9 94.2l0.0 1.1l-0.0 0.4M184.3 227.5l0.1 -1.2M238.5 283.1l1.1 0.4M8.8 243.1l-0.5 -0.7M277.2 64.5l0.6 1.0l-1.0 1.0l-0.3 -0.0M5.7 60.4l-0.7 -0.3M305.7 60.4l-0.7 -0.3M152.4 227.6l-1.5 -0.4M54.7 60.5l1.2 1.3M190.9 187.6l1.4 -0.8M211.6 229.3l-0.2 -0.7l-1.1 -1.1l-1.1 0.3M6.8 183.3l0.0 1.6l0.2 1.0M152.9 290.1l-0.8 0.5l-0.4 -0.4M22.0 272.5l0.4 -1.3l-0.2 -0.4M220.8 71.5l-1.1 0.1M205.3 89.6l0.5 -0.2l0.2 0.3M25.3 91.0l0.2 1.2l-1.1 0.2l-0.6 -1.2M276.3 283.5l-1.1 -0.2l0.0 -1.4l-0.4 -1.5M117.9 58.5l-0.7 -0.6l-1.1 0.4l-1.5 0.2M242.5 250.5l-1.5 -0.8M-3.1 112.7l0.8 -0.0M296.9 112.7l0.8 -0.0M291.8 19.0l-0.9 -1.4l-0.2 -0.7l-0.6 -0.3M34.3 193.8l0.2 1.2M93.5 92.4l-0.3 1.7M184.0 86.7l0.0 0.8l1.6 -0.0M121.0 210.1l-0.8 -0.3l-0.2 0.3l-0.6 -0.3M183.4 48.1l-0.5 -0.8l0.5 -0.4M140.0 43.8l0.6 -0.0l0.5 -1.0l-0.4 -0.8M237.3 36.7l-0.4 0.7l0.5 0.3l0.8 -0.1M9.6 268.4l0.1 1.3l-0.5 1.1M149.0 278.7l0.5 1.1l0.1 0.8l0.4 1.0M275.6 269.2l1.5 0.3l0.9 -0.5M155.8 286.1l-0.3 -0.6l1.0 -0.7M147.6 130.7l1.6 0.1l0.4 0.2l0.5 -1.0M272.7 170.2l-1.0 0.9M93.0 13.3l-0.0 -1.0l0.5 -0.1M128.3 22.0l-1.0 1.0l-0.8 -0.2l-0.3 1.0M67.9 75.2l1.3 0.9l0.9 0.6M71.1 139.1l0.1 -0.8l1.2 -0.5l1.5 0.1M209.1 259.8l-0.3 0.1l-0.7 -0.7l-0.4 -0.3M134.1 -0.3l-0.1 -0.8l-0.6 -1.2l0.7 -1.4M134.1 299.7l-0.1 -0.8l-0.6 -1.2l0.7 -1.4M41.1 211.7l-0.7 0.6M72.6 28.3l-0.8 0.3l-0.4 -1.1M103.5 267.7l1.2 -0.3M214.4 207.4l0.1 0.7l-0.3 0.6l0.8 1.1M37.4 17.3l0.8 1.4l0.1 0.5l-0.1 1.5M248.9 170.2l-0.7 0.0M82.3 69.1l0.3 -0.4l-0.6 -1.2M68.6 180.5l0.5 -0.5l0.3 -0.2M133.2 177.9l1.7 0.3M259.8 250.7l-0.8 -1.0M132.6 286.3l-0.6 0.2M208.8 201.2l-0.1 1.8l-0.3 0.0l-0.3 -1.0M89.3 232.8l-1.6 0.2l-0.6 0.8M125.6 16.6l-1.4 -0.4l-1.5 -0.3M253.5 30.6l0.4 1.1l1.5 0.6l1.5 -0.3M109.1 128.2l0.6 0.8l0.7 0.8l1.3 -0.5M66.3 29.5l0.2 -0.5l0.6 0.3l0.2 0.7M207.6 116.5l-1.4 -0.2M214.8 130.6l0.3 -1.7M65.6 60.0l-0.1 -0.5M280.9 108.1l0.6 0.5l-0.5 1.0M218.5 284.7l-0.0 -1.6l0.5 -1.2l0.2 -0.5M170.1 104.9l-0.7 -0.5M285.2 32.8l-0.4 0.6M54.8 158.9l0.1 -1.3l1.1 -0.5M26.1 156.7l0.1 -0.4l-0.5 -1.5M98.1 217.9l0.3 0.0l1.3 0.0M115.6 40.8l0.0 -0.3l0.5 -0.4l0.5 0.4M279.6 102.6l-0.4 -0.1M63.1 4.8l0.6 0.9l0.1 1.3M63.1 304.8l0.6 0.9l0.1 1.3M187.4 95.1l-0.5 -0.0M104.9 167.0l-0.6 1.6l-0.9 -0.1M82.9 56.7l-1.0 -1.4l-0.8 -0.1l-0.3 0.5M278.3 273.8l-0.3 -0.6M158.2 146.1l-1.2 -0.5l-1.1 -0.2l-0.4 1.3M131.7 39.6l0.6 -0.6l0.1 -1.7l-1.5 -0.1M195.7 203.2l-0.5 0.7l-0.5 1.7l-0.6 0.1M78.8 184.0l-0.6 -0.3l-1.3 0.5M74.8 52.7l0.1 1.4M4.0 93.2l0.0 -0.4l0.4 -0.2l1.3 0.4M304.0 93.2l0.0 -0.4l0.4 -0.2l1.3 0.4M239.9 185.0l-0.9 1.0l-1.0 1.1M57.3 260.7l0.3 -0.3M114.1 247.9l0.2 -0.6l0.9 -1.0l0.3 0.1M114.1 25.0l0.1 0.8l-0.1 0.5l0.3 0.6M161.2 113.1l-0.9 -0.7l-0.2 -0.2M38.9 233.4l0.9 1.2l0.3 0.4M290.5 60.2l-1.0 1.3M238.1 12.9l0.8 -1.3M260.2 73.7l-0.2 0.3l-1.3 0.2l0.1 1.5M211.4 179.0l-0.5 -0.0l-0.2 0.8l-0.5 0.0M231.5 181.6l-0.4 1.7l-0.6 0.2M259.4 171.3l1.1 0.6l1.0 1.3M99.8 254.2l-0.7 -0.0l-0.0 -1.0M229.4 178.3l0.8 -1.5l0.4 -1.1l1.3 0.4M220.1 90.2l1.0 0.8l0.9 0.5M152.5 14.7l1.0 0.9M88.7 90.7l0.0 -1.7l0.4 -0.9M237.1 165.1l-1.1 1.3l-0.7 1.7l-1.2 0.8M-3.6 94.6l1.2 -1.0l1.1 -0.8M296.4 94.6l1.2 -1.0l1.1 -0.8M98.2 191.1l-0.3 0.3l-1.1 0.9l-0.4 0.2M220.0 184.9l-0.7 -0.8l-0.2 -0.8M239.2 18.3l0.1 -0.5l-1.7 -0.6l-0.8 1.0M231.2 109.3l0.3 1.4M247.1 160.4l1.1 -1.1l1.0 -0.1M16.3 110.3l-1.3 0.3l-0.4 0.4M285.6 150.3l-1.0 1.3l0.2 0.6l1.2 1.1M260.8 204.1l0.0 -1.2M72.6 160.6l0.5 -0.2M85.7 34.3l0.7 0.0M258.8 152.8l-1.0 -1.5M129.9 64.1l1.1 0.4l0.6 0.6l1.7 0.4M101.2 203.9l0.7 -0.2l0.1 -0.4l-0.2 -0.6M174.4 217.7l1.0 0.5l1.3 -1.0l0.3 -0.1M193.9 285.8l-0.3 0.1l-0.2 0.4M110.3 253.1l-1.1 1.0l-0.5 1.1M40.9 132.3l0.1 -0.4l0.4 -1.7M158.0 28.1l1.6 0.2l0.6 -0.3M2.9 104.3l-0.7 1.4l-1.3 0.2M302.9 104.3l-0.7 1.4l-1.3 0.2M47.9 271.3l-0.3 1.3l0.4 0.9M120.8 155.5l-0.3 0.7M204.0 155.2l-0.2 -0.9M118.3 128.6l-0.4 -0.7l-1.7 0.3M134.0 174.0l-0.8 -0.8l-1.6 0.4l-0.2 -0.4M144.3 248.0l1.1 0.5l-0.1 0.5M198.4 29.3l0.0 -0.9l1.5 -0.8M264.8 207.7l-0.2 -0.4l0.5 -0.9l-0.5 -1.0M182.1 106.4l0.5 0.4l1.6 0.4M286.9 95.0l-1.0 -0.8l-1.2 0.3l-1.0 1.0M265.9 151.2l-1.2 -0.0l-0.1 1.1M276.1 56.6l0.6 0.6M130.0 6.2l0.6 1.6l0.9 0.9l0.4 -0.1M119.6 167.1l0.9 0.6M163.1 76.1l-0.3 0.3l0.7 1.5l-0.2 0.7M113.4 6.6l0.2 0.6l0.6 -0.0l0.6 0.5M214.5 178.4l-0.0 1.4l-0.2 0.7M145.4 229.5l0.7 1.3M-4.7 62.6l-1.4 0.9M295.3 62.6l-1.4 0.9M82.0 43.3l1.7 -0.4M196.1 192.6l-0.6 1.2l-1.7 0.2l-0.5 -0.2M122.6 135.6l-0.7 0.3l-0.3 1.5M270.4 62.9l-0.4 0.1l-1.1 -1.0l-0.8 0.6M96.7 5.2l0.5 0.1M96.7 305.2l0.5 0.1M179.5 252.9l-0.4 -0.3l0.0 -1.5l-0.4 -0.3M202.3 76.2l0.6 -0.3l0.8 1.3l0.4 -0.1M224.9 267.9l1.3 0.4l0.6 0.9l1.6 -0.7M147.8 224.5l1.3 -0.3M196.2 152.0l-0.9 1.4l-0.3 0.3l-0.3 -0.1M127.8 139.5l-0.6 -1.5l0.6 -1.3M224.4 135.8l-1.3 -1.2l-0.3 0.3l-1.2 -1.1M4.1 260.0l-0.5 1.3l0.3 0.3l0.4 0.0M304.1 260.0l-0.5 1.3l0.3 0.3l0.4 0.0M135.9 163.1l0.2 -1.7M78.2 163.1l0.3 -0.2M140.5 24.4l-0.3 1.2l-1.6 0.4l-0.5 0.1M25.7 285.3l-0.4 1.7M33.7 245.6l-0.4 1.4M66.4 157.9l-0.7 0.4M49.5 231.4l-1.4 -1.0l-1.3 -0.4M10.9 98.7l-1.1 -0.6l-0.4 0.4M223.8 241.9l1.2 -0.6l1.1 -0.4l-0.0 -1.0M266.6 68.7l-0.5 0.7l-1.0 -0.2l-0.4 -0.4M88.9 103.5l-0.3 -1.5M292.4 289.2l-1.0 0.2l-0.6 0.8M163.7 208.9l-0.4 -0.2l-0.1 -1.8l1.4 -0.1M65.8 249.0l-1.4 0.3l-0.6 0.7M90.1 164.1l-1.3 -0.4l-0.2 -0.7M30.1 104.7l0.5 0.0M186.8 40.0l0.4 -0.3l0.5 -0.3M269.3 123.3l0.7 -1.2l-0.5 -0.6M19.9 44.0l-1.0 1.4l-0.4 0.1l0.2 1.2M55.3 86.3l-0.3 -1.7l-1.3 -0.4l-0.7 0.2M144.2 193.8l-0.7 0.5l-0.7 -0.4l-0.2 -0.9M184.7 54.4l0.1 -1.2M13.9 185.8l-0.3 0.3l-0.2 0.3l-0.4 0.2M45.2 184.4l-0.9 -0.8l-0.1 -1.3M201.2 115.4l0.4 -0.0l0.6 -0.2l0.4 -0.2M292.0 142.0l0.7 -0.6M261.5 79.1l-0.3 -0.8M253.1 66.9l0.2 0.7l0.5 0.0l0.0 -0.4M291.6 3.8l-0.8 0.9l0.6 0.9M291.6 303.8l-0.8 0.9l0.6 0.9M199.9 207.4l-0.2 1.6l0.7 0.2M79.1 137.0l-0.0 1.0M57.4 66.4l1.6 0.4l0.2 -0.3l0.8 0.1M277.6 247.9l1.1 0.6l0.2 1.6M155.4 102.5l-0.5 -0.2l-0.4 -0.1l-1.2 -0.7M174.1 2.1l-0.3 0.1l-0.2 0.3l0.2 1.3M174.1 302.1l-0.3 0.1l-0.2 0.3l0.2 1.3M24.2 258.9l0.2 -1.5l0.4 -0.0l0.2 1.4M287.6 56.8l-0.3 -1.6l0.9 -1.3M101.9 75.3l0.5 0.4l1.5 -0.4M290.3 164.8l-0.2 0.6l1.2 1.2l0.9 0.1M193.5 135.2l0.5 0.2l0.0 0.7M10.1 40.8l1.1 -0.9l0.4 0.2l0.6 1.3M245.3 133.5l0.5 0.6l0.8 -0.3M140.9 243.0l0.3 -0.8l0.6 -0.4l0.2 -0.2M69.8 127.0l-0.2 0.6l-0.0 0.4M16.2 243.7l-0.7 0.6l-0.3 0.6l-0.9 0.7M137.4 45.1l-0.6 0.1l-0.6 0.3M0.8 171.9l1.3 0.6M300.8 171.9l1.3 0.6M169.5 240.2l-0.7 0.2l-1.3 0.2l-0.7 0.3M163.8 277.5l-0.7 -0.7l-0.3 -1.0M272.2 90.5l-1.1 -0.7l0.5 -1.6l1.8 0.4M221.8 235.7l-0.1 0.3l-0.2 1.1l0.4 0.8M167.0 16.9l-0.4 0.2l0.2 1.6l-1.7 0.3M96.9 178.9l-0.6 0.2l0.1 1.6M163.1 121.3l-0.6 -0.9l0.5 -0.6l0.9 0.5M133.3 276.3l0.4 -0.0l-0.0 -0.5l0.8 -0.6M258.6 165.3l-1.0 0.7l0.1 0.4l-0.1 1.7M131.8 144.0l-0.3 -0.5l-0.3 -0.3M165.3 251.7l-1.0 -1.2M87.2 59.4l1.5 -0.0l0.6 1.6l-1.4 0.7M235.2 290.7l-0.6 -0.6l-0.4 -0.9M186.7 78.2l-1.3 0.4M161.0 104.2l0.7 -0.1M13.3 207.5l1.2 0.5l-0.2 0.6l-0.4 0.2M243.0 187.7l1.6 -0.2M288.6 203.4l0.0 -1.1M291.4 257.0l0.1 -1.5M239.0 263.2l-0.4 1.0M205.8 264.2l-0.8 -0.5l-0.6 -0.6M289.8 131.7l0.3 -0.1l-0.3 -1.5M175.0 177.6l1.0 1.5M152.6 113.1l0.5 -0.6M204.8 233.4l-0.6 -1.5M205.6 286.7l-0.0 1.3l0.9 0.6l0.6 -0.2M88.7 11.3l-0.8 0.0M178.5 105.0l-0.3 1.1l-1.6 -0.2l-0.5 0.8M271.5 279.7l0.1 1.1l-0.8 0.3l-0.2 0.3M53.5 68.7l-0.7 1.0M81.6 9.7l-0.7 -0.0l-0.6 -0.8l-0.8 0.0M173.3 243.5l0.0 0.3l-0.4 0.5l-0.4 0.2M97.4 38.0l0.7 -1.1l1.4 0.0M78.4 179.0l0.7 -0.7M182.4 216.7l-1.3 -0.7l-0.4 0.2l-0.1 0.4M70.8 162.7l-1.0 1.2l-1.1 0.8l-1.2 -1.0M175.2 32.5l0.9 -0.8M16.4 289.6l0.4 -0.1l0.1 0.3M271.1 53.1l0.2 -0.2l0.1 -0.4l0.6 -1.1M167.8 108.8l0.5 0.2M271.5 224.4l-1.3 0.1M168.9 288.3l-0.2 -0.8M29.0 290.5l1.2 0.9l0.6 -0.2M98.9 235.2l0.9 -1.1M-6.0 7.6l-0.3 0.9l-0.0 1.8M294.0 7.6l-0.3 0.9l-0.0 1.8M122.2 277.4l-0.5 0.3l-0.5 -0.6M49.4 109.6l0.8 0.6l0.3 1.2l0.6 1.5M32.8 72.0l0.3 0.3l0.6 0.4l0.2 0.2M167.6 162.7l-0.2 0.5l-0.2 0.5M-0.3 68.5l-0.3 -0.8l0.8 -0.3l0.5 -0.1M299.7 68.5l-0.3 -0.8l0.8 -0.3l0.5 -0.1M116.2 107.5l0.6 0.9M286.0 213.5l-0.6 -1.4l0.3 -0.4M25.1 211.8l-0.1 0.4l-0.7 0.3M278.3 17.5l1.2 0.2l0.1 1.6M68.1 12.8l1.3 0.6l1.3 -0.6l0.0 -1.3M53.7 112.9l-0.1 -1.1l0.6 -0.3l1.3 -0.5M27.1 142.6l-0.5 -1.4M123.4 150.2l1.0 0.1M58.5 119.6l1.3 -1.1M175.7 184.9l-1.4 -0.3l-0.4 -1.4l1.0 -0.5M111.0 26.9l-0.2 1.1l0.2 1.7l0.1 1.3M161.9 35.1l1.2 0.6l1.1 -0.7M188.7 185.3l-0.7 -1.3l-1.1 0.2M285.8 163.0l-0.4 0.4M94.5 176.9l-1.1 -1.2l-0.1 -0.3l-0.6 -0.3M52.3 138.8l0.2 0.5l0.3 0.1l0.2 0.6M284.4 66.2l0.9 0.7l0.1 0.4M72.5 21.3l0.5 0.7M76.1 133.2l0.7 1.4M161.0 150.8l1.4 0.5M25.5 52.4l1.1 -1.3M248.3 240.1l0.1 1.0l0.3 0.0l0.6 -0.7M258.1 254.3l0.4 -0.4M126.5 36.9l0.3 0.1l0.0 0.4M176.4 114.4l1.0 0.5M154.1 243.4l0.3 -0.7l-0.6 -0.6l1.0 -1.1M81.9 227.2l-0.4 0.3l-0.9 -0.1M276.7 -0.4l0.1 0.4l-0.1 0.3M276.7 299.6l0.1 0.4l-0.1 0.3M84.9 237.4l-0.8 -1.6l-0.9 -0.2M19.8 210.1l0.6 1.3l0.3 0.7M-3.4 231.5l-0.5 0.4l-0.8 1.2l-0.9 0.9M296.6 231.5l-0.5 0.4l-0.8 1.2l-0.9 0.9M70.9 226.4l1.4 0.8M166.5 103.6l-0.1 1.5l-1.7 -0.0l-0.3 -1.1M123.6 293.2l0.2 -0.8l0.3 0.1M246.3 1.7l-0.9 -0.1M246.3 301.7l-0.9 -0.1M-2.7 106.9l-1.3 -1.0l0.3 -0.5l1.4 0.5M297.3 106.9l-1.3 -1.0l0.3 -0.5l1.4 0.5M224.5 88.5l0.4 -1.3l-1.1 -0.4M62.0 30.8l-0.8 -1.0l-0.7 0.0M27.6 129.7l-0.4 -0.3l-0.2 -1.2l-1.3 -0.3M163.7 83.7l-0.2 0.3M5.1 16.3l0.1 -0.8l0.4 -1.1M305.1 16.3l0.1 -0.8l0.4 -1.1M78.3 51.2l1.6 0.5l1.3 -0.3M34.6 216.3l-0.4 1.1l0.5 1.3l-1.1 0.5M267.4 28.2l-1.1 -0.9M49.1 146.2l-0.1 0.5l-0.6 0.1M243.0 75.0l-0.4 -1.3M119.5 55.6l-1.1 -1.1l-0.2 -0.3l0.4 -0.5M172.1 81.0l-0.2 0.7l1.2 0.8M94.4 75.9l-0.6 0.1l-0.9 -0.3l-1.3 0.4M251.0 186.4l0.0 -1.4l1.2 -0.6l0.8 1.4M244.5 30.9l0.6 -1.7l-0.9 -0.6l-1.6 0.4M116.9 264.0l0.4 -0.5M115.9 235.3l0.0 0.6M275.8 43.7l0.1 1.0l-0.2 0.4M236.9 194.6l-0.1 -1.4l-1.5 0.1M3.8 187.2l-0.2 -0.5l-1.6 0.3M303.8 187.2l-0.2 -0.5l-1.6 0.3M10.4 59.9l1.2 1.1M119.5 62.5l-0.3 -0.2M27.4 281.1l-0.2 1.4M78.5 243.8l-0.2 0.2M282.7 119.4l0.7 0.1M52.5 177.4l0.3 -1.1l0.1 -1.4l1.0 -0.6M109.8 22.6l0.1 1.5l1.3 1.0l0.5 -0.5M207.1 211.0l1.4 0.6l0.6 0.5M278.3 221.4l0.5 0.0l0.3 0.4l0.0 1.0M199.3 58.7l0.5 -1.6l1.0 -0.3l0.7 0.2M178.6 83.2l-0.0 1.3M168.3 65.7l-0.1 1.5M151.9 285.2l0.5 1.7l0.8 0.7M245.5 108.9l0.2 -0.8l0.2 -1.8M50.8 293.4l0.0 -0.3l1.3 -0.7M153.4 33.6l-0.0 -0.4M290.9 104.3l-0.9 -0.3l-1.2 -1.2l-0.4 0.0M214.5 135.1l1.2 0.2M284.4 15.8l-0.6 -0.8l-1.3 1.0l0.2 0.3M67.5 189.1l-0.4 0.4l-0.9 -0.9l0.1 -0.8M89.4 236.4l0.7 0.7M5.1 213.8l1.2 0.5l0.5 0.7l0.3 0.5M305.1 213.8l1.2 0.5l0.5 0.7l0.3 0.5M138.9 290.9l0.8 -0.3M134.3 4.2l-1.1 -0.2M134.3 304.2l-1.1 -0.2M252.4 162.8l-1.4 -0.4l0.5 -1.7M292.1 280.6l0.4 0.1l0.4 0.2M16.4 226.6l-0.1 -1.6l-0.6 -1.6M223.4 6.8l-0.6 -1.2l-0.5 -1.6l0.2 -0.5M178.9 181.5l0.3 0.8M135.5 224.3l-1.7 -0.0l-0.9 -1.4M243.9 169.3l0.5 0.2l0.3 -0.3l0.4 0.2M40.7 -0.7l0.8 -1.2l1.2 -0.7l1.5 0.3M40.7 299.3l0.8 -1.2l1.2 -0.7l1.5 0.3M90.7 59.4l0.1 0.9l0.7 0.3l0.3 0.1M81.4 97.4l0.2 -0.3M62.9 277.8l1.3 -0.5l0.5 0.9M31.0 99.8l0.6 0.6M51.3 85.0l-0.4 -0.2l-1.6 -0.0l-0.2 1.4M185.3 8.9l-0.2 -0.7l-0.8 -1.4M111.3 187.5l1.1 1.2l0.4 0.6M37.6 84.8l1.6 0.3M203.6 124.8l0.1 -1.7l-0.9 -0.8M82.7 146.3l1.7 0.4l0.8 0.3l0.8 -0.2M40.6 198.6l-0.1 0.3M146.0 149.2l-0.8 -0.8l-1.4 1.0l-0.9 -0.0M193.3 232.9l-0.9 -0.4l-0.4 -0.1M155.3 140.9l0.1 1.8l-0.4 0.8l0.9 0.6M99.3 112.7l-0.4 -0.0M42.3 238.6l1.2 -1.2M44.6 132.0l0.3 1.3l0.8 0.7M168.8 56.1l1.4 1.0l0.4 1.0M15.6 192.8l1.1 -0.6l0.3 -1.1l0.2 -1.4M262.6 33.9l-0.5 0.6M-1.8 203.7l-0.1 -1.2M298.2 203.7l-0.1 -1.2M6.6 227.0l1.2 -1.2l1.5 0.4M285.0 155.7l0.4 -0.3l1.0 1.1M185.9 282.2l-0.2 -0.2l-0.5 -0.5l-0.7 -1.0" stroke-width="2.8"/><path d="M199.0 137.4l-0.4 -0.5M87.2 21.0l-0.9 0.2M62.8 273.4l0.4 -0.4l-0.2 -0.3M193.7 35.2l-0.7 -0.6l-0.5 0.2M241.0 92.1l0.7 -0.5l-0.8 -1.3M259.7 53.1l-0.4 0.9l0.0 1.6l0.9 1.1M271.9 244.3l0.3 0.4l1.3 1.0l-0.4 0.7M59.3 285.3l-0.6 -0.5M179.0 88.2l-0.2 -0.4M168.4 255.3l-0.4 0.7l-0.7 0.2M77.2 3.5l-0.4 0.2l-0.5 -0.3M77.2 303.5l-0.4 0.2l-0.5 -0.3M271.2 198.3l0.7 -0.3l0.4 -0.4M72.8 41.5l-1.8 0.1l-0.4 0.3l-0.9 1.2M197.1 242.0l-1.3 0.4M104.8 24.7l-0.2 0.4l-0.4 -0.2M157.9 86.7l0.2 0.6M191.6 157.5l0.2 -1.3M81.1 143.1l-0.8 -0.9l0.6 -1.0l-0.5 -0.3M67.8 206.6l0.7 -0.9M131.0 113.6l0.0 -1.7M158.2 47.6l1.0 0.4l0.3 0.2M265.7 40.0l1.1 0.3M31.6 11.4l0.6 -0.3M78.0 273.0l-0.5 -0.1l-0.6 0.9M76.8 120.4l0.3 0.2M141.8 51.5l-0.1 -0.3l-0.4 -1.2M183.5 16.6l-1.1 1.1l0.8 0.9M110.7 84.4l0.2 1.4l-0.9 1.3l-1.3 -0.1M116.8 269.7l0.3 -0.9M180.5 34.3l0.4 -0.0l0.8 0.5M170.1 178.9l-0.9 -1.2l0.1 -1.1l-0.4 -0.5M202.2 166.1l1.2 0.2l0.4 -0.4l-0.2 -1.7M106.5 219.0l0.9 -1.4l0.7 -1.0M36.9 212.9l-0.8 -1.0l-0.9 0.7l-1.8 0.1M148.0 160.9l0.2 0.7M212.7 274.9l-0.4 -0.8M126.2 43.3l-0.2 0.4l-0.2 0.6l0.3 0.1M52.4 226.4l-1.0 0.8l-0.4 0.9M0.6 247.2l-0.3 -1.5M300.6 247.2l-0.3 -1.5M119.3 138.6l-0.6 -0.3l-1.1 -0.5l-0.3 0.6M99.8 247.1l-0.5 0.7l-0.2 1.3M99.7 124.1l0.1 -0.3l-0.6 -0.6M152.4 119.4l-1.1 0.7l-1.3 -1.0l-0.8 -0.4M285.5 -0.7l0.3 0.7l-0.7 1.1M285.5 299.3l0.3 0.7l-0.7 1.1M89.6 97.4l0.3 0.1M132.8 160.2l-1.3 -1.0l-0.1 -0.8l0.0 -1.6M234.2 48.9l-0.7 1.3M70.3 131.9l0.5 0.5M78.8 240.8l-0.8 -1.1l0.9 -1.4M21.0 207.3l1.5 0.5l0.2 -0.3M68.4 86.1l0.1 1.7l-1.5 0.3l0.2 1.1M230.5 189.7l0.8 0.0l0.6 -1.5l0.4 -1.6M293.7 45.6l-0.6 -0.2l-0.7 -1.1M164.2 187.2l0.2 0.2l0.3 0.0M77.0 214.9l-1.4 -1.1l-0.9 0.7l-0.7 -0.1M199.8 69.6l0.7 0.5l1.0 -0.0l0.3 -1.0M110.4 77.3l0.2 0.3l-0.9 0.6l-0.5 0.1M23.8 55.5l0.3 -0.3l-0.9 -1.2M223.1 164.3l-0.3 -0.6l-0.1 -0.3M239.1 154.2l0.5 -1.4M137.0 279.6l-1.0 1.0M164.7 30.4l-1.5 -0.5l-0.4 -0.7M288.0 125.5l1.1 -1.1l0.5 -1.7l0.7 -0.1M234.1 132.8l0.7 -1.3M50.2 103.8l-1.3 1.1l-0.8 1.1M88.5 75.9l-0.2 -0.5l-0.5 0.0l-0.5 0.4M8.0 172.5l0.5 -0.4l0.6 -0.8l0.6 -1.3M108.2 272.6l-0.0 0.6l-1.2 0.5l-1.4 0.2M136.1 111.4l-0.0 0.5M264.9 174.0l0.5 0.5M160.5 139.0l1.2 -1.1l0.1 -0.8l1.7 0.1M175.5 49.4l0.5 -1.7l-0.4 -1.6l-0.8 -1.0M146.6 145.6l1.0 -0.4l0.4 -0.5l-0.7 -0.9M175.1 73.5l-0.7 0.2l-0.4 -1.0l-0.7 -1.4M-5.1 35.3l0.5 0.9l-0.1 0.4M294.9 35.3l0.5 0.9l-0.1 0.4M242.3 125.9l-0.9 0.2M67.7 109.8l0.5 -1.1M3.2 42.8l1.6 0.7l-0.4 1.4l0.5 1.2M303.2 42.8l1.6 0.7l-0.4 1.4l0.5 1.2M215.2 147.5l-0.0 1.0M56.7 34.2l0.4 0.1l0.8 -1.2M170.5 153.0l0.5 -0.9l-0.5 -0.4M222.1 260.5l-0.0 -1.4M189.1 84.7l0.3 -0.8l-1.3 -0.7M215.5 71.3l0.9 -1.5l-0.7 -0.9l-1.6 -0.6M205.8 45.5l-0.3 0.2M256.5 111.5l0.7 0.3M181.0 153.2l-1.1 -0.6M106.7 1.4l0.8 -0.9l0.6 -1.1l-0.4 -1.0M106.7 301.4l0.8 -0.9l0.6 -1.1l-0.4 -1.0M112.1 124.3l0.1 -0.8l0.2 -1.4M75.2 93.3l0.3 1.0l-0.1 1.6M60.7 86.2l-0.6 0.8l0.1 1.2M47.2 -1.9l-0.6 -1.0M47.2 298.1l-0.6 -1.0M87.9 126.3l-0.3 -1.4M280.5 36.1l-0.3 0.6l-0.4 1.0l0.5 0.7M1.8 119.2l-1.3 0.4M301.8 119.2l-1.3 0.4M181.9 38.9l-0.1 1.8l-0.8 1.0M76.8 65.5l1.4 0.3l0.9 -0.4M106.0 61.6l0.7 0.7l0.7 -0.6l0.2 -1.1M109.9 279.7l-0.9 -0.3l-0.4 0.6l-0.5 -0.1M88.1 172.4l-0.3 -0.0M179.4 187.7l1.3 -0.5M129.0 291.0l-1.2 -0.1M71.4 111.5l0.4 -0.1l0.4 0.0l0.3 0.4M152.6 54.2l-0.1 -1.1l0.8 -0.1l-0.1 -0.5M120.9 36.9l-0.3 0.1l-0.5 -0.1l-1.4 0.9M36.0 67.0l-1.0 -1.0M198.7 12.9l0.6 0.6l-0.3 0.8M201.9 247.6l0.5 -1.0M114.7 149.1l-0.3 0.3l-1.0 -0.9l-0.6 -0.1M2.2 226.0l0.2 0.4M302.2 226.0l0.2 0.4M128.2 162.2l0.9 -0.5l1.4 0.2l0.6 -0.3M183.3 248.8l0.3 0.2l1.2 -0.5l0.9 1.2M92.1 19.7l0.5 -0.0l0.5 1.3l-0.4 1.2M62.3 225.9l-0.5 -0.4l0.1 -0.9M176.2 282.5l0.2 -0.4M112.4 179.6l-0.6 1.5l-1.1 -0.2M93.7 211.1l-0.4 -0.6M182.1 72.1l-1.4 -0.2l-0.4 -0.4M1.5 115.8l0.5 -1.6M301.5 115.8l0.5 -1.6M149.7 241.1l0.3 -1.1M277.0 179.0l-0.4 0.6l-1.2 -0.8l-1.2 -1.1M218.4 85.2l-0.3 -1.1l-1.2 -1.2M137.9 236.8l0.3 -0.2M249.4 257.1l0.8 -0.3l0.6 1.1l0.6 1.0M52.9 253.9l-0.4 0.1l-0.4 1.1M232.6 87.4l-0.9 0.4l-0.8 1.0M211.9 65.3l-0.4 -0.0M232.1 62.7l0.0 -0.5l0.4 -1.1M163.7 290.1l0.2 1.4l-0.3 0.4l0.5 1.6M193.7 177.8l0.0 -0.6l0.9 -0.3l0.5 -0.1M63.2 282.3l0.4 0.3l0.6 0.6l0.4 0.4M159.8 56.0l-0.2 1.1l-1.5 0.0M215.6 0.1l0.3 0.2l-0.6 1.0M215.6 300.1l0.3 0.2l-0.6 1.0M158.1 120.6l-0.6 0.9l-0.1 0.6M191.2 7.0l0.8 -0.1M80.4 83.3l1.2 0.8l0.8 -0.1M49.8 93.7l-1.2 0.4l-0.6 1.2l-0.7 0.5M4.9 87.4l0.1 -0.8l0.5 -1.4M304.9 87.4l0.1 -0.8l0.5 -1.4M65.4 239.4l0.7 1.5l0.4 0.7l0.0 0.7M131.9 135.0l-0.6 0.9l-0.0 0.5M242.9 145.1l-0.5 -0.6l-1.3 0.5l-0.9 -1.1M8.7 201.6l-1.3 -0.1l-1.3 -0.9l0.4 -1.1M18.8 147.1l-0.9 0.2M201.0 91.9l0.7 1.3M261.6 246.9l-0.1 0.6l0.8 0.6l1.1 -1.4M264.8 169.8l-0.8 -1.4l0.3 -0.2M88.8 179.0l0.0 1.3l-0.3 0.5l-1.5 -0.7M247.0 121.9l0.3 1.3l-0.2 1.5M12.2 200.4l0.8 -0.6l0.6 0.2l-0.0 1.3M154.6 62.0l0.2 0.2l1.0 0.5l0.6 -1.0M174.9 131.5l-0.1 1.5M58.2 278.2l-0.7 -0.3M215.6 228.8l-0.4 -0.3l0.3 -1.4M14.6 221.6l-0.7 0.1l-0.5 0.1l-1.3 -0.0M74.3 99.2l0.9 1.4M24.8 42.2l0.0 -1.5M7.3 192.2l-0.6 -0.6l-0.7 -0.0l-0.0 -1.0M196.6 50.4l0.0 -0.9l-0.8 -0.2M128.0 192.6l0.7 0.1l0.8 -1.4l0.8 -0.0M164.1 262.0l0.2 -0.6l1.2 -0.2l1.0 -0.4M46.3 220.5l-1.3 -0.4l-1.1 -0.7M108.0 230.9l1.6 -0.6l1.1 1.1M216.8 245.6l0.6 -0.9l0.8 -0.8l1.4 -1.1M88.3 45.4l1.1 -0.9l0.5 -1.2l-0.8 -0.4M192.5 246.9l0.8 -0.5l1.4 -1.1l-0.3 -0.9M59.7 164.0l0.0 0.9l-1.5 0.8l-1.0 -0.7M55.5 26.6l-0.2 -1.7l-0.6 -0.2l-0.3 -0.2M248.7 31.2l-1.3 -0.1l-0.3 -0.3l-0.0 -1.6M127.2 228.0l-0.3 0.3l-0.9 0.6l-1.2 1.1M27.9 132.2l0.1 0.8l0.2 0.2M134.1 83.1l0.1 1.4l1.0 1.0l-0.1 0.8M217.6 266.8l-1.3 -0.3l0.1 -1.1l1.2 -0.2M272.5 214.4l1.4 0.1l1.0 0.6l0.1 1.8M189.8 179.9l0.4 0.2l0.4 -0.2M285.5 74.0l-0.1 -0.6l-0.1 -0.3M143.8 277.4l-1.7 0.2l-0.9 1.4M261.8 137.1l-0.9 -0.9l-1.5 0.1M41.2 74.4l-1.0 -0.7l0.8 -1.3l0.7 0.2M240.2 234.3l-0.0 0.8l-0.6 0.8M25.8 225.5l0.0 0.3M261.0 241.6l0.8 0.4l0.5 -0.3l0.8 -1.5M188.8 225.0l1.2 -0.8M260.0 274.2l-0.4 0.6M-5.4 226.2l0.6 0.3l0.5 -0.4M294.6 226.2l0.6 0.3l0.5 -0.4M178.4 232.8l0.7 1.1M69.1 289.3l0.5 -1.1l0.7 0.3M176.1 155.5l0.6 -0.3l0.5 0.6l0.6 0.3M85.6 241.8l-1.2 -0.0M145.8 203.6l0.5 -1.2M200.9 215.3l-1.4 1.1l-0.8 0.8l-1.0 -1.0M11.2 83.3l-1.1 -0.8l-0.8 0.5M32.3 178.8l-0.1 0.5M45.1 264.8l1.2 0.1M142.5 111.9l-0.8 0.8l-1.8 -0.2M67.6 254.9l-0.3 -0.2l-0.2 -1.7M177.6 225.5l0.5 -0.1l0.8 0.7l1.0 1.1M232.2 279.2l0.3 -0.4l-0.4 -1.6M291.5 13.7l0.3 -0.3l0.2 -0.4M155.3 266.9l1.7 0.2l0.4 0.7l-1.1 0.8M282.0 286.5l0.4 -0.3l1.0 -0.7M185.7 -5.8l-0.5 0.1l-1.7 0.1l-0.9 1.1M185.7 294.2l-0.5 0.1l-1.7 0.1l-0.9 1.1M257.2 193.9l0.3 1.3l1.5 0.3M9.4 148.6l-0.5 1.2l1.1 1.0l-0.7 1.4M201.8 136.6l0.2 -1.2l-0.0 -1.7M20.6 133.4l0.5 -0.3M168.3 62.8l-0.3 -0.2l-0.5 0.2l-0.8 -1.4M74.7 36.5l-0.6 -1.1l-1.4 0.1l-0.5 0.9M115.8 103.4l-1.5 0.8M69.7 257.0l-0.2 1.0l0.3 0.4l-0.1 0.4M65.8 266.0l1.2 -0.6l1.4 0.9l1.0 -0.6M201.0 41.5l0.5 1.2l-0.1 0.9M43.2 196.0l-0.4 -0.4M263.7 179.2l-1.1 -0.9M263.2 259.4l-0.6 -0.1M48.1 237.7l-1.2 -1.3l-0.2 -0.8M6.9 291.9l-1.4 0.7l0.4 1.0l1.1 0.1M142.8 221.9l0.0 0.4l-0.0 0.6M263.4 9.3l-1.2 -1.2l0.1 -0.3l0.5 -0.7M254.9 57.0l0.9 0.5l1.1 -1.3M40.8 241.0l-0.1 1.3M98.0 195.4l1.5 -0.0M64.5 99.4l0.2 -0.5l-0.6 -0.6M7.9 75.5l0.2 0.4l-0.1 0.9l0.4 0.4M31.7 259.3l-0.6 -0.7M74.5 189.0l1.0 -1.3l0.6 -0.2l0.3 -0.2M122.3 79.0l1.6 -0.2l0.9 0.2l0.4 0.0M227.5 43.5l1.2 -0.6M24.9 82.2l0.1 0.5M210.0 236.2l0.5 -0.3M121.6 147.8l-0.3 -0.1l-1.1 -1.3l-0.3 0.0M67.7 272.5l-0.4 -1.0l-0.3 -0.8l-0.8 -0.4M46.6 122.6l0.6 0.5M171.1 186.1l-0.3 -1.7l-1.6 -0.3l-1.0 -1.4M27.1 33.5l0.7 -1.0l0.1 -1.5l0.6 -1.4M37.9 221.2l-0.5 1.2M8.0 218.9l0.1 -0.5l0.5 -0.6l0.6 -0.2M19.8 189.0l0.1 -0.5l1.4 -0.1l-0.0 -0.7M176.5 42.4l-0.3 0.8l-0.3 0.7M105.2 146.6l-0.6 0.8l-0.9 -0.1M156.3 138.0l1.6 -0.1l0.6 0.2M286.0 79.3l0.3 0.1M165.2 170.4l0.1 0.3M63.6 72.1l0.2 -0.4l-0.1 -0.6M70.1 242.8l0.0 0.5l1.5 0.5M61.5 56.1l0.6 0.6l0.2 0.2l0.8 0.1M48.4 64.4l-0.1 0.5l-0.8 0.4M186.7 50.3l1.2 0.6M84.5 76.7l0.5 -1.3l-0.5 -1.2l-1.3 0.1M130.1 224.4l0.5 0.9l0.1 0.7l-0.8 0.5M91.2 192.7l0.4 -1.3M188.9 9.3l-0.9 1.1M111.6 16.9l-1.3 1.2l-0.7 -0.2M13.8 265.2l-1.6 -0.5l-0.5 -0.0M31.0 175.5l0.1 -1.5l-0.1 -0.3M4.4 24.3l-0.5 0.5l-0.3 0.1l-0.5 -1.5M304.4 24.3l-0.5 0.5l-0.3 0.1l-0.5 -1.5M-1.1 110.1l1.6 0.0l1.7 -0.4l1.0 0.7M298.9 110.1l1.6 0.0l1.7 -0.4l1.0 0.7M277.8 117.2l0.5 -0.1l0.7 -0.6M204.9 68.7l-0.6 0.7l0.4 1.2l-0.7 1.2M158.8 254.0l1.5 0.0M267.6 229.6l0.5 1.2l1.0 1.1l0.7 1.4M192.9 21.6l-0.8 0.9M49.6 162.6l-1.3 1.2l0.2 1.3M229.1 241.1l0.6 -0.8l-0.4 -0.9l-0.3 0.0M136.3 196.3l-0.4 -0.6l-1.0 -1.3M16.7 100.1l-0.7 -0.4M274.2 94.5l0.1 0.6l1.6 0.7l0.3 1.3M116.4 204.7l0.2 1.5l1.6 0.7M116.5 114.9l-1.0 -1.5l0.7 -1.1l1.4 0.6M45.8 27.0l0.3 -1.3l0.2 -0.3l0.6 0.0M260.6 112.1l1.2 0.0l1.3 0.9M31.3 64.6l-0.1 -1.6l-0.5 -1.6l0.8 -0.3M112.5 110.2l0.8 0.6l1.1 0.3M64.8 214.5l0.3 1.0l-1.3 0.5M252.1 218.4l-1.6 0.1l-0.1 0.5l-0.9 1.3M206.6 40.6l-0.4 0.4M26.4 239.1l-0.5 -0.2l-0.7 -0.5l0.6 -1.2M247.3 250.6l-0.6 1.1l-0.1 0.4M158.4 53.1l1.2 -0.3l0.5 -1.2M120.0 248.7l0.2 0.9l-0.2 0.9M27.3 -4.7l0.5 1.1l1.0 -0.2l0.4 0.6M27.3 295.3l0.5 1.1l1.0 -0.2l0.4 0.6M184.5 255.8l-1.0 0.1l-1.1 -1.2M228.6 202.3l0.1 -0.6M5.1 0.0l-0.7 -0.2l-0.4 -1.4M5.1 300.0l-0.7 -0.2l-0.4 -1.4M305.1 0.0l-0.7 -0.2l-0.4 -1.4M305.1 300.0l-0.7 -0.2l-0.4 -1.4M226.7 13.6l-0.4 0.4M135.1 106.4l0.5 0.2l1.3 -0.3l0.4 1.5M278.6 237.4l-0.6 -1.3l1.1 -1.1M100.5 160.2l0.3 0.1l1.0 1.3M263.0 148.2l1.2 -1.0l-0.0 -0.9M6.3 255.6l-1.5 0.7M83.9 13.0l-1.3 -1.0M175.0 170.6l0.4 -0.8l-0.1 -1.7l0.6 -0.3M189.7 272.6l-0.1 0.6l0.2 1.4M100.7 84.1l-0.7 1.0l-1.4 0.4M216.5 -5.1l0.0 -1.0l-1.4 -0.1l-0.0 0.3M216.5 294.9l0.0 -1.0l-1.4 -0.1l-0.0 0.3M151.1 179.7l1.7 -0.5l1.2 0.1M59.4 5.7l-0.6 -0.8M59.4 305.7l-0.6 -0.8M-4.7 209.9l-0.4 -0.2M295.3 209.9l-0.4 -0.2M220.2 132.2l-0.1 -0.8M112.4 278.7l0.1 0.5l0.4 0.1l0.1 1.2M233.3 231.9l0.5 0.2l0.0 1.0M55.4 145.1l1.0 -0.9M213.7 184.4l0.8 -1.4l0.4 -0.1M-4.1 288.6l1.1 -1.2l0.0 -0.6M295.9 288.6l1.1 -1.2l0.0 -0.6M97.2 290.3l0.8 -0.3l-0.1 -1.0l0.2 -0.4M100.1 80.0l-0.4 -0.2M153.3 107.3l0.1 0.6M143.1 127.9l1.5 -0.5l1.7 0.5M281.8 212.7l0.2 1.6M90.4 23.9l1.0 1.4l1.5 0.1M268.8 44.5l-0.3 -0.5l-0.9 0.1M278.8 292.4l0.5 -1.4l-0.8 -0.9l-0.3 -1.0M107.0 235.4l0.1 0.4l-0.5 0.6M234.6 203.5l-1.5 -0.0M135.5 36.6l-1.3 0.6l-0.8 -1.2l-0.2 -1.4M11.9 141.0l1.0 1.3M187.2 166.5l0.3 -1.4l-1.0 -0.9M141.5 29.3l0.1 0.4M137.6 65.8l-0.0 -0.6l-0.3 -0.0l-0.3 -0.4M103.3 5.6l0.8 -0.3M103.3 305.6l0.8 -0.3M252.5 55.5l-0.4 -0.9l-1.4 0.3l-0.2 -0.3M49.9 266.4l0.3 1.6l0.5 0.9l-0.1 0.9M78.8 21.2l0.0 0.6l-0.5 0.4M224.3 71.5l1.2 -0.4l1.4 0.8M59.2 272.5l-0.7 0.6l-0.6 0.7l-0.6 0.4M86.3 82.1l-0.1 1.0M40.2 192.5l-0.8 -0.8l-0.7 0.7M157.9 66.0l0.7 1.5l0.3 0.7M81.0 122.6l-0.5 -0.9l-0.5 -0.2M32.8 265.0l0.2 1.2l0.1 0.5M74.6 32.7l-1.1 -1.3l0.3 -0.6M173.2 90.1l-1.3 0.8l-1.0 0.8M126.5 3.7l-1.4 -0.0l-0.5 0.1M126.5 303.7l-1.4 -0.0l-0.5 0.1M64.2 75.8l-0.2 1.6l-0.8 -0.0M170.8 214.2l1.3 1.2l0.9 -0.8M82.0 224.5l1.3 -1.1l0.3 -0.4M186.6 20.4l-0.2 -1.2l1.0 -0.8l1.0 -0.5M234.5 136.3l0.1 0.7M111.6 272.0l0.1 0.7M260.9 12.9l-1.1 -1.1l-0.3 0.2l-0.4 -0.4M197.6 31.9l-0.8 0.3M266.6 281.5l-0.9 0.5M4.5 74.5l-0.5 -1.3l-0.8 -1.2l0.4 -1.1M304.5 74.5l-0.5 -1.3l-0.8 -1.2l0.4 -1.1M191.9 39.0l-0.3 1.4l-0.9 0.1l-0.2 -0.9M153.7 252.8l-0.8 1.5l0.4 1.7l0.3 1.1M243.9 41.4l-0.8 0.9M122.2 172.5l0.5 0.3l0.5 0.4l-0.6 0.8M22.1 150.7l1.3 -0.7M81.7 -3.9l-1.1 0.2M81.7 296.1l-1.1 0.2M73.2 10.2l0.0 -0.4M152.4 221.6l-1.3 -0.4M117.2 186.5l0.8 0.1l0.2 -1.4l0.4 -0.5M178.8 161.8l-0.1 1.6l0.7 0.4M17.4 281.0l0.3 1.4M293.6 112.4l-0.2 1.5M268.9 275.4l-0.9 0.9M195.4 260.3l1.0 -1.3M260.6 145.3l-1.0 -0.3M278.9 113.4l-0.7 -0.5M38.7 208.5l1.1 -0.7l-0.5 -1.1M7.8 103.8l-0.9 0.8l-0.9 0.2M124.3 -1.0l-1.4 0.6l-0.3 1.6l-0.5 1.4M124.3 299.0l-1.4 0.6l-0.3 1.6l-0.5 1.4M219.8 178.8l-0.8 -1.3M255.9 48.7l-0.3 -0.8M105.5 49.4l1.4 0.3l1.7 -0.4M84.6 111.9l-0.6 -0.3M84.3 139.8l-0.2 0.2M132.3 127.1l-0.7 0.2l-0.2 0.7l-0.8 0.4M125.1 249.2l-0.8 0.5M138.6 33.9l-0.5 -1.7M242.4 154.9l0.5 1.2l-0.8 0.7M266.2 92.0l1.4 0.4l0.9 -0.7l0.8 0.7M65.5 130.9l-0.9 -1.3l-1.1 -1.1l-0.7 0.2M224.1 167.0l-0.8 0.7l0.0 0.7M65.5 16.5l-0.8 -1.0M206.0 6.5l-0.8 -0.9M39.8 230.1l-1.2 0.9l-0.3 -0.3M201.1 65.7l-0.7 -1.4l0.3 -0.4l1.1 -0.7M93.5 163.7l0.0 0.5M52.5 240.4l1.2 -0.5l-0.2 -1.0l0.0 -0.8M21.0 256.9l-0.7 -0.1l-1.1 -1.3M216.2 9.3l-0.8 0.6l-0.2 -0.2l-0.5 -0.2M8.2 195.9l0.3 1.2M230.8 288.0l-0.1 -0.4l0.2 -1.6l0.5 -0.5M221.9 252.3l0.1 -0.4l0.4 -1.6l0.7 -1.6M47.6 73.4l-0.8 -1.5l-1.4 -0.4M131.7 165.9l1.1 -0.6M198.1 133.8l-0.5 -1.5l-1.1 0.3M49.7 88.9l-0.7 1.5M3.8 49.8l-1.3 1.0M303.8 49.8l-1.3 1.0M153.3 278.0l0.5 -0.1l0.7 1.0l-0.5 1.1M167.5 89.6l-0.5 -0.0l-0.9 -0.1M-4.2 143.3l-0.1 0.4M295.8 143.3l-0.1 0.4M6.7 288.3l-1.7 -0.0l-0.2 1.4l0.2 0.3M233.9 263.5l0.6 -1.7l-0.3 -1.8M174.1 172.1l0.9 0.7l-0.5 1.2M136.5 87.6l0.8 1.3M223.3 263.8l-1.1 0.9l0.2 0.3l-1.3 0.8M212.3 124.8l0.7 0.5l1.0 0.7l0.3 0.5M218.3 98.5l-0.0 -0.5l1.5 -0.3M3.8 146.2l1.1 -0.4l-0.1 -0.5M303.8 146.2l1.1 -0.4l-0.1 -0.5M16.5 116.8l0.2 0.8l0.9 0.4l0.5 -0.3M141.4 67.1l-1.1 -0.1l0.0 -1.4l0.6 -0.5M81.8 248.6l-0.4 1.5l-0.9 0.0" stroke-width="2.9"/><path d="M4.8 158.1l-0.7 0.9M304.8 158.1l-0.7 0.9M288.2 144.7l-1.1 0.5l0.1 0.5M4.4 80.2l0.2 0.8l0.9 0.3M304.4 80.2l0.2 0.8l0.9 0.3M172.3 40.3l-0.6 -1.2l-0.8 -0.5M207.6 175.7l-0.5 -0.8M188.7 134.7l0.6 -0.9l-0.5 -0.6M214.1 54.4l-0.0 -0.4l0.3 -1.0M279.2 218.1l0.2 -1.7l1.0 -1.1M284.1 26.9l-0.1 -1.0l1.3 -0.7l0.1 -0.5M290.4 154.2l0.1 1.2l0.8 0.1M137.1 60.7l-0.9 0.7M162.0 22.3l1.0 -1.2M103.7 222.5l0.3 1.6l-1.5 0.4M98.0 163.7l-0.3 1.7l-0.4 0.1M94.6 119.8l1.3 0.2M25.2 25.7l-0.1 -1.4l0.0 -1.0M53.6 19.3l0.5 -0.8l-0.1 -0.4M70.5 215.2l0.3 -0.1M77.7 265.8l0.8 1.0M237.1 199.5l-0.7 -1.1l0.3 -1.7M273.0 -3.5l-0.3 1.4l-0.0 0.9M273.0 296.5l-0.3 1.4l-0.0 0.9M172.9 248.4l-1.3 1.3l-0.4 0.4M256.3 122.4l0.5 0.6M170.8 272.1l-0.4 -0.9l-0.4 -0.2l-1.1 0.1M236.5 236.9l-0.3 0.2l-0.8 0.8M253.8 114.2l-0.8 -0.0l-0.5 0.2l-0.3 0.0M83.0 4.9l-0.5 0.5l-0.9 0.5l0.2 0.4M83.0 304.9l-0.5 0.5l-0.9 0.5l0.2 0.4M118.0 71.2l0.4 0.7M18.9 266.7l1.4 1.1l-0.6 1.1M237.2 221.2l0.9 -1.2M-4.8 30.6l0.4 0.3l0.7 -0.5l0.2 -0.6M295.2 30.6l0.4 0.3l0.7 -0.5l0.2 -0.6M190.5 106.7l0.6 -0.7l1.1 -0.3M289.5 66.5l-0.8 -1.2l-0.5 -0.0M278.3 46.2l1.1 -1.4l1.2 0.1M-1.2 221.5l-0.8 -0.6l-1.2 0.5M298.8 221.5l-0.8 -0.6l-1.2 0.5M263.2 219.1l-1.0 -0.6l0.6 -1.1M25.7 109.4l0.4 -0.5l1.3 -0.2M122.4 184.0l-0.5 0.2l-0.4 -0.8M183.5 177.4l-1.2 0.7l-0.6 -0.8l0.3 -1.0M16.6 228.8l0.6 0.1l0.4 0.4M156.9 22.9l-0.8 -0.0l-0.2 0.5M173.5 226.2l0.9 1.0l0.2 0.9M70.9 248.0l-0.5 0.2l-0.5 1.2M-5.8 261.0l0.9 0.1l0.3 0.4l-0.3 0.2M294.2 261.0l0.9 0.1l0.3 0.4l-0.3 0.2M-0.5 159.2l0.3 -0.3l-0.9 -1.5M299.5 159.2l0.3 -0.3l-0.9 -1.5M22.5 117.9l-0.6 0.1l-0.7 -1.4M248.9 272.8l0.3 0.8l-1.4 1.1l-0.2 1.6M54.8 190.6l1.0 -0.0M169.8 72.3l-0.8 -0.9l0.2 -0.4M204.0 -3.2l0.5 0.5l0.6 0.2M204.0 296.8l0.5 0.5l0.6 0.2M292.7 107.4l-0.7 0.3l-1.4 0.7M147.2 219.8l-0.4 1.0l-0.5 0.6M61.9 2.0l0.4 0.2l0.9 -0.5l0.0 -1.2M61.9 302.0l0.4 0.2l0.9 -0.5l0.0 -1.2M170.8 122.2l0.2 0.4M176.8 79.8l0.2 -0.7l0.1 -1.6l0.7 -1.6M120.1 26.9l0.1 0.5l-0.1 1.7M42.3 146.8l-0.5 0.8M22.2 281.8l0.1 -1.1l0.0 -1.2M182.5 220.8l0.9 -1.2M223.6 53.1l-0.4 -0.1l-0.2 -0.9M286.3 46.6l-0.3 -1.7l0.2 -1.4l-1.0 -0.6M37.5 79.4l0.8 1.3l-0.1 1.0M255.9 52.4l-0.4 0.3M143.6 19.0l0.3 -1.0M184.3 151.8l0.1 1.6l1.3 0.7l0.6 -1.3M169.7 262.2l0.4 0.5l0.6 -0.4M50.1 125.2l-0.3 0.7l0.7 0.6M202.5 10.5l1.1 -0.8l0.1 -1.3l-1.2 -1.2M208.2 48.6l0.8 0.1l0.6 0.9l0.4 0.2M243.7 223.8l0.3 -0.6M193.9 98.7l0.6 0.2l1.0 0.2M52.1 243.7l-0.8 -0.7M277.3 239.9l0.4 0.7l1.2 -0.0M177.2 221.4l1.5 0.3l0.6 1.5M64.5 153.9l-1.1 -0.7l-0.6 0.9l-0.3 -0.1M247.9 71.9l1.7 0.0M258.9 189.8l-0.5 -0.9M76.3 249.9l-0.0 -1.4l0.4 -1.2M142.4 141.0l-0.2 0.3M234.4 93.2l-0.5 0.7l-1.3 0.4M145.1 215.0l0.6 -1.5l-0.1 -1.5l0.7 -1.2M203.5 147.4l0.9 -1.5l-0.1 -0.3l-0.1 -1.7M261.6 127.9l0.3 -1.0l-0.7 -0.4M179.1 1.5l0.8 -1.3M179.1 301.5l0.8 -1.3M132.2 103.8l-1.1 0.7M207.7 169.7l0.1 1.4M53.7 101.1l-0.6 0.0l-0.4 0.8M127.2 252.6l-0.7 0.6l-0.8 0.3M181.8 147.2l-0.3 0.7l-0.7 1.1M93.7 39.1l-1.5 -0.8l-0.9 0.5l-1.4 0.1M133.2 49.5l0.5 0.1l1.4 0.7l0.4 0.8M120.4 103.4l-0.3 1.1l-0.4 0.6M269.7 6.1l0.3 -0.4M-1.0 75.1l0.8 1.3l1.2 1.0l-0.0 0.4M299.0 75.1l0.8 1.3l1.2 1.0l-0.0 0.4M170.0 220.4l-0.2 -1.6l-0.0 -0.3M100.5 214.0l0.5 -0.1M114.0 184.4l-0.0 1.0M39.0 108.9l-0.6 0.4l-0.0 0.5l-1.5 0.6M238.6 102.6l1.0 -0.2M112.5 42.5l-0.6 0.4l-0.3 0.8l-1.1 0.6M69.6 71.5l-0.1 -0.4M159.0 248.0l-1.1 -0.8l-0.6 -0.5M140.1 91.2l-0.9 0.4M-0.5 251.5l0.4 -0.6l1.3 0.4l-0.2 1.4M299.5 251.5l0.4 -0.6l1.3 0.4l-0.2 1.4M180.7 62.8l-0.0 1.4M-0.4 7.9l0.1 0.9l0.4 1.2M299.6 7.9l0.1 0.9l0.4 1.2M282.6 137.8l-0.4 0.9l-0.8 0.8M187.8 33.3l0.3 -0.4l1.4 -0.1M36.6 124.7l0.9 1.3l0.1 0.3l1.2 0.7M146.1 11.0l-0.4 -0.6M141.8 57.6l0.5 -0.0l0.5 0.0M97.5 200.8l-1.3 0.8l0.3 1.4M48.8 160.0l-1.3 -0.4M57.5 256.7l-0.5 -0.7l-0.3 -0.4l0.6 -0.9M255.5 146.5l1.1 0.8l0.1 0.6l0.2 0.6M274.1 78.8l-0.6 1.6M31.4 229.3l0.2 -1.1l-0.5 -0.1M192.9 228.5l-1.7 -0.2l-0.5 -0.9l0.4 -0.6M106.2 95.8l0.5 0.8M124.7 29.4l-0.2 0.3M283.5 263.2l-0.3 -0.2l-0.7 0.9M267.7 248.7l0.5 1.0M87.0 194.6l0.4 -0.7l1.7 -0.1M-5.5 83.9l-1.1 1.1M294.5 83.9l-1.1 1.1M192.8 111.3l-0.2 0.3l0.1 0.7l1.1 0.5M35.5 130.6l0.2 0.3l-0.1 1.4l0.7 0.3M141.6 106.3l-0.1 0.3l0.3 0.5M244.2 47.4l-0.4 -0.6l-0.6 -0.8l-0.6 0.4M61.0 183.7l0.7 -1.0l-0.8 -1.4l-0.9 -0.5M13.7 12.9l-0.9 -0.4l-1.0 0.9M173.2 257.3l0.9 -0.0M-1.5 71.6l0.9 0.4M298.5 71.6l0.9 0.4M245.3 207.4l-0.4 0.6l-0.7 -0.4l0.6 -1.0M112.0 218.7l-0.3 -0.9M25.1 277.1l0.2 -0.3l1.3 0.6l0.0 0.5M188.2 137.6l-0.8 0.8l0.5 1.5l1.0 0.5M17.3 233.6l-0.6 -1.4M228.1 149.3l1.3 -0.0l0.9 1.1l1.3 0.4M26.2 73.1l0.6 -1.1l1.4 0.2l0.6 0.3M254.7 2.6l1.1 1.4l1.0 0.1M254.7 302.6l1.1 1.4l1.0 0.1M163.4 254.6l0.6 0.9l-0.9 1.0M149.2 5.7l-0.2 1.2M149.2 305.7l-0.2 1.2M37.5 217.8l-0.0 -1.0l1.2 -0.8l0.7 -0.6M163.1 44.7l1.4 -0.9l0.9 -1.3l1.4 -0.5M130.5 0.8l-0.3 0.1l-0.4 0.3l-0.1 0.3M130.5 300.8l-0.3 0.1l-0.4 0.3l-0.1 0.3M224.9 234.7l1.1 0.5l1.3 1.0l1.0 -1.0M286.9 261.6l1.6 0.1l1.5 0.6l0.5 0.4M273.8 75.4l-0.6 -1.1M291.2 270.1l0.3 1.3M210.8 208.8l-0.6 -0.6M133.0 91.7l-1.0 0.0l-0.3 1.1M107.9 268.2l0.8 0.8l0.8 -0.2M23.9 221.7l-1.0 -1.5l-0.9 0.5l-0.7 1.1M120.7 239.7l0.6 0.6M261.1 164.3l-0.4 0.1M109.2 262.5l-0.7 -1.4l1.3 -0.6M51.0 0.7l-0.4 -0.2l-1.7 0.2l-0.5 0.3M51.0 300.7l-0.4 -0.2l-1.7 0.2l-0.5 0.3M199.3 106.5l0.3 0.8l-0.8 0.4M-2.7 257.4l-0.5 0.6M297.3 257.4l-0.5 0.6M277.0 182.1l-0.0 1.4l0.1 0.4M64.5 92.2l-1.0 -1.5M267.6 10.8l0.8 -0.4l0.6 0.1M141.2 171.2l-1.6 0.0l-1.4 -1.0l0.3 -0.4M220.1 216.5l-0.9 0.5l-1.2 0.2M46.5 241.0l-0.8 0.1M199.6 10.4l-1.2 -1.2l-0.3 -0.3l-1.1 -0.7M212.9 137.7l-1.5 0.9M97.7 98.2l0.3 -1.5M82.2 64.0l1.2 -1.0M153.5 89.1l-0.7 -0.4M191.5 80.1l-1.0 1.2l-0.2 0.6M191.7 207.3l0.9 0.0M54.3 257.8l-1.2 1.3l0.3 1.5M44.7 87.8l0.9 0.2l1.1 -0.5l0.4 -0.1M25.0 120.2l0.3 0.4M205.7 253.2l-0.5 0.3l0.0 0.6l0.4 0.3M43.8 45.1l-0.6 1.1l-1.0 -0.0M248.4 66.9l-0.4 0.2l-0.5 0.7M167.0 24.4l-0.7 0.3M253.2 88.9l0.7 1.5l0.1 1.1M30.4 76.1l1.6 0.0l0.6 -0.0M129.0 274.4l-0.6 1.0l0.1 0.7M110.1 152.9l0.7 0.3M214.7 167.6l0.1 -0.4M195.8 89.3l-0.8 0.0l-0.2 -1.4M61.9 35.3l-1.2 -0.1M31.2 136.8l-1.3 -1.1l0.4 -0.6M38.2 71.3l-1.0 0.1M65.1 -0.9l1.5 0.5M65.1 299.1l1.5 0.5M283.5 53.5l-0.5 -0.3M174.9 232.1l-0.2 0.3M141.1 133.8l1.1 1.2l0.1 1.6M136.0 286.5l0.1 0.8l-0.6 1.7M57.3 83.2l0.5 0.1l0.7 1.1M269.8 157.4l-0.6 -0.3M275.7 90.9l1.3 -0.1M118.2 281.0l-1.0 0.2l-0.5 -1.2l-0.7 -0.1M97.8 153.6l1.3 1.1l-0.1 1.3" stroke-width="3.0"/></g></pattern>
</defs>
<rect width="2000" height="1471" fill="#fff"/>
<polygon points="1590.5,745 1860,745 1860,1258.3 1394,1258.3 1394,1110 1590.5,1110" fill="url(#sd)" stroke="#000" stroke-width="2.4"/>
<g fill="#000">
<rect x="136" y="170" width="10" height="1013"/>
<rect x="136" y="170" width="495.5" height="10"/>
<rect x="621.5" y="170" width="10" height="983"/>
<rect x="363" y="1143.5" width="268.5" height="9.5"/>
<rect x="136" y="1174" width="241" height="9"/>
<rect x="363" y="1132" width="9" height="51"/>
<rect x="363" y="1153" width="14" height="30"/>
<rect x="365" y="170" width="9.5" height="313"/>
<rect x="358.5" y="466" width="16" height="9"/>
<rect x="136" y="468" width="19" height="9"/>
<rect x="249" y="468" width="14" height="9"/>
<rect x="255.5" y="468" width="7.5" height="64"/>
<rect x="249" y="467.5" width="50" height="8"/>
<rect x="136" y="523.5" width="127" height="8.5"/>
<rect x="230" y="523.5" width="10" height="17.5"/>
<rect x="136" y="664" width="104" height="10"/>
<rect x="231" y="655.5" width="9" height="18.5"/>
<rect x="338" y="551" width="293.5" height="10"/>
<rect x="366" y="543" width="9" height="18"/>
<rect x="338" y="551" width="9.5" height="19"/>
<rect x="377.5" y="551" width="9" height="72"/>
<rect x="338" y="613.5" width="48.5" height="9.5"/>
<rect x="338" y="605" width="9.5" height="27"/>
<rect x="339" y="688" width="9.5" height="92"/>
<rect x="339" y="762" width="173" height="9"/>
<rect x="469" y="696" width="8.5" height="75"/>
<rect x="469" y="696" width="42" height="9"/>
<rect x="501" y="551" width="10" height="154"/>
<rect x="476" y="495" width="9.5" height="66"/>
<rect x="476" y="495" width="26" height="9"/>
<rect x="597.5" y="495" width="34" height="9"/>
<rect x="570" y="762" width="61.5" height="9"/>
<rect x="339.5" y="840.5" width="9" height="226.5"/>
<rect x="136" y="940" width="212.5" height="9.5"/>
<rect x="266.5" y="1058.5" width="105" height="8.5"/>
<rect x="362.5" y="1058.5" width="9" height="16.5"/>
<rect x="740" y="88.6" width="13" height="1045"/>
<rect x="740" y="88.6" width="202" height="13.4"/>
<rect x="929.7" y="52" width="12.3" height="50"/>
<rect x="929.7" y="52" width="97.3" height="13.6"/>
<rect x="1014" y="52" width="13" height="50"/>
<rect x="1014" y="88.7" width="205.3" height="13.3"/>
<rect x="1203" y="88.7" width="16.3" height="573.3"/>
<rect x="1208" y="640" width="11.3" height="613.5"/>
<rect x="1183.8" y="88.7" width="35.5" height="37.1"/>
<rect x="1181.3" y="364.7" width="38" height="26.3"/>
<rect x="1180.8" y="628.6" width="38.5" height="33.4"/>
<rect x="1153.7" y="628.6" width="65.6" height="7.8"/>
<rect x="1058.4" y="628" width="50.6" height="8.4"/>
<rect x="990" y="632.8" width="70" height="4.8"/>
<rect x="988.5" y="581" width="8.1" height="55"/>
<rect x="959" y="660" width="8.7" height="33.5"/>
<rect x="1085.4" y="628" width="11.2" height="140"/>
<rect x="959" y="754.5" width="260.3" height="13.7"/>
<rect x="959" y="748" width="13" height="253.3"/>
<rect x="961.5" y="1062.2" width="10.5" height="71.4"/>
<rect x="967.6" y="1122" width="4.2" height="131.5"/>
<rect x="926.3" y="1122.3" width="45.7" height="11.1"/>
<rect x="967.6" y="1243" width="33.8" height="10.5"/>
<rect x="1186.6" y="1243" width="32.7" height="10.5"/>
<rect x="740" y="633.3" width="95" height="9.2"/>
<rect x="740" y="971.8" width="67.3" height="9.5"/>
<rect x="799.7" y="971.8" width="7.6" height="31.4"/>
<rect x="799.7" y="1097.4" width="8.6" height="36"/>
<rect x="740" y="1122.3" width="130" height="11.1"/>
<rect x="1394" y="91.5" width="13" height="548.5"/>
<rect x="1394" y="630" width="10" height="483.6"/>
<rect x="1394" y="91.5" width="466" height="23.8"/>
<rect x="1576.2" y="53.4" width="96.6" height="61.9"/>
<rect x="1838.4" y="91.5" width="21.6" height="72"/>
<rect x="1850.6" y="91.5" width="9.4" height="657.1"/>
<rect x="1691.5" y="100" width="8.2" height="372.5"/>
<rect x="1394" y="433.8" width="212.5" height="6.8"/>
<rect x="1658" y="433.8" width="41.7" height="6.8"/>
<rect x="1691.7" y="531.4" width="7.9" height="67.3"/>
<rect x="1691.7" y="569.5" width="168.3" height="9"/>
<rect x="1691.7" y="656.6" width="7.6" height="92"/>
<rect x="1394" y="630.8" width="87" height="9.4"/>
<rect x="1473" y="630.8" width="8" height="15"/>
<rect x="1473.3" y="703.7" width="9.4" height="104.3"/>
<rect x="1394" y="800.7" width="88.7" height="7.3"/>
<rect x="1394" y="966" width="127.7" height="10.7"/>
<rect x="1581.8" y="966" width="8.8" height="10.7"/>
</g>
<line x1="993" y1="634.5" x2="963" y2="661.5" stroke="#000" stroke-width="8.8"/>
<g fill="url(#st)">
<rect x="138" y="172" width="6" height="1009"/>
<rect x="138" y="172" width="491.5" height="6"/>
<rect x="623.5" y="172" width="6" height="979"/>
<rect x="365" y="1145.5" width="264.5" height="5.5"/>
<rect x="138" y="1176" width="237" height="5"/>
<rect x="365" y="1134" width="5" height="47"/>
<rect x="365" y="1155" width="10" height="26"/>
<rect x="367" y="172" width="5.5" height="309"/>
<rect x="360.5" y="468" width="12" height="5"/>
<rect x="138" y="470" width="15" height="5"/>
<rect x="251" y="470" width="10" height="5"/>
<rect x="257.5" y="470" width="3.5" height="60"/>
<rect x="251" y="469.5" width="46" height="4"/>
<rect x="138" y="525.5" width="123" height="4.5"/>
<rect x="232" y="525.5" width="6" height="13.5"/>
<rect x="138" y="666" width="100" height="6"/>
<rect x="233" y="657.5" width="5" height="14.5"/>
<rect x="340" y="553" width="289.5" height="6"/>
<rect x="368" y="545" width="5" height="14"/>
<rect x="340" y="553" width="5.5" height="15"/>
<rect x="379.5" y="553" width="5" height="68"/>
<rect x="340" y="615.5" width="44.5" height="5.5"/>
<rect x="340" y="607" width="5.5" height="23"/>
<rect x="341" y="690" width="5.5" height="88"/>
<rect x="341" y="764" width="169" height="5"/>
<rect x="471" y="698" width="4.5" height="71"/>
<rect x="471" y="698" width="38" height="5"/>
<rect x="503" y="553" width="6" height="150"/>
<rect x="478" y="497" width="5.5" height="62"/>
<rect x="478" y="497" width="22" height="5"/>
<rect x="599.5" y="497" width="30" height="5"/>
<rect x="572" y="764" width="57.5" height="5"/>
<rect x="341.5" y="842.5" width="5" height="222.5"/>
<rect x="138" y="942" width="208.5" height="5.5"/>
<rect x="268.5" y="1060.5" width="101" height="4.5"/>
<rect x="364.5" y="1060.5" width="5" height="12.5"/>
<rect x="742" y="90.6" width="9" height="1041"/>
<rect x="742" y="90.6" width="198" height="9.4"/>
<rect x="931.7" y="54" width="8.3" height="46"/>
<rect x="931.7" y="54" width="93.3" height="9.6"/>
<rect x="1016" y="54" width="9" height="46"/>
<rect x="1016" y="90.7" width="201.3" height="9.3"/>
<rect x="1205" y="90.7" width="12.3" height="569.3"/>
<rect x="1210" y="642" width="7.3" height="609.5"/>
<rect x="1185.8" y="90.7" width="31.5" height="33.1"/>
<rect x="1183.3" y="366.7" width="34" height="22.3"/>
<rect x="1182.8" y="630.6" width="34.5" height="29.4"/>
<rect x="1155.7" y="630.6" width="61.6" height="3.8"/>
<rect x="1060.4" y="630" width="46.6" height="4.4"/>
<rect x="992" y="634.8" width="66" height="0.8"/>
<rect x="990.5" y="583" width="4.1" height="51"/>
<rect x="961" y="662" width="4.7" height="29.5"/>
<rect x="1087.4" y="630" width="7.2" height="136"/>
<rect x="961" y="756.5" width="256.3" height="9.7"/>
<rect x="961" y="750" width="9" height="249.3"/>
<rect x="963.5" y="1064.2" width="6.5" height="67.4"/>
<rect x="969.6" y="1124" width="0.2" height="127.5"/>
<rect x="928.3" y="1124.3" width="41.7" height="7.1"/>
<rect x="969.6" y="1245" width="29.8" height="6.5"/>
<rect x="1188.6" y="1245" width="28.7" height="6.5"/>
<rect x="742" y="635.3" width="91" height="5.2"/>
<rect x="742" y="973.8" width="63.3" height="5.5"/>
<rect x="801.7" y="973.8" width="3.6" height="27.4"/>
<rect x="801.7" y="1099.4" width="4.6" height="32"/>
<rect x="742" y="1124.3" width="126" height="7.1"/>
<rect x="1396" y="93.5" width="9" height="544.5"/>
<rect x="1396" y="632" width="6" height="479.6"/>
<rect x="1396" y="93.5" width="462" height="19.8"/>
<rect x="1578.2" y="55.4" width="92.6" height="57.9"/>
<rect x="1840.4" y="93.5" width="17.6" height="68"/>
<rect x="1852.6" y="93.5" width="5.4" height="653.1"/>
<rect x="1693.5" y="102" width="4.2" height="368.5"/>
<rect x="1396" y="435.8" width="208.5" height="2.8"/>
<rect x="1660" y="435.8" width="37.7" height="2.8"/>
<rect x="1693.7" y="533.4" width="3.9" height="63.3"/>
<rect x="1693.7" y="571.5" width="164.3" height="5"/>
<rect x="1693.7" y="658.6" width="3.6" height="88"/>
<rect x="1396" y="632.8" width="83" height="5.4"/>
<rect x="1475" y="632.8" width="4" height="11"/>
<rect x="1475.3" y="705.7" width="5.4" height="100.3"/>
<rect x="1396" y="802.7" width="84.7" height="3.3"/>
<rect x="1396" y="968" width="123.7" height="6.7"/>
<rect x="1583.8" y="968" width="4.8" height="6.7"/>
</g>
<line x1="993" y1="634.5" x2="963" y2="661.5" stroke="url(#st)" stroke-width="4.8"/>
<rect x="174" y="170" width="143" height="10" fill="#fff"/>
<line x1="174" y1="171" x2="317" y2="171" stroke="#000" stroke-width="1.9"/>
<line x1="174" y1="175" x2="317" y2="175" stroke="#000" stroke-width="1.9"/>
<line x1="174" y1="179" x2="317" y2="179" stroke="#000" stroke-width="1.9"/>
<line x1="174" y1="170" x2="174" y2="180" stroke="#000" stroke-width="2"/>
<line x1="317" y1="170" x2="317" y2="180" stroke="#000" stroke-width="2"/>
<rect x="427" y="170" width="144" height="10" fill="#fff"/>
<line x1="427" y1="171" x2="571" y2="171" stroke="#000" stroke-width="1.9"/>
<line x1="427" y1="175" x2="571" y2="175" stroke="#000" stroke-width="1.9"/>
<line x1="427" y1="179" x2="571" y2="179" stroke="#000" stroke-width="1.9"/>
<line x1="427" y1="170" x2="427" y2="180" stroke="#000" stroke-width="2"/>
<line x1="571" y1="170" x2="571" y2="180" stroke="#000" stroke-width="2"/>
<rect x="400.5" y="1143.5" width="195.5" height="9.5" fill="#fff"/>
<line x1="400.5" y1="1144.4" x2="596" y2="1144.4" stroke="#000" stroke-width="1.8"/>
<line x1="400.5" y1="1148.2" x2="596" y2="1148.2" stroke="#000" stroke-width="1.8"/>
<line x1="400.5" y1="1152.1" x2="596" y2="1152.1" stroke="#000" stroke-width="1.8"/>
<line x1="400.5" y1="1143.5" x2="400.5" y2="1153" stroke="#000" stroke-width="2"/>
<line x1="596" y1="1143.5" x2="596" y2="1153" stroke="#000" stroke-width="2"/>
<rect x="179.5" y="1174" width="139.5" height="9" fill="#fff"/>
<line x1="179.5" y1="1174.9" x2="319" y2="1174.9" stroke="#000" stroke-width="1.7"/>
<line x1="179.5" y1="1178.5" x2="319" y2="1178.5" stroke="#000" stroke-width="1.7"/>
<line x1="179.5" y1="1182.1" x2="319" y2="1182.1" stroke="#000" stroke-width="1.7"/>
<line x1="179.5" y1="1174" x2="179.5" y2="1183" stroke="#000" stroke-width="2"/>
<line x1="319" y1="1174" x2="319" y2="1183" stroke="#000" stroke-width="2"/>
<rect x="764" y="88.6" width="141.3" height="13.4" fill="#fff"/>
<line x1="764" y1="89.7" x2="905.3" y2="89.7" stroke="#000" stroke-width="2.2"/>
<line x1="764" y1="95.3" x2="905.3" y2="95.3" stroke="#000" stroke-width="2.2"/>
<line x1="764" y1="100.9" x2="905.3" y2="100.9" stroke="#000" stroke-width="2.2"/>
<line x1="764" y1="88.6" x2="764" y2="102" stroke="#000" stroke-width="2"/>
<line x1="905.3" y1="88.6" x2="905.3" y2="102" stroke="#000" stroke-width="2"/>
<rect x="1036" y="88.7" width="135.5" height="13.3" fill="#fff"/>
<line x1="1036" y1="89.8" x2="1171.5" y2="89.8" stroke="#000" stroke-width="2.2"/>
<line x1="1036" y1="95.3" x2="1171.5" y2="95.3" stroke="#000" stroke-width="2.2"/>
<line x1="1036" y1="100.9" x2="1171.5" y2="100.9" stroke="#000" stroke-width="2.2"/>
<line x1="1036" y1="88.7" x2="1036" y2="102" stroke="#000" stroke-width="2"/>
<line x1="1171.5" y1="88.7" x2="1171.5" y2="102" stroke="#000" stroke-width="2"/>
<rect x="825.4" y="1122.3" width="44.6" height="11.1" fill="#fff"/>
<line x1="825.4" y1="1123.4" x2="870" y2="1123.4" stroke="#000" stroke-width="2.1"/>
<line x1="825.4" y1="1127.8" x2="870" y2="1127.8" stroke="#000" stroke-width="2.1"/>
<line x1="825.4" y1="1132.3" x2="870" y2="1132.3" stroke="#000" stroke-width="2.1"/>
<line x1="825.4" y1="1122.3" x2="825.4" y2="1133.4" stroke="#000" stroke-width="2"/>
<line x1="870" y1="1122.3" x2="870" y2="1133.4" stroke="#000" stroke-width="2"/>
<rect x="1419.5" y="91.5" width="125.2" height="23.8" fill="#fff"/>
<line x1="1419.5" y1="92.6" x2="1544.7" y2="92.6" stroke="#000" stroke-width="2.2"/>
<line x1="1419.5" y1="103.4" x2="1544.7" y2="103.4" stroke="#000" stroke-width="2.2"/>
<line x1="1419.5" y1="114.2" x2="1544.7" y2="114.2" stroke="#000" stroke-width="2.2"/>
<line x1="1419.5" y1="91.5" x2="1419.5" y2="115.3" stroke="#000" stroke-width="2"/>
<line x1="1544.7" y1="91.5" x2="1544.7" y2="115.3" stroke="#000" stroke-width="2"/>
<g stroke="#000" stroke-linecap="butt">
<line x1="501.8" y1="705" x2="501.8" y2="762" stroke-width="1.8"/>
<line x1="146" y1="754.3" x2="233" y2="754.3" stroke-width="2.6"/>
<line x1="146" y1="771.8" x2="233" y2="771.8" stroke-width="2.6"/>
<line x1="146" y1="789.6" x2="233" y2="789.6" stroke-width="2.6"/>
<line x1="146" y1="807.2" x2="233" y2="807.2" stroke-width="2.6"/>
<line x1="146" y1="825" x2="233" y2="825" stroke-width="2.6"/>
<line x1="146" y1="842.3" x2="233" y2="842.3" stroke-width="2.6"/>
<line x1="146" y1="859.5" x2="233" y2="859.5" stroke-width="2.6"/>
<line x1="146" y1="877.3" x2="233" y2="877.3" stroke-width="2.6"/>
<line x1="232.8" y1="739" x2="232.8" y2="887.4" stroke-width="1.4"/>
<line x1="232.8" y1="887.4" x2="246.5" y2="887.4" stroke-width="1.2"/>
<line x1="240" y1="887.4" x2="240" y2="941" stroke-width="2.2"/>
<line x1="232.8" y1="858" x2="339.5" y2="858" stroke-width="2.2"/>
<line x1="1001" y1="1248.2" x2="1187" y2="1248.2" stroke-width="2.4"/>
<line x1="753" y1="735" x2="843.5" y2="735" stroke-width="2.6"/>
<line x1="753" y1="753.8" x2="843.5" y2="753.8" stroke-width="2.6"/>
<line x1="753" y1="771.9" x2="843.5" y2="771.9" stroke-width="2.6"/>
<line x1="798.8" y1="791.3" x2="843.5" y2="791.3" stroke-width="2.6"/>
<line x1="753" y1="775" x2="843.5" y2="808.4" stroke-width="2.6"/>
<line x1="843.5" y1="735" x2="843.5" y2="880.7" stroke-width="1.4"/>
<line x1="753" y1="858" x2="843.5" y2="880.7" stroke-width="2.6"/>
<line x1="843.5" y1="880.7" x2="883.5" y2="880.7" stroke-width="1.2"/>
<line x1="848.8" y1="880.7" x2="848.8" y2="972" stroke-width="2.6"/>
<line x1="753" y1="970.9" x2="850" y2="970.9" stroke-width="2.6"/>
<line x1="740.8" y1="1133" x2="740.8" y2="1222.4" stroke-width="2.6"/>
<line x1="739.5" y1="1221.2" x2="968" y2="1221.2" stroke-width="2.6"/>
<line x1="826.5" y1="1194" x2="826.5" y2="1222" stroke-width="2.6"/>
<line x1="825.2" y1="1195.2" x2="968" y2="1195.2" stroke-width="2.6"/>
<line x1="1404" y1="820.7" x2="1482.7" y2="820.7" stroke-width="2.6"/>
<line x1="1404" y1="839.2" x2="1482.7" y2="839.2" stroke-width="2.6"/>
<line x1="1404" y1="863.3" x2="1482.7" y2="863.3" stroke-width="2.6"/>
<line x1="1404" y1="881.8" x2="1482.7" y2="881.8" stroke-width="2.6"/>
<line x1="1482.3" y1="808" x2="1482.3" y2="894.5" stroke-width="1.4"/>
</g>
<g stroke="#555" stroke-width="1.3">
<line x1="299" y1="468.5" x2="350" y2="446.4"/>
<line x1="240" y1="542" x2="262" y2="593"/>
<line x1="261" y1="604" x2="240" y2="655.7"/>
<line x1="375" y1="543" x2="396" y2="490.5"/>
<line x1="339" y1="568.5" x2="325.5" y2="602.4"/>
<line x1="339" y1="632" x2="316" y2="684"/>
<line x1="348.4" y1="780" x2="369.5" y2="831.4"/>
<line x1="570" y1="771" x2="518.6" y2="793.3"/>
<line x1="371.4" y1="1075" x2="393.4" y2="1127.3"/>
<line x1="1109" y1="628" x2="1149" y2="611.5"/>
<line x1="959" y1="694" x2="936.6" y2="746.6"/>
<line x1="958.6" y1="1001.3" x2="936.8" y2="1054.6"/>
<line x1="926.3" y1="1133.6" x2="873.8" y2="1155.4"/>
<line x1="1658" y1="433.8" x2="1605.4" y2="411.4"/>
<line x1="1691.7" y1="473" x2="1670.4" y2="524.7"/>
<line x1="1691.7" y1="598.7" x2="1670.4" y2="650.3"/>
<line x1="1504.4" y1="651.4" x2="1482" y2="703"/>
<line x1="1521.7" y1="966" x2="1573.4" y2="944"/>
</g>
<g stroke="#000" stroke-width="2.6" fill="none" stroke-linejoin="miter">
<polyline points="154.8,470.3 173.5,454.3 192.4,474"/>
<polyline points="210.8,473 231,454.7 249.3,471.2"/>
<polyline points="502,497.5 521,481.4 539.8,501"/>
<polyline points="559.4,500.3 580,481.4 597.6,497.5"/>
<polyline points="802.6,1003.2 822.6,1022.3 802.6,1042.2"/>
<polyline points="804.5,1060.3 823.5,1079.4 804.5,1097.4"/>
</g>
<path d="M332.7 472.2 V466.9 A7.3 7.3 0 0 1 347.4 466.9 V472.2" fill="none" stroke="#000" stroke-width="3.3"/>
<rect x="328.2" y="471.2" width="23.7" height="18.6" rx="0.8" fill="#000"/>
<path d="M363.4 502.5 V497 A7.3 7.3 0 0 1 378.1 497 V502.5" fill="none" stroke="#000" stroke-width="3.3"/>
<rect x="359" y="501.5" width="23.5" height="19.1" rx="0.8" fill="#000"/>
<path d="M333.5 815 V809.9 A7.3 7.3 0 0 1 348.2 809.9 V815" fill="none" stroke="#000" stroke-width="3.3"/>
<rect x="329" y="814" width="23.8" height="19.7" rx="0.8" fill="#000"/>
<path d="M153.6 906H161.3L165.9 909.6V920.2L161.3 923.8H153.6ZM170.9 906H182.2V923.8H170.9ZM187.1 906L191.4 923.8L196.4 911.3L201.3 923.8L205.6 906M208.2 923.8V906L220.5 923.8V906" fill="none" stroke="#111" stroke-width="2.2" stroke-linejoin="round" stroke-linecap="round"/>
<path d="M766.4 810.3H774.2L778.9 813.9V824.8L774.2 828.4H766.4ZM783.9 810.3H795.3V828.4H783.9ZM800.3 810.3L804.6 828.4L809.6 815.7L814.6 828.4L818.9 810.3M821.5 828.4V810.3L834 828.4V810.3" fill="none" stroke="#111" stroke-width="2.2" stroke-linejoin="round" stroke-linecap="round"/>
<text transform="translate(171.7 339.3) skewX(-7)" font-size="24.3" textLength="167.6" lengthAdjust="spacingAndGlyphs">BEDROOM #3</text>
<text transform="translate(417.1 338.5) skewX(-7)" font-size="23.2" textLength="168.6" lengthAdjust="spacingAndGlyphs">BEDROOM #2</text>
<text transform="translate(152.7 505.2) skewX(-7)" font-size="23.2" textLength="96.7" lengthAdjust="spacingAndGlyphs">CLOSET</text>
<text transform="translate(201.6 656.9) rotate(-90) skewX(-7)" font-size="24.6" textLength="118" lengthAdjust="spacingAndGlyphs">LAUNDRY</text>
<text transform="translate(507.4 535.7) skewX(-7)" font-size="23.9" textLength="95.6" lengthAdjust="spacingAndGlyphs">CLOSET</text>
<text transform="translate(353.3 671) skewX(-7)" font-size="22.3" textLength="140.8" lengthAdjust="spacingAndGlyphs">BATHROOM</text>
<text transform="translate(573.7 716.2) rotate(-90) skewX(-7)" font-size="24.7" textLength="95.8" lengthAdjust="spacingAndGlyphs">CLOSET</text>
<text transform="translate(160.9 726)" font-size="24.4" textLength="34.5" lengthAdjust="spacingAndGlyphs">UP</text>
<text transform="translate(291.4 804.6) rotate(-90) skewX(-7)" font-size="23.5" textLength="126.8" lengthAdjust="spacingAndGlyphs">CORRIDOR</text>
<text transform="translate(414.3 965) skewX(-7)" font-size="25.1" textLength="167.4" lengthAdjust="spacingAndGlyphs">BEDROOM #1</text>
<text transform="translate(173.9 1113.5) skewX(-7)" font-size="21.6" textLength="104.1" lengthAdjust="spacingAndGlyphs">PRIVATE</text>
<text transform="translate(173.9 1142) skewX(-7)" font-size="23" textLength="141.6" lengthAdjust="spacingAndGlyphs">BATHROOM</text>
<text transform="translate(919.9 351) skewX(-7)" font-size="24.4" textLength="163" lengthAdjust="spacingAndGlyphs">LIVING ROOM</text>
<text transform="translate(784.3 701)" font-size="25.4" textLength="33.8" lengthAdjust="spacingAndGlyphs">UP</text>
<text transform="translate(962.4 721) skewX(-7)" font-size="22.3" textLength="118.7" lengthAdjust="spacingAndGlyphs">WASH RM</text>
<text transform="translate(1102.4 693.5) skewX(-7)" font-size="21.6" textLength="95.3" lengthAdjust="spacingAndGlyphs">CLOSET</text>
<text transform="translate(785.4 1098.7) rotate(-90) skewX(-7)" font-size="25.1" textLength="95.8" lengthAdjust="spacingAndGlyphs">CLOSET</text>
<text transform="translate(1044.6 1030.8) skewX(-7)" font-size="27" textLength="102.3" lengthAdjust="spacingAndGlyphs">GARAGE</text>
<text transform="translate(756.3 1179.7) skewX(-7)" font-size="24.7" textLength="84.3" lengthAdjust="spacingAndGlyphs">PORCH</text>
<text transform="translate(1484.4 279.5) skewX(-7)" font-size="24.7" textLength="136.1" lengthAdjust="spacingAndGlyphs">BASEMENT</text>
<text transform="translate(1518.9 315) skewX(-7)" font-size="23.5" textLength="73.1" lengthAdjust="spacingAndGlyphs">ROOM</text>
<text transform="translate(1783.9 468.4) rotate(-90) skewX(-7)" font-size="23.6" textLength="118.6" lengthAdjust="spacingAndGlyphs">MECH RM</text>
<text transform="translate(1698.9 638) skewX(-7)" font-size="23.3" textLength="140.9" lengthAdjust="spacingAndGlyphs">BATHROOM</text>
<text transform="translate(1446.6 760.2) rotate(-90) skewX(-7)" font-size="23.9" textLength="97.5" lengthAdjust="spacingAndGlyphs">CLOSET</text>
<text transform="translate(1506.2 1091.8) rotate(-90) skewX(-7)" font-size="22.1" textLength="97.1" lengthAdjust="spacingAndGlyphs">CLOSET</text>
<text transform="translate(191.1 1398) scale(0.84 1)" font-size="46.8" font-style="italic" stroke="#111" stroke-width="2.2" stroke-linejoin="round" textLength="450.5" lengthAdjust="spacing">SECOND FLOOR</text>
<line x1="189" y1="1419.6" x2="570" y2="1419.6" stroke="#000" stroke-width="2.6"/>
<text transform="translate(814.5 1396.6) scale(0.84 1)" font-size="45.7" font-style="italic" stroke="#111" stroke-width="2.2" stroke-linejoin="round" textLength="462.9" lengthAdjust="spacing">GROUND FLOOR</text>
<line x1="812.2" y1="1419.4" x2="1204.9" y2="1419.4" stroke="#000" stroke-width="2.6"/>
<text transform="translate(1505.9 1397.3) scale(0.84 1)" font-size="46.4" font-style="italic" stroke="#111" stroke-width="2.2" stroke-linejoin="round" textLength="317.1" lengthAdjust="spacing">BASEMENT</text>
<line x1="1502" y1="1418.7" x2="1776.8" y2="1418.7" stroke="#000" stroke-width="2.6"/>
</svg></body></html>
